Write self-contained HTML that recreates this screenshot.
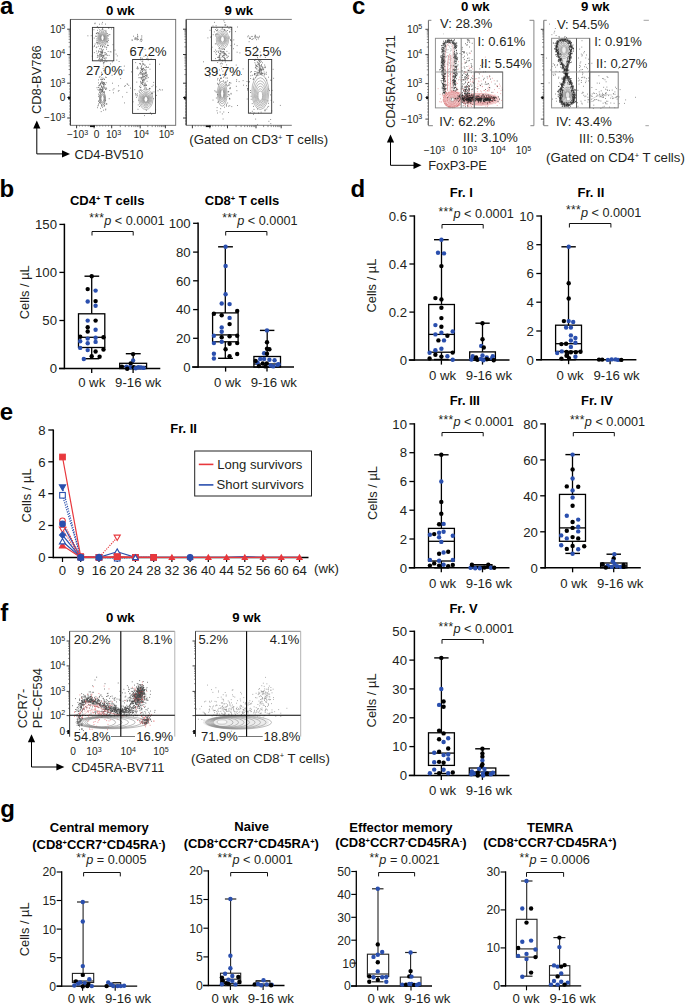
<!DOCTYPE html>
<html><head><meta charset="utf-8"><style>
html,body{margin:0;padding:0;background:#fff;overflow:hidden;width:685px;height:1004px;}
svg{display:block;font-family:"Liberation Sans", sans-serif;}
</style></head><body>
<svg width="685" height="1004" viewBox="0 0 685 1004" fill="#231f20">
<rect width="685" height="1004" fill="#fff"/>
<text x="0.0" y="13.6" font-size="24" font-weight="bold" fill="#000">a</text>
<text x="-0.5" y="197.4" font-size="24" font-weight="bold" fill="#000">b</text>
<text x="352.0" y="13.6" font-size="24" font-weight="bold" fill="#000">c</text>
<text x="350.5" y="197.4" font-size="24" font-weight="bold" fill="#000">d</text>
<text x="-0.3" y="419.7" font-size="24" font-weight="bold" fill="#000">e</text>
<text x="0.2" y="621.0" font-size="24" font-weight="bold" fill="#000">f</text>
<text x="0.2" y="816.6" font-size="24" font-weight="bold" fill="#000">g</text>
<rect x="70.4" y="19.4" width="105.3" height="105.9" fill="none" stroke="#666" stroke-width="0.9"/>
<line x1="70.4" y1="19.4" x2="70.4" y2="125.3" stroke="#333" stroke-width="1" />
<line x1="67.2" y1="29.2" x2="70.4" y2="29.2" stroke="#222" stroke-width="0.9" />
<line x1="67.2" y1="54.5" x2="70.4" y2="54.5" stroke="#222" stroke-width="0.9" />
<line x1="67.2" y1="83.2" x2="70.4" y2="83.2" stroke="#222" stroke-width="0.9" />
<line x1="67.2" y1="97.5" x2="70.4" y2="97.5" stroke="#222" stroke-width="0.9" />
<line x1="67.2" y1="118.0" x2="70.4" y2="118.0" stroke="#222" stroke-width="0.9" />
<line x1="68.6" y1="46.9" x2="70.4" y2="46.9" stroke="#444" stroke-width="0.6" />
<line x1="68.6" y1="42.4" x2="70.4" y2="42.4" stroke="#444" stroke-width="0.6" />
<line x1="68.6" y1="39.3" x2="70.4" y2="39.3" stroke="#444" stroke-width="0.6" />
<line x1="68.6" y1="36.8" x2="70.4" y2="36.8" stroke="#444" stroke-width="0.6" />
<line x1="68.6" y1="34.8" x2="70.4" y2="34.8" stroke="#444" stroke-width="0.6" />
<line x1="68.6" y1="33.1" x2="70.4" y2="33.1" stroke="#444" stroke-width="0.6" />
<line x1="68.6" y1="31.7" x2="70.4" y2="31.7" stroke="#444" stroke-width="0.6" />
<line x1="68.6" y1="30.4" x2="70.4" y2="30.4" stroke="#444" stroke-width="0.6" />
<line x1="68.6" y1="74.6" x2="70.4" y2="74.6" stroke="#444" stroke-width="0.6" />
<line x1="68.6" y1="69.5" x2="70.4" y2="69.5" stroke="#444" stroke-width="0.6" />
<line x1="68.6" y1="65.9" x2="70.4" y2="65.9" stroke="#444" stroke-width="0.6" />
<line x1="68.6" y1="63.1" x2="70.4" y2="63.1" stroke="#444" stroke-width="0.6" />
<line x1="68.6" y1="60.9" x2="70.4" y2="60.9" stroke="#444" stroke-width="0.6" />
<line x1="68.6" y1="58.9" x2="70.4" y2="58.9" stroke="#444" stroke-width="0.6" />
<line x1="68.6" y1="57.3" x2="70.4" y2="57.3" stroke="#444" stroke-width="0.6" />
<line x1="68.6" y1="55.8" x2="70.4" y2="55.8" stroke="#444" stroke-width="0.6" />
<line x1="69.2" y1="86.0" x2="70.4" y2="86.0" stroke="#444" stroke-width="0.6" />
<line x1="69.2" y1="89.0" x2="70.4" y2="89.0" stroke="#444" stroke-width="0.6" />
<line x1="69.2" y1="92.0" x2="70.4" y2="92.0" stroke="#444" stroke-width="0.6" />
<line x1="69.2" y1="95.0" x2="70.4" y2="95.0" stroke="#444" stroke-width="0.6" />
<line x1="69.2" y1="100.0" x2="70.4" y2="100.0" stroke="#444" stroke-width="0.6" />
<line x1="69.2" y1="103.0" x2="70.4" y2="103.0" stroke="#444" stroke-width="0.6" />
<line x1="69.2" y1="106.0" x2="70.4" y2="106.0" stroke="#444" stroke-width="0.6" />
<line x1="69.2" y1="109.0" x2="70.4" y2="109.0" stroke="#444" stroke-width="0.6" />
<line x1="69.2" y1="112.0" x2="70.4" y2="112.0" stroke="#444" stroke-width="0.6" />
<line x1="69.2" y1="115.0" x2="70.4" y2="115.0" stroke="#444" stroke-width="0.6" />
<line x1="69.2" y1="121.0" x2="70.4" y2="121.0" stroke="#444" stroke-width="0.6" />
<line x1="69.2" y1="124.0" x2="70.4" y2="124.0" stroke="#444" stroke-width="0.6" />
<line x1="76.6" y1="125.3" x2="76.6" y2="128.3" stroke="#222" stroke-width="0.9" />
<line x1="94.1" y1="125.3" x2="94.1" y2="128.3" stroke="#222" stroke-width="0.9" />
<line x1="111.7" y1="125.3" x2="111.7" y2="128.3" stroke="#222" stroke-width="0.9" />
<line x1="140.2" y1="125.3" x2="140.2" y2="128.3" stroke="#222" stroke-width="0.9" />
<line x1="165.4" y1="125.3" x2="165.4" y2="128.3" stroke="#222" stroke-width="0.9" />
<line x1="120.3" y1="125.3" x2="120.3" y2="127.1" stroke="#444" stroke-width="0.6" />
<line x1="125.3" y1="125.3" x2="125.3" y2="127.1" stroke="#444" stroke-width="0.6" />
<line x1="128.9" y1="125.3" x2="128.9" y2="127.1" stroke="#444" stroke-width="0.6" />
<line x1="131.6" y1="125.3" x2="131.6" y2="127.1" stroke="#444" stroke-width="0.6" />
<line x1="133.9" y1="125.3" x2="133.9" y2="127.1" stroke="#444" stroke-width="0.6" />
<line x1="135.8" y1="125.3" x2="135.8" y2="127.1" stroke="#444" stroke-width="0.6" />
<line x1="137.4" y1="125.3" x2="137.4" y2="127.1" stroke="#444" stroke-width="0.6" />
<line x1="138.9" y1="125.3" x2="138.9" y2="127.1" stroke="#444" stroke-width="0.6" />
<line x1="147.8" y1="125.3" x2="147.8" y2="127.1" stroke="#444" stroke-width="0.6" />
<line x1="152.2" y1="125.3" x2="152.2" y2="127.1" stroke="#444" stroke-width="0.6" />
<line x1="155.4" y1="125.3" x2="155.4" y2="127.1" stroke="#444" stroke-width="0.6" />
<line x1="157.8" y1="125.3" x2="157.8" y2="127.1" stroke="#444" stroke-width="0.6" />
<line x1="159.8" y1="125.3" x2="159.8" y2="127.1" stroke="#444" stroke-width="0.6" />
<line x1="161.5" y1="125.3" x2="161.5" y2="127.1" stroke="#444" stroke-width="0.6" />
<line x1="163.0" y1="125.3" x2="163.0" y2="127.1" stroke="#444" stroke-width="0.6" />
<line x1="164.2" y1="125.3" x2="164.2" y2="127.1" stroke="#444" stroke-width="0.6" />
<line x1="76.6" y1="125.3" x2="76.6" y2="126.6" stroke="#444" stroke-width="0.5" />
<line x1="79.5" y1="125.3" x2="79.5" y2="126.6" stroke="#444" stroke-width="0.5" />
<line x1="82.4" y1="125.3" x2="82.4" y2="126.6" stroke="#444" stroke-width="0.5" />
<line x1="85.3" y1="125.3" x2="85.3" y2="126.6" stroke="#444" stroke-width="0.5" />
<line x1="88.2" y1="125.3" x2="88.2" y2="126.6" stroke="#444" stroke-width="0.5" />
<line x1="91.1" y1="125.3" x2="91.1" y2="126.6" stroke="#444" stroke-width="0.5" />
<line x1="94.0" y1="125.3" x2="94.0" y2="126.6" stroke="#444" stroke-width="0.5" />
<line x1="96.9" y1="125.3" x2="96.9" y2="126.6" stroke="#444" stroke-width="0.5" />
<line x1="99.8" y1="125.3" x2="99.8" y2="126.6" stroke="#444" stroke-width="0.5" />
<line x1="102.7" y1="125.3" x2="102.7" y2="126.6" stroke="#444" stroke-width="0.5" />
<line x1="105.6" y1="125.3" x2="105.6" y2="126.6" stroke="#444" stroke-width="0.5" />
<line x1="108.5" y1="125.3" x2="108.5" y2="126.6" stroke="#444" stroke-width="0.5" />
<line x1="111.4" y1="125.3" x2="111.4" y2="126.6" stroke="#444" stroke-width="0.5" />
<rect x="89.9" y="125.5" width="5" height="1.6" fill="#111"/>
<rect x="68.10000000000001" y="96.5" width="2" height="3" fill="#111"/>
<text x="65.3" y="32.6" font-size="10.2" text-anchor="end">10<tspan font-size="7.1" dy="-3.7">5</tspan></text>
<text x="65.3" y="57.9" font-size="10.2" text-anchor="end">10<tspan font-size="7.1" dy="-3.7">4</tspan></text>
<text x="65.3" y="86.6" font-size="10.2" text-anchor="end">10<tspan font-size="7.1" dy="-3.7">3</tspan></text>
<text x="65.3" y="100.9" font-size="10.2" text-anchor="end">0</text>
<text x="65.3" y="121.4" font-size="10.2" text-anchor="end">−10<tspan font-size="7.1" dy="-3.7">3</tspan></text>
<text x="77.5" y="138.2" font-size="10.2" text-anchor="middle">−10<tspan font-size="7.1" dy="-3.7">3</tspan></text>
<text x="96.6" y="138.2" font-size="10.2" text-anchor="middle">0</text>
<text x="113.6" y="138.2" font-size="10.2" text-anchor="middle">10<tspan font-size="7.1" dy="-3.7">3</tspan></text>
<text x="141.2" y="138.2" font-size="10.2" text-anchor="middle">10<tspan font-size="7.1" dy="-3.7">4</tspan></text>
<text x="166.3" y="138.2" font-size="10.2" text-anchor="middle">10<tspan font-size="7.1" dy="-3.7">5</tspan></text>
<path d="M186.2 19.4H291.8M186.2 19.4V125.3H291.8" stroke="#666" stroke-width="0.9" fill="none" />
<line x1="186.2" y1="19.4" x2="186.2" y2="125.3" stroke="#333" stroke-width="1" />
<line x1="183.0" y1="29.2" x2="186.2" y2="29.2" stroke="#222" stroke-width="0.9" />
<line x1="183.0" y1="54.5" x2="186.2" y2="54.5" stroke="#222" stroke-width="0.9" />
<line x1="183.0" y1="83.2" x2="186.2" y2="83.2" stroke="#222" stroke-width="0.9" />
<line x1="183.0" y1="97.5" x2="186.2" y2="97.5" stroke="#222" stroke-width="0.9" />
<line x1="183.0" y1="118.0" x2="186.2" y2="118.0" stroke="#222" stroke-width="0.9" />
<line x1="184.4" y1="46.9" x2="186.2" y2="46.9" stroke="#444" stroke-width="0.6" />
<line x1="184.4" y1="42.4" x2="186.2" y2="42.4" stroke="#444" stroke-width="0.6" />
<line x1="184.4" y1="39.3" x2="186.2" y2="39.3" stroke="#444" stroke-width="0.6" />
<line x1="184.4" y1="36.8" x2="186.2" y2="36.8" stroke="#444" stroke-width="0.6" />
<line x1="184.4" y1="34.8" x2="186.2" y2="34.8" stroke="#444" stroke-width="0.6" />
<line x1="184.4" y1="33.1" x2="186.2" y2="33.1" stroke="#444" stroke-width="0.6" />
<line x1="184.4" y1="31.7" x2="186.2" y2="31.7" stroke="#444" stroke-width="0.6" />
<line x1="184.4" y1="30.4" x2="186.2" y2="30.4" stroke="#444" stroke-width="0.6" />
<line x1="184.4" y1="74.6" x2="186.2" y2="74.6" stroke="#444" stroke-width="0.6" />
<line x1="184.4" y1="69.5" x2="186.2" y2="69.5" stroke="#444" stroke-width="0.6" />
<line x1="184.4" y1="65.9" x2="186.2" y2="65.9" stroke="#444" stroke-width="0.6" />
<line x1="184.4" y1="63.1" x2="186.2" y2="63.1" stroke="#444" stroke-width="0.6" />
<line x1="184.4" y1="60.9" x2="186.2" y2="60.9" stroke="#444" stroke-width="0.6" />
<line x1="184.4" y1="58.9" x2="186.2" y2="58.9" stroke="#444" stroke-width="0.6" />
<line x1="184.4" y1="57.3" x2="186.2" y2="57.3" stroke="#444" stroke-width="0.6" />
<line x1="184.4" y1="55.8" x2="186.2" y2="55.8" stroke="#444" stroke-width="0.6" />
<line x1="185.0" y1="86.0" x2="186.2" y2="86.0" stroke="#444" stroke-width="0.6" />
<line x1="185.0" y1="89.0" x2="186.2" y2="89.0" stroke="#444" stroke-width="0.6" />
<line x1="185.0" y1="92.0" x2="186.2" y2="92.0" stroke="#444" stroke-width="0.6" />
<line x1="185.0" y1="95.0" x2="186.2" y2="95.0" stroke="#444" stroke-width="0.6" />
<line x1="185.0" y1="100.0" x2="186.2" y2="100.0" stroke="#444" stroke-width="0.6" />
<line x1="185.0" y1="103.0" x2="186.2" y2="103.0" stroke="#444" stroke-width="0.6" />
<line x1="185.0" y1="106.0" x2="186.2" y2="106.0" stroke="#444" stroke-width="0.6" />
<line x1="185.0" y1="109.0" x2="186.2" y2="109.0" stroke="#444" stroke-width="0.6" />
<line x1="185.0" y1="112.0" x2="186.2" y2="112.0" stroke="#444" stroke-width="0.6" />
<line x1="185.0" y1="115.0" x2="186.2" y2="115.0" stroke="#444" stroke-width="0.6" />
<line x1="185.0" y1="121.0" x2="186.2" y2="121.0" stroke="#444" stroke-width="0.6" />
<line x1="185.0" y1="124.0" x2="186.2" y2="124.0" stroke="#444" stroke-width="0.6" />
<line x1="192.4" y1="125.3" x2="192.4" y2="128.3" stroke="#222" stroke-width="0.9" />
<line x1="209.9" y1="125.3" x2="209.9" y2="128.3" stroke="#222" stroke-width="0.9" />
<line x1="227.5" y1="125.3" x2="227.5" y2="128.3" stroke="#222" stroke-width="0.9" />
<line x1="256.0" y1="125.3" x2="256.0" y2="128.3" stroke="#222" stroke-width="0.9" />
<line x1="281.2" y1="125.3" x2="281.2" y2="128.3" stroke="#222" stroke-width="0.9" />
<line x1="236.1" y1="125.3" x2="236.1" y2="127.1" stroke="#444" stroke-width="0.6" />
<line x1="241.1" y1="125.3" x2="241.1" y2="127.1" stroke="#444" stroke-width="0.6" />
<line x1="244.7" y1="125.3" x2="244.7" y2="127.1" stroke="#444" stroke-width="0.6" />
<line x1="247.4" y1="125.3" x2="247.4" y2="127.1" stroke="#444" stroke-width="0.6" />
<line x1="249.7" y1="125.3" x2="249.7" y2="127.1" stroke="#444" stroke-width="0.6" />
<line x1="251.6" y1="125.3" x2="251.6" y2="127.1" stroke="#444" stroke-width="0.6" />
<line x1="253.2" y1="125.3" x2="253.2" y2="127.1" stroke="#444" stroke-width="0.6" />
<line x1="254.7" y1="125.3" x2="254.7" y2="127.1" stroke="#444" stroke-width="0.6" />
<line x1="263.6" y1="125.3" x2="263.6" y2="127.1" stroke="#444" stroke-width="0.6" />
<line x1="268.0" y1="125.3" x2="268.0" y2="127.1" stroke="#444" stroke-width="0.6" />
<line x1="271.2" y1="125.3" x2="271.2" y2="127.1" stroke="#444" stroke-width="0.6" />
<line x1="273.6" y1="125.3" x2="273.6" y2="127.1" stroke="#444" stroke-width="0.6" />
<line x1="275.6" y1="125.3" x2="275.6" y2="127.1" stroke="#444" stroke-width="0.6" />
<line x1="277.3" y1="125.3" x2="277.3" y2="127.1" stroke="#444" stroke-width="0.6" />
<line x1="278.8" y1="125.3" x2="278.8" y2="127.1" stroke="#444" stroke-width="0.6" />
<line x1="280.0" y1="125.3" x2="280.0" y2="127.1" stroke="#444" stroke-width="0.6" />
<line x1="192.4" y1="125.3" x2="192.4" y2="126.6" stroke="#444" stroke-width="0.5" />
<line x1="195.3" y1="125.3" x2="195.3" y2="126.6" stroke="#444" stroke-width="0.5" />
<line x1="198.2" y1="125.3" x2="198.2" y2="126.6" stroke="#444" stroke-width="0.5" />
<line x1="201.1" y1="125.3" x2="201.1" y2="126.6" stroke="#444" stroke-width="0.5" />
<line x1="204.0" y1="125.3" x2="204.0" y2="126.6" stroke="#444" stroke-width="0.5" />
<line x1="206.9" y1="125.3" x2="206.9" y2="126.6" stroke="#444" stroke-width="0.5" />
<line x1="209.8" y1="125.3" x2="209.8" y2="126.6" stroke="#444" stroke-width="0.5" />
<line x1="212.7" y1="125.3" x2="212.7" y2="126.6" stroke="#444" stroke-width="0.5" />
<line x1="215.6" y1="125.3" x2="215.6" y2="126.6" stroke="#444" stroke-width="0.5" />
<line x1="218.5" y1="125.3" x2="218.5" y2="126.6" stroke="#444" stroke-width="0.5" />
<line x1="221.4" y1="125.3" x2="221.4" y2="126.6" stroke="#444" stroke-width="0.5" />
<line x1="224.3" y1="125.3" x2="224.3" y2="126.6" stroke="#444" stroke-width="0.5" />
<line x1="227.2" y1="125.3" x2="227.2" y2="126.6" stroke="#444" stroke-width="0.5" />
<rect x="205.7" y="125.5" width="5" height="1.6" fill="#111"/>
<rect x="183.89999999999998" y="96.5" width="2" height="3" fill="#111"/>
<path d="M102.8 50.7h0M96.5 36.3h0M93.9 29.7h0M94.2 38.1h0M96.8 42.2h0M91.2 35.7h0M95.6 36.2h0M98.1 33.5h0M107.3 33.5h0M102.4 47.1h0M97.0 40.6h0M108.6 27.6h0M99.6 56.0h0M105.9 30.4h0M109.0 34.6h0M106.5 49.2h0M96.5 33.6h0M105.4 24.1h0M108.2 45.5h0M101.4 52.2h0M107.7 45.2h0M101.0 48.4h0M96.7 42.8h0M94.9 23.7h0M103.2 58.0h0M105.7 44.2h0M106.9 41.5h0M102.0 24.0h0M97.4 42.9h0M92.9 46.8h0M94.6 46.1h0M98.7 46.2h0M103.1 27.7h0M108.1 51.5h0M107.4 35.7h0M99.7 29.8h0M108.2 38.8h0M96.3 33.5h0M109.9 34.6h0M97.8 42.7h0M108.8 28.4h0M94.6 45.9h0M99.1 43.6h0M97.5 30.3h0M108.5 35.9h0M107.8 45.4h0M96.3 47.6h0M104.9 46.3h0M106.2 47.4h0M100.4 52.1h0M96.9 46.9h0M104.7 47.0h0M111.0 51.9h0M97.3 26.5h0M106.2 31.9h0M102.4 46.7h0M95.1 23.1h0M98.6 27.9h0M95.1 44.0h0M98.0 32.9h0M111.6 28.9h0M102.4 28.4h0M100.4 45.9h0M101.2 49.2h0M102.4 22.4h0M99.4 24.2h0M87.9 35.8h0M108.5 40.4h0M97.2 32.5h0M107.6 41.3h0M102.7 46.4h0M97.8 44.1h0M99.4 48.8h0M96.8 38.9h0M102.5 29.4h0M110.2 51.7h0M100.4 46.2h0M107.8 42.7h0M102.5 52.2h0M94.3 52.6h0M106.8 47.3h0M106.2 57.9h0M101.8 54.0h0M100.2 61.6h0M103.4 56.2h0M101.0 52.1h0M101.8 59.1h0M100.9 55.2h0M101.4 56.4h0M97.5 55.2h0M99.6 59.1h0M99.8 58.0h0M106.3 54.9h0M100.3 56.7h0M102.0 52.5h0M103.3 63.1h0M101.3 55.3h0M99.1 57.1h0M98.5 52.1h0M105.6 52.8h0M105.0 61.3h0M102.7 57.9h0M107.5 55.3h0M100.3 51.3h0M102.1 61.2h0M104.7 52.7h0M99.6 54.2h0M102.8 55.3h0M102.6 57.0h0M101.2 55.9h0M102.6 55.7h0M103.4 62.5h0M103.7 56.2h0M97.3 57.4h0M96.5 51.1h0M104.4 58.5h0M101.6 50.0h0M101.0 53.6h0M103.8 63.9h0M102.6 53.3h0M98.7 55.8h0M101.5 52.0h0M102.3 52.0h0M105.1 59.7h0M105.0 54.3h0M103.4 55.5h0M100.9 54.8h0M98.4 50.9h0M104.2 55.3h0M102.6 59.5h0M97.1 53.3h0M102.5 57.4h0M100.9 59.6h0M102.6 51.8h0M99.4 58.8h0M103.3 49.4h0M105.8 58.1h0M105.8 54.7h0M101.2 52.1h0M109.1 55.4h0M106.4 53.7h0M102.5 50.2h0M100.9 59.4h0M98.5 59.8h0M102.9 52.3h0M100.6 54.4h0M101.9 54.1h0M99.7 54.9h0M99.1 51.5h0M101.9 59.1h0M97.7 56.0h0M100.6 83.2h0M103.9 86.4h0M105.3 84.5h0M102.9 88.4h0M101.9 82.4h0M101.8 90.4h0M104.1 83.7h0M101.9 77.9h0M103.4 82.4h0M98.0 89.6h0M104.4 79.3h0M99.6 84.8h0M99.5 92.7h0M100.2 84.9h0M103.3 84.7h0M103.0 83.2h0M99.3 77.2h0M106.1 87.8h0M102.5 89.8h0M102.4 90.3h0M106.2 82.7h0M98.6 82.9h0M99.1 95.2h0M103.8 83.3h0M98.9 87.5h0M105.1 70.3h0M103.2 82.5h0M104.3 82.5h0M101.4 79.5h0M103.8 87.2h0M100.1 76.7h0M101.1 89.8h0M101.8 89.3h0M99.5 89.5h0M106.1 89.0h0M100.3 89.5h0M100.7 84.8h0M101.9 82.7h0M103.3 89.3h0M102.6 88.7h0M100.4 83.4h0M101.5 86.2h0M102.5 90.0h0M99.0 90.5h0M99.0 85.7h0M101.4 75.5h0M102.2 91.1h0M101.7 87.0h0M101.2 83.2h0M101.4 86.1h0M102.2 81.6h0M102.5 91.0h0M101.7 86.9h0M103.2 78.3h0M103.0 91.7h0M100.6 88.2h0M102.5 79.4h0M104.2 91.6h0M98.6 96.6h0M101.7 72.3h0M102.8 79.6h0M99.1 85.6h0M104.8 87.4h0M105.5 89.3h0M101.5 81.2h0M100.5 93.0h0M102.9 90.8h0M104.2 84.6h0M102.9 87.8h0M102.8 83.0h0M98.4 94.1h0M98.3 87.4h0M100.7 84.0h0M97.0 87.7h0M104.0 92.7h0M100.7 89.9h0M103.7 70.7h0M104.5 92.2h0M100.8 89.7h0M101.6 89.7h0M99.9 88.7h0M104.3 79.4h0M100.0 92.4h0M100.6 79.3h0M103.1 86.7h0M104.3 88.3h0M104.4 83.6h0M100.1 91.4h0M102.6 83.5h0M102.2 87.5h0M104.0 85.6h0M106.9 104.0h0M102.1 91.5h0M105.4 89.1h0M99.9 90.8h0M103.0 84.2h0M98.4 79.9h0M103.5 84.7h0M101.7 91.5h0M104.3 103.9h0M101.6 106.1h0M98.8 100.9h0M101.2 111.6h0M103.4 110.2h0M104.4 105.5h0M105.8 109.1h0M103.1 106.1h0M97.9 105.9h0M101.6 105.3h0M98.6 105.1h0M97.4 107.7h0M102.5 107.3h0M106.0 104.1h0M98.4 101.3h0M99.6 102.5h0M98.6 103.9h0M105.7 109.9h0M104.6 106.1h0M100.6 108.3h0M99.8 102.9h0M106.6 103.8h0M149.4 88.6h0M154.0 91.9h0M153.7 82.4h0M153.2 85.2h0M140.4 81.4h0M143.5 85.8h0M144.4 85.5h0M141.3 90.1h0M138.8 100.3h0M142.0 82.2h0M137.5 95.8h0M138.0 109.3h0M146.1 87.9h0M136.1 94.9h0M159.6 89.4h0M149.8 88.4h0M140.1 89.8h0M142.9 81.2h0M137.5 93.9h0M135.7 93.5h0M139.1 91.0h0M153.5 98.7h0M151.9 93.4h0M144.6 115.6h0M152.2 93.3h0M135.9 94.9h0M150.0 88.7h0M150.3 112.7h0M146.3 110.4h0M144.8 88.4h0M149.2 89.0h0M146.5 89.0h0M151.7 114.3h0M156.6 95.4h0M138.2 104.9h0M142.6 81.0h0M152.0 86.6h0M152.1 92.2h0M139.4 106.5h0M145.0 87.2h0M152.1 93.8h0M158.0 90.8h0M155.7 109.8h0M134.8 89.7h0M133.1 101.8h0M140.3 63.5h0M142.9 80.0h0M146.1 74.9h0M146.1 76.1h0M142.7 80.6h0M146.2 73.3h0M142.3 74.7h0M143.2 68.8h0M146.1 72.8h0M144.4 69.4h0M144.1 79.1h0M145.9 70.7h0M141.9 79.5h0M143.2 76.4h0M142.1 61.5h0M142.3 58.3h0M144.1 70.2h0M140.9 74.2h0M143.8 64.5h0M137.8 67.5h0M136.9 68.3h0M147.8 67.5h0M145.0 65.0h0M143.9 73.4h0M142.8 80.6h0M148.3 77.6h0M143.4 68.2h0M144.8 74.0h0M145.5 75.7h0M148.2 60.1h0M142.1 83.1h0M141.9 69.7h0M142.2 65.0h0M146.4 67.1h0M140.4 72.8h0M146.0 69.4h0M140.9 83.1h0M145.6 73.0h0M139.6 63.6h0M140.9 58.2h0M145.2 71.0h0M146.5 66.8h0M145.6 85.3h0M140.8 68.4h0M142.7 63.2h0M147.4 56.8h0M139.7 73.8h0M142.3 77.3h0M143.8 74.3h0M146.4 58.9h0M143.0 70.3h0M143.4 77.8h0M140.3 70.9h0M145.4 78.8h0M149.9 64.3h0M145.4 77.8h0M142.4 71.7h0M142.4 71.6h0M145.2 72.8h0M141.7 66.4h0M142.9 68.8h0M142.5 84.3h0M144.1 80.0h0M144.1 76.5h0M142.6 73.5h0M145.3 67.3h0M147.0 76.3h0M140.8 72.1h0M141.0 77.3h0M140.8 85.1h0M140.7 57.8h0M140.8 59.9h0M142.9 84.5h0M144.9 65.3h0M140.7 90.2h0M144.0 76.0h0M146.9 77.1h0M144.1 80.9h0M141.2 67.5h0M143.2 68.4h0M142.8 76.8h0M150.0 69.2h0M142.6 74.7h0M144.3 84.4h0M141.5 69.4h0M138.1 68.6h0M144.6 76.4h0M140.0 73.0h0M143.1 80.0h0M141.2 74.0h0M137.5 66.8h0M147.9 58.5h0M142.0 77.8h0M141.9 69.5h0M142.8 76.0h0M142.8 61.0h0M142.6 69.2h0M141.4 77.8h0M144.9 83.2h0M141.5 83.4h0M146.5 85.1h0M147.2 74.8h0M142.5 82.6h0M138.9 77.7h0M141.4 73.0h0M137.8 68.9h0M142.9 83.1h0M146.0 75.4h0M142.4 69.4h0M144.2 74.0h0M142.9 64.0h0M140.4 64.3h0M139.4 86.4h0M143.7 63.8h0M145.0 86.1h0M141.9 70.6h0M142.0 78.3h0M144.9 85.5h0M146.6 85.5h0M147.1 81.3h0M138.4 75.0h0M143.9 72.9h0M145.7 73.1h0M140.2 87.6h0M145.0 77.8h0M145.8 84.5h0M144.0 56.3h0M141.0 72.3h0M140.0 77.6h0M146.6 72.1h0M139.6 92.2h0M141.6 66.1h0M143.7 79.4h0M140.9 82.3h0M141.5 68.6h0M143.5 82.2h0M141.1 78.6h0M140.9 87.1h0M142.8 75.0h0M145.2 83.2h0M146.8 78.6h0M135.2 37.6h0M138.5 39.4h0M141.2 39.2h0M140.2 40.9h0M137.5 36.1h0M133.5 36.2h0M141.8 37.1h0M140.7 39.4h0M142.1 40.1h0M136.7 38.2h0M137.3 38.8h0M135.4 38.4h0M141.8 35.8h0M137.8 37.0h0M137.6 39.8h0M136.8 39.7h0M132.2 40.3h0M135.2 39.5h0M137.5 34.4h0M134.7 38.9h0M141.7 39.0h0M137.8 36.2h0M141.3 41.4h0M137.1 38.1h0M132.1 39.9h0M160.8 90.0h0M140.7 87.6h0M109.2 98.7h0M105.7 77.1h0M126.9 92.4h0M128.8 85.4h0M112.3 61.9h0M123.9 70.1h0M104.7 62.3h0M116.1 54.1h0M104.1 57.1h0M125.6 85.7h0M151.1 59.0h0M113.5 92.8h0M120.0 75.4h0M146.9 75.3h0M106.8 61.6h0M127.7 84.3h0M103.8 66.2h0M130.5 88.1h0M114.0 88.7h0M131.0 55.0h0M118.6 85.8h0M115.0 50.1h0M119.0 90.5h0M145.1 49.3h0M159.6 64.2h0M136.4 97.3h0M136.8 82.1h0M106.7 88.8h0M113.0 44.7h0M162.6 89.9h0M148.5 67.2h0M144.8 79.7h0M106.2 77.5h0M92.2 56.2h0M124.3 66.1h0M120.7 78.5h0M122.4 96.9h0M112.1 75.3h0M135.7 62.6h0M119.1 61.5h0M124.6 102.9h0M112.5 83.2h0M110.4 63.9h0M105.7 100.4h0M156.1 86.8h0M113.0 89.9h0M118.3 91.2h0M127.1 83.9h0M131.5 71.9h0M117.3 55.9h0M116.8 60.1h0M121.0 66.6h0M124.4 86.3h0M103.1 68.6h0M109.8 90.5h0" stroke="#333" stroke-width="0.84" stroke-linecap="round" opacity="0.8"/>
<ellipse cx="102.5" cy="37.8" rx="4.8" ry="8.2" fill="none" stroke="#777" stroke-width="0.55" transform="rotate(0 102.5 37.8)"/>
<ellipse cx="102.5" cy="37.8" rx="4.0" ry="6.8" fill="none" stroke="#777" stroke-width="0.55" transform="rotate(0 102.5 37.8)"/>
<ellipse cx="102.5" cy="37.8" rx="3.3" ry="5.6" fill="none" stroke="#777" stroke-width="0.55" transform="rotate(0 102.5 37.8)"/>
<ellipse cx="102.5" cy="37.8" rx="2.7" ry="4.7" fill="none" stroke="#777" stroke-width="0.55" transform="rotate(0 102.5 37.8)"/>
<ellipse cx="102.5" cy="37.8" rx="2.3" ry="3.9" fill="none" stroke="#777" stroke-width="0.55" transform="rotate(0 102.5 37.8)"/>
<ellipse cx="102.5" cy="37.8" rx="1.9" ry="3.2" fill="none" stroke="#777" stroke-width="0.55" transform="rotate(0 102.5 37.8)"/>
<ellipse cx="102.5" cy="37.8" rx="1.6" ry="2.7" fill="none" stroke="#777" stroke-width="0.55" transform="rotate(0 102.5 37.8)"/>
<ellipse cx="102.5" cy="98.5" rx="3.0" ry="6.5" fill="none" stroke="#555" stroke-width="0.6" transform="rotate(0 102.5 98.5)"/>
<ellipse cx="102.5" cy="98.5" rx="2.2" ry="4.7" fill="none" stroke="#555" stroke-width="0.6" transform="rotate(0 102.5 98.5)"/>
<ellipse cx="102.5" cy="98.5" rx="1.6" ry="3.4" fill="none" stroke="#555" stroke-width="0.6" transform="rotate(0 102.5 98.5)"/>
<ellipse cx="145.9" cy="99.3" rx="7.0" ry="10.2" fill="none" stroke="#7a7a7a" stroke-width="0.55" transform="rotate(0 145.9 99.3)"/>
<ellipse cx="145.9" cy="99.3" rx="5.8" ry="8.5" fill="none" stroke="#7a7a7a" stroke-width="0.55" transform="rotate(0 145.9 99.3)"/>
<ellipse cx="145.9" cy="99.3" rx="4.8" ry="7.0" fill="none" stroke="#7a7a7a" stroke-width="0.55" transform="rotate(0 145.9 99.3)"/>
<ellipse cx="145.9" cy="99.3" rx="4.0" ry="5.8" fill="none" stroke="#7a7a7a" stroke-width="0.55" transform="rotate(0 145.9 99.3)"/>
<ellipse cx="145.9" cy="99.3" rx="3.3" ry="4.8" fill="none" stroke="#7a7a7a" stroke-width="0.55" transform="rotate(0 145.9 99.3)"/>
<ellipse cx="145.9" cy="99.3" rx="2.8" ry="4.0" fill="none" stroke="#7a7a7a" stroke-width="0.55" transform="rotate(0 145.9 99.3)"/>
<ellipse cx="145.9" cy="99.3" rx="2.3" ry="3.3" fill="none" stroke="#7a7a7a" stroke-width="0.55" transform="rotate(0 145.9 99.3)"/>
<ellipse cx="145.9" cy="99.3" rx="1.9" ry="2.8" fill="none" stroke="#7a7a7a" stroke-width="0.55" transform="rotate(0 145.9 99.3)"/>
<rect x="92.4" y="27.4" width="21.4" height="33.4" fill="none" stroke="#333" stroke-width="0.9"/>
<rect x="132.6" y="59.5" width="22.9" height="53.9" fill="none" stroke="#333" stroke-width="0.9"/>
<text x="129.6" y="55.5" font-size="13">67.2%</text>
<text x="85.9" y="75.3" font-size="13">27.0%</text>
<text x="120.4" y="14.5" font-size="13.2" text-anchor="middle" font-weight="bold" fill="#000">0 wk</text>
<path d="M220.6 51.2h0M214.2 51.5h0M237.1 52.2h0M214.3 31.9h0M229.1 38.7h0M235.4 31.6h0M223.9 20.8h0M215.6 50.0h0M222.2 28.6h0M237.1 45.6h0M217.8 29.8h0M217.0 34.4h0M215.8 52.8h0M225.3 54.1h0M226.9 51.4h0M237.4 27.0h0M229.0 53.3h0M229.5 32.0h0M224.8 30.0h0M225.0 24.9h0M233.6 48.7h0M224.8 22.5h0M226.7 64.9h0M212.1 47.2h0M230.2 27.1h0M223.4 51.5h0M231.2 29.6h0M227.4 26.4h0M207.9 37.9h0M216.5 33.9h0M231.2 27.7h0M216.5 51.3h0M223.2 52.3h0M224.3 29.8h0M222.1 49.4h0M219.2 55.9h0M222.5 27.5h0M213.0 26.0h0M224.6 49.3h0M234.5 44.2h0M224.8 30.1h0M211.4 36.4h0M213.2 34.7h0M216.1 43.9h0M215.6 35.9h0M229.9 31.6h0M219.6 47.9h0M210.0 30.3h0M216.8 28.0h0M217.7 30.2h0M224.2 29.8h0M231.7 41.0h0M227.4 30.5h0M216.7 30.5h0M219.6 57.6h0M233.8 39.9h0M230.5 40.5h0M225.8 25.0h0M215.5 29.6h0M229.0 28.5h0M230.9 45.6h0M214.4 22.4h0M215.4 34.3h0M225.2 25.2h0M216.1 25.7h0M217.0 30.9h0M211.3 49.1h0M223.2 49.1h0M229.3 37.1h0M230.4 39.5h0M215.3 43.8h0M210.4 37.1h0M226.1 31.1h0M223.9 53.7h0M224.4 49.6h0M223.9 55.2h0M224.3 52.8h0M220.3 63.8h0M219.7 53.5h0M221.2 52.4h0M225.3 62.0h0M220.0 50.0h0M225.3 59.9h0M224.3 60.0h0M219.6 55.4h0M218.1 51.0h0M224.7 53.6h0M228.4 56.3h0M220.2 58.8h0M227.0 57.7h0M218.6 57.3h0M225.9 54.3h0M219.8 59.6h0M222.4 52.1h0M220.9 53.4h0M222.8 56.4h0M225.2 58.5h0M217.6 57.4h0M224.5 57.6h0M224.9 54.1h0M219.3 59.3h0M219.0 48.4h0M224.9 53.5h0M221.1 51.1h0M218.3 52.0h0M221.0 57.3h0M215.6 58.6h0M218.7 52.3h0M223.9 55.7h0M217.7 62.5h0M219.6 56.9h0M222.6 60.9h0M220.7 59.5h0M219.9 59.9h0M219.9 54.7h0M227.3 57.1h0M222.3 63.8h0M223.0 53.1h0M224.1 51.9h0M225.2 60.2h0M220.4 53.8h0M222.5 56.0h0M219.3 58.0h0M216.3 54.5h0M220.9 55.0h0M222.9 51.7h0M223.6 55.4h0M220.2 51.2h0M218.7 57.3h0M219.3 56.2h0M225.0 59.6h0M226.4 55.0h0M219.0 59.6h0M222.9 59.9h0M222.0 60.2h0M224.4 58.5h0M223.4 57.4h0M222.7 56.8h0M224.8 54.2h0M226.9 55.6h0M224.8 55.7h0M221.3 63.1h0M221.1 51.5h0M231.1 94.1h0M226.2 82.0h0M229.7 85.0h0M221.4 68.7h0M220.7 78.6h0M228.4 94.7h0M226.6 106.1h0M220.1 112.0h0M227.8 96.5h0M222.3 113.9h0M228.1 91.8h0M230.9 83.2h0M225.3 82.0h0M229.8 88.7h0M227.5 80.9h0M221.1 78.1h0M224.6 107.2h0M214.8 90.8h0M216.3 98.0h0M226.4 104.2h0M218.1 84.2h0M228.7 106.2h0M219.5 80.2h0M216.2 92.3h0M217.4 79.9h0M226.2 85.2h0M229.5 98.5h0M229.8 105.7h0M217.4 94.5h0M223.1 119.0h0M222.9 71.1h0M217.5 83.3h0M220.5 78.2h0M216.0 91.3h0M223.5 80.8h0M227.7 103.0h0M223.4 74.4h0M218.3 101.8h0M229.4 95.0h0M227.5 85.9h0M224.2 76.7h0M226.3 105.2h0M217.9 78.4h0M213.0 100.1h0M231.0 93.4h0M218.3 84.4h0M220.7 108.7h0M228.3 91.8h0M229.9 82.5h0M221.5 78.2h0M228.3 85.4h0M219.5 80.1h0M222.7 74.7h0M219.9 81.9h0M217.0 110.7h0M217.1 107.6h0M217.9 102.4h0M229.4 82.7h0M223.8 112.0h0M217.5 113.0h0M219.6 69.9h0M230.2 88.6h0M228.8 91.4h0M227.4 78.1h0M268.7 106.4h0M262.1 73.6h0M257.6 109.1h0M265.3 57.4h0M265.0 110.7h0M253.6 114.4h0M268.6 103.3h0M268.5 77.2h0M271.1 100.3h0M273.1 69.3h0M269.5 90.6h0M247.4 89.0h0M250.2 112.6h0M250.6 90.5h0M273.6 102.1h0M258.3 72.9h0M250.6 72.1h0M261.1 112.2h0M253.3 79.3h0M250.8 75.7h0M253.5 106.4h0M255.7 119.1h0M247.2 99.0h0M265.4 67.6h0M270.8 123.6h0M267.4 107.2h0M250.6 92.5h0M259.6 69.2h0M273.7 78.3h0M268.9 121.3h0M254.1 112.9h0M270.4 94.9h0M271.4 80.3h0M268.8 89.1h0M249.3 81.8h0M270.7 119.5h0M265.1 109.4h0M265.0 110.7h0M248.6 88.9h0M252.3 111.3h0M256.6 46.4h0M261.1 69.3h0M254.0 109.4h0M272.1 90.4h0M258.5 113.0h0M268.1 100.9h0M257.7 124.6h0M251.2 99.3h0M252.3 75.3h0M266.8 109.0h0M280.3 105.4h0M236.3 86.3h0M270.6 80.2h0M271.8 110.9h0M265.8 78.4h0M257.8 74.7h0M266.8 80.2h0M248.9 81.7h0M252.2 103.6h0M257.7 62.4h0M259.5 72.4h0M258.3 64.6h0M258.2 72.4h0M260.1 52.0h0M259.3 65.1h0M262.9 68.2h0M256.8 68.5h0M259.5 66.1h0M258.9 60.5h0M264.5 74.9h0M262.0 69.2h0M259.7 71.3h0M259.8 71.4h0M256.8 55.3h0M257.1 55.8h0M259.2 70.0h0M254.3 74.8h0M261.4 70.7h0M255.6 77.3h0M260.2 72.9h0M261.6 65.0h0M257.3 64.2h0M256.9 69.3h0M254.9 62.7h0M260.6 69.5h0M260.1 56.8h0M256.8 66.1h0M259.1 65.9h0M261.6 69.6h0M259.0 70.1h0M261.0 66.7h0M262.1 73.2h0M259.4 70.3h0M261.6 72.6h0M261.5 70.8h0M262.5 69.8h0M253.2 79.4h0M259.3 61.8h0M258.4 63.8h0M264.9 73.5h0M254.6 73.8h0M256.1 54.3h0M259.2 67.6h0M257.8 55.0h0M253.7 78.2h0M260.2 68.7h0M262.1 73.7h0M257.3 75.0h0M257.6 57.5h0M264.7 67.6h0M257.3 72.4h0M254.6 60.5h0M257.6 66.4h0M257.7 73.4h0M260.7 62.4h0M259.6 63.4h0M262.0 73.2h0M259.0 60.6h0M259.3 64.6h0M261.0 69.2h0M261.0 65.8h0M262.3 67.9h0M258.1 70.9h0M256.9 66.9h0M263.2 68.2h0M263.5 69.7h0M259.7 61.6h0M262.7 67.1h0M258.1 49.1h0M263.7 69.7h0M261.6 64.8h0M260.1 60.7h0M260.0 68.7h0M256.7 73.0h0M257.9 59.0h0M254.8 71.6h0M260.7 74.5h0M255.6 67.7h0M257.2 61.9h0M260.0 65.7h0M260.1 70.8h0M261.3 61.3h0M259.3 68.9h0M255.9 71.5h0M259.1 67.1h0M260.1 60.1h0M258.8 73.0h0M255.6 59.4h0M259.7 73.2h0M264.9 74.3h0M256.6 75.6h0M256.6 59.6h0M266.3 72.3h0M261.0 73.9h0M264.1 72.0h0M262.4 62.8h0M263.1 73.6h0M259.6 71.2h0M260.8 73.5h0M255.7 73.6h0M265.1 66.4h0M261.7 74.4h0M254.5 73.5h0M255.7 64.2h0M260.5 67.9h0M256.5 65.5h0M256.0 66.3h0M255.9 65.4h0M258.4 63.0h0M255.0 60.5h0M260.3 70.4h0M256.5 39.7h0M252.4 39.1h0M249.1 41.7h0M257.0 37.7h0M249.9 38.6h0M247.8 36.8h0M255.6 38.1h0M251.9 39.5h0M250.3 38.5h0M251.9 36.6h0M254.8 36.4h0M259.1 37.1h0M259.4 36.2h0M255.2 36.1h0M249.4 38.3h0M255.4 36.0h0M257.0 36.7h0M253.8 38.6h0M255.2 35.1h0M258.3 38.9h0M252.1 36.4h0M248.3 35.8h0M255.0 37.5h0M250.0 37.2h0M258.1 37.5h0M231.8 106.6h0M246.5 85.7h0M231.5 60.2h0M223.6 77.3h0M236.9 90.7h0M247.7 88.6h0M243.1 68.9h0M209.8 76.7h0M226.6 74.6h0M236.2 65.1h0M241.6 74.5h0M247.0 81.5h0M266.4 74.2h0M261.0 71.8h0M236.4 81.3h0M248.4 85.8h0M237.5 105.5h0M229.9 68.3h0M251.1 96.3h0M255.3 67.8h0M264.7 65.0h0M243.1 80.6h0M217.7 73.6h0M229.9 98.9h0M228.9 84.1h0M254.4 74.5h0M229.5 98.3h0M261.9 66.6h0M203.6 61.8h0M225.8 82.8h0M248.6 82.7h0M230.2 87.5h0M226.5 84.2h0M251.4 71.6h0M226.0 78.0h0M217.0 73.3h0M229.7 99.1h0M234.0 72.4h0M221.2 66.2h0M239.1 81.6h0M255.9 74.9h0M239.9 52.9h0M250.7 78.5h0M234.8 74.4h0M236.7 79.7h0M247.8 90.2h0M228.4 112.5h0M243.6 85.2h0" stroke="#333" stroke-width="0.84" stroke-linecap="round" opacity="0.8"/>
<ellipse cx="222.5" cy="39.2" rx="6.2" ry="9.7" fill="none" stroke="#858585" stroke-width="0.55" transform="rotate(0 222.5 39.2)"/>
<ellipse cx="222.5" cy="39.2" rx="5.1" ry="8.0" fill="none" stroke="#858585" stroke-width="0.55" transform="rotate(0 222.5 39.2)"/>
<ellipse cx="222.5" cy="39.2" rx="4.2" ry="6.5" fill="none" stroke="#858585" stroke-width="0.55" transform="rotate(0 222.5 39.2)"/>
<ellipse cx="222.5" cy="39.2" rx="3.4" ry="5.3" fill="none" stroke="#858585" stroke-width="0.55" transform="rotate(0 222.5 39.2)"/>
<ellipse cx="222.5" cy="39.2" rx="2.8" ry="4.4" fill="none" stroke="#858585" stroke-width="0.55" transform="rotate(0 222.5 39.2)"/>
<ellipse cx="222.5" cy="39.2" rx="2.3" ry="3.6" fill="none" stroke="#858585" stroke-width="0.55" transform="rotate(0 222.5 39.2)"/>
<ellipse cx="222.5" cy="39.2" rx="1.9" ry="2.9" fill="none" stroke="#858585" stroke-width="0.55" transform="rotate(0 222.5 39.2)"/>
<ellipse cx="222.2" cy="93.7" rx="4.8" ry="12.5" fill="none" stroke="#777" stroke-width="0.55" transform="rotate(0 222.2 93.7)"/>
<ellipse cx="222.2" cy="93.7" rx="3.8" ry="10.0" fill="none" stroke="#777" stroke-width="0.55" transform="rotate(0 222.2 93.7)"/>
<ellipse cx="222.2" cy="93.7" rx="3.1" ry="8.0" fill="none" stroke="#777" stroke-width="0.55" transform="rotate(0 222.2 93.7)"/>
<ellipse cx="222.2" cy="93.7" rx="2.5" ry="6.4" fill="none" stroke="#777" stroke-width="0.55" transform="rotate(0 222.2 93.7)"/>
<ellipse cx="222.2" cy="93.7" rx="2.0" ry="5.1" fill="none" stroke="#777" stroke-width="0.55" transform="rotate(0 222.2 93.7)"/>
<ellipse cx="222.2" cy="93.7" rx="1.6" ry="4.1" fill="none" stroke="#777" stroke-width="0.55" transform="rotate(0 222.2 93.7)"/>
<ellipse cx="260.3" cy="92.0" rx="8.5" ry="17.5" fill="none" stroke="#808080" stroke-width="0.55"/>
<ellipse cx="260.3" cy="92.7" rx="7.3" ry="15.0" fill="none" stroke="#808080" stroke-width="0.55"/>
<ellipse cx="260.3" cy="93.4" rx="6.1" ry="12.6" fill="none" stroke="#808080" stroke-width="0.55"/>
<ellipse cx="260.3" cy="94.0" rx="5.1" ry="10.5" fill="none" stroke="#808080" stroke-width="0.55"/>
<ellipse cx="260.3" cy="94.6" rx="4.1" ry="8.4" fill="none" stroke="#808080" stroke-width="0.55"/>
<ellipse cx="260.3" cy="95.2" rx="3.1" ry="6.5" fill="none" stroke="#808080" stroke-width="0.55"/>
<ellipse cx="260.3" cy="95.7" rx="2.3" ry="4.7" fill="none" stroke="#808080" stroke-width="0.55"/>
<rect x="211.4" y="27.2" width="20.4" height="33.5" fill="none" stroke="#333" stroke-width="0.9"/>
<rect x="248.4" y="59.5" width="23.3" height="53.7" fill="none" stroke="#333" stroke-width="0.9"/>
<text x="244.5" y="55.6" font-size="13">52.5%</text>
<text x="203.9" y="76.4" font-size="13">39.7%</text>
<text x="238.9" y="14.5" font-size="13.2" text-anchor="middle" font-weight="bold" fill="#000">9 wk</text>
<text x="189.3" y="143.9" font-size="13.2">(Gated on CD3<tspan font-size="7.5" dy="-4.1">+</tspan><tspan dy="4.1" font-size="13.2"> T cells)</tspan></text>
<text x="41.1" y="114.0" font-size="12.9" transform="rotate(-90 41.1 114.0)">CD8-BV786</text>
<path d="M36.8 128V153.9H66" stroke="#000" stroke-width="1" fill="none" />
<path d="M36.8 120.5L33.2 128.5H40.4Z" fill="#000"/>
<path d="M70 153.9L62 150.3V157.5Z" fill="#000"/>
<text x="74.6" y="158.6" font-size="12.9">CD4-BV510</text>
<line x1="428.4" y1="20.3" x2="428.4" y2="125.7" stroke="#555" stroke-width="0.9" />
<line x1="428.4" y1="20.3" x2="431.4" y2="20.3" stroke="#777" stroke-width="0.9" />
<line x1="428.4" y1="125.7" x2="432.9" y2="125.7" stroke="#777" stroke-width="0.9" />
<line x1="425.4" y1="29.3" x2="428.4" y2="29.3" stroke="#333" stroke-width="0.9" />
<line x1="425.4" y1="54.6" x2="428.4" y2="54.6" stroke="#333" stroke-width="0.9" />
<line x1="425.4" y1="83.6" x2="428.4" y2="83.6" stroke="#333" stroke-width="0.9" />
<line x1="425.4" y1="97.5" x2="428.4" y2="97.5" stroke="#333" stroke-width="0.9" />
<line x1="425.4" y1="119.1" x2="428.4" y2="119.1" stroke="#333" stroke-width="0.9" />
<line x1="426.8" y1="47.0" x2="428.4" y2="47.0" stroke="#444" stroke-width="0.6" />
<line x1="426.8" y1="42.5" x2="428.4" y2="42.5" stroke="#444" stroke-width="0.6" />
<line x1="426.8" y1="39.4" x2="428.4" y2="39.4" stroke="#444" stroke-width="0.6" />
<line x1="426.8" y1="36.9" x2="428.4" y2="36.9" stroke="#444" stroke-width="0.6" />
<line x1="426.8" y1="34.9" x2="428.4" y2="34.9" stroke="#444" stroke-width="0.6" />
<line x1="426.8" y1="33.2" x2="428.4" y2="33.2" stroke="#444" stroke-width="0.6" />
<line x1="426.8" y1="31.8" x2="428.4" y2="31.8" stroke="#444" stroke-width="0.6" />
<line x1="426.8" y1="30.5" x2="428.4" y2="30.5" stroke="#444" stroke-width="0.6" />
<line x1="426.8" y1="74.9" x2="428.4" y2="74.9" stroke="#444" stroke-width="0.6" />
<line x1="426.8" y1="69.8" x2="428.4" y2="69.8" stroke="#444" stroke-width="0.6" />
<line x1="426.8" y1="66.1" x2="428.4" y2="66.1" stroke="#444" stroke-width="0.6" />
<line x1="426.8" y1="63.3" x2="428.4" y2="63.3" stroke="#444" stroke-width="0.6" />
<line x1="426.8" y1="61.0" x2="428.4" y2="61.0" stroke="#444" stroke-width="0.6" />
<line x1="426.8" y1="59.1" x2="428.4" y2="59.1" stroke="#444" stroke-width="0.6" />
<line x1="426.8" y1="57.4" x2="428.4" y2="57.4" stroke="#444" stroke-width="0.6" />
<line x1="426.8" y1="55.9" x2="428.4" y2="55.9" stroke="#444" stroke-width="0.6" />
<line x1="427.2" y1="86.5" x2="428.4" y2="86.5" stroke="#444" stroke-width="0.6" />
<line x1="427.2" y1="89.5" x2="428.4" y2="89.5" stroke="#444" stroke-width="0.6" />
<line x1="427.2" y1="92.5" x2="428.4" y2="92.5" stroke="#444" stroke-width="0.6" />
<line x1="427.2" y1="95.0" x2="428.4" y2="95.0" stroke="#444" stroke-width="0.6" />
<line x1="427.2" y1="100.0" x2="428.4" y2="100.0" stroke="#444" stroke-width="0.6" />
<line x1="427.2" y1="103.0" x2="428.4" y2="103.0" stroke="#444" stroke-width="0.6" />
<line x1="427.2" y1="106.0" x2="428.4" y2="106.0" stroke="#444" stroke-width="0.6" />
<line x1="427.2" y1="109.0" x2="428.4" y2="109.0" stroke="#444" stroke-width="0.6" />
<line x1="427.2" y1="112.0" x2="428.4" y2="112.0" stroke="#444" stroke-width="0.6" />
<line x1="427.2" y1="115.0" x2="428.4" y2="115.0" stroke="#444" stroke-width="0.6" />
<line x1="427.2" y1="122.0" x2="428.4" y2="122.0" stroke="#444" stroke-width="0.6" />
<line x1="427.2" y1="124.0" x2="428.4" y2="124.0" stroke="#444" stroke-width="0.6" />
<rect x="426.09999999999997" y="96.3" width="2" height="2.8" fill="#111"/>
<text x="422.3" y="32.7" font-size="10.2" text-anchor="end">10<tspan font-size="7.1" dy="-3.7">5</tspan></text>
<text x="422.3" y="58.0" font-size="10.2" text-anchor="end">10<tspan font-size="7.1" dy="-3.7">4</tspan></text>
<text x="422.3" y="87.0" font-size="10.2" text-anchor="end">10<tspan font-size="7.1" dy="-3.7">3</tspan></text>
<text x="422.3" y="100.9" font-size="10.2" text-anchor="end">0</text>
<text x="422.3" y="122.5" font-size="10.2" text-anchor="end">−10<tspan font-size="7.1" dy="-3.7">3</tspan></text>
<text x="434.4" y="154.3" font-size="10.2" text-anchor="middle">−10<tspan font-size="7.1" dy="-3.7">3</tspan></text>
<text x="455.5" y="154.3" font-size="10.2" text-anchor="middle">0</text>
<text x="469.5" y="154.3" font-size="10.2" text-anchor="middle">10<tspan font-size="7.1" dy="-3.7">3</tspan></text>
<text x="498.0" y="154.3" font-size="10.2" text-anchor="middle">10<tspan font-size="7.1" dy="-3.7">4</tspan></text>
<text x="523.5" y="154.3" font-size="10.2" text-anchor="middle">10<tspan font-size="7.1" dy="-3.7">5</tspan></text>
<line x1="543.8" y1="20.3" x2="543.8" y2="125.7" stroke="#555" stroke-width="0.9" />
<line x1="543.8" y1="20.3" x2="546.8" y2="20.3" stroke="#777" stroke-width="0.9" />
<line x1="543.8" y1="125.7" x2="548.3" y2="125.7" stroke="#777" stroke-width="0.9" />
<line x1="540.8" y1="29.3" x2="543.8" y2="29.3" stroke="#333" stroke-width="0.9" />
<line x1="540.8" y1="54.6" x2="543.8" y2="54.6" stroke="#333" stroke-width="0.9" />
<line x1="540.8" y1="83.6" x2="543.8" y2="83.6" stroke="#333" stroke-width="0.9" />
<line x1="540.8" y1="97.5" x2="543.8" y2="97.5" stroke="#333" stroke-width="0.9" />
<line x1="540.8" y1="119.1" x2="543.8" y2="119.1" stroke="#333" stroke-width="0.9" />
<line x1="542.2" y1="47.0" x2="543.8" y2="47.0" stroke="#444" stroke-width="0.6" />
<line x1="542.2" y1="42.5" x2="543.8" y2="42.5" stroke="#444" stroke-width="0.6" />
<line x1="542.2" y1="39.4" x2="543.8" y2="39.4" stroke="#444" stroke-width="0.6" />
<line x1="542.2" y1="36.9" x2="543.8" y2="36.9" stroke="#444" stroke-width="0.6" />
<line x1="542.2" y1="34.9" x2="543.8" y2="34.9" stroke="#444" stroke-width="0.6" />
<line x1="542.2" y1="33.2" x2="543.8" y2="33.2" stroke="#444" stroke-width="0.6" />
<line x1="542.2" y1="31.8" x2="543.8" y2="31.8" stroke="#444" stroke-width="0.6" />
<line x1="542.2" y1="30.5" x2="543.8" y2="30.5" stroke="#444" stroke-width="0.6" />
<line x1="542.2" y1="74.9" x2="543.8" y2="74.9" stroke="#444" stroke-width="0.6" />
<line x1="542.2" y1="69.8" x2="543.8" y2="69.8" stroke="#444" stroke-width="0.6" />
<line x1="542.2" y1="66.1" x2="543.8" y2="66.1" stroke="#444" stroke-width="0.6" />
<line x1="542.2" y1="63.3" x2="543.8" y2="63.3" stroke="#444" stroke-width="0.6" />
<line x1="542.2" y1="61.0" x2="543.8" y2="61.0" stroke="#444" stroke-width="0.6" />
<line x1="542.2" y1="59.1" x2="543.8" y2="59.1" stroke="#444" stroke-width="0.6" />
<line x1="542.2" y1="57.4" x2="543.8" y2="57.4" stroke="#444" stroke-width="0.6" />
<line x1="542.2" y1="55.9" x2="543.8" y2="55.9" stroke="#444" stroke-width="0.6" />
<line x1="542.6" y1="86.5" x2="543.8" y2="86.5" stroke="#444" stroke-width="0.6" />
<line x1="542.6" y1="89.5" x2="543.8" y2="89.5" stroke="#444" stroke-width="0.6" />
<line x1="542.6" y1="92.5" x2="543.8" y2="92.5" stroke="#444" stroke-width="0.6" />
<line x1="542.6" y1="95.0" x2="543.8" y2="95.0" stroke="#444" stroke-width="0.6" />
<line x1="542.6" y1="100.0" x2="543.8" y2="100.0" stroke="#444" stroke-width="0.6" />
<line x1="542.6" y1="103.0" x2="543.8" y2="103.0" stroke="#444" stroke-width="0.6" />
<line x1="542.6" y1="106.0" x2="543.8" y2="106.0" stroke="#444" stroke-width="0.6" />
<line x1="542.6" y1="109.0" x2="543.8" y2="109.0" stroke="#444" stroke-width="0.6" />
<line x1="542.6" y1="112.0" x2="543.8" y2="112.0" stroke="#444" stroke-width="0.6" />
<line x1="542.6" y1="115.0" x2="543.8" y2="115.0" stroke="#444" stroke-width="0.6" />
<line x1="542.6" y1="122.0" x2="543.8" y2="122.0" stroke="#444" stroke-width="0.6" />
<line x1="542.6" y1="124.0" x2="543.8" y2="124.0" stroke="#444" stroke-width="0.6" />
<rect x="541.5" y="96.3" width="2" height="2.8" fill="#111"/>
<path d="M529.5 20.3H533.9V125.7H530.4" stroke="#777" stroke-width="0.9" fill="none" />
<line x1="643.6" y1="20.3" x2="648.9" y2="20.3" stroke="#999" stroke-width="0.9" />
<line x1="645.4" y1="125.7" x2="648.9" y2="125.7" stroke="#999" stroke-width="0.9" />
<path d="M453.4 80.3h0M448.7 73.5h0M445.8 57.0h0M442.2 83.1h0M443.3 75.5h0M446.5 52.3h0M448.4 69.7h0M450.8 90.8h0M450.1 78.3h0M447.2 76.0h0M449.5 59.5h0M448.7 65.1h0M449.6 71.6h0M447.5 55.6h0M451.2 42.2h0M447.1 87.7h0M440.9 56.3h0M451.1 42.9h0M456.8 29.8h0M453.3 87.8h0M451.7 62.9h0M450.1 53.4h0M451.4 50.3h0M448.2 79.9h0M445.7 60.9h0M449.5 47.2h0M452.5 70.8h0M444.5 65.3h0M446.7 56.8h0M449.2 56.1h0M451.9 56.1h0M451.9 65.4h0M451.6 58.4h0M447.5 49.9h0M450.7 79.1h0M455.4 84.1h0M449.7 63.0h0M450.2 65.6h0M453.4 79.2h0M446.5 56.4h0M453.1 70.3h0M448.3 82.6h0M447.8 62.1h0M447.6 38.5h0M451.6 49.1h0M447.3 55.6h0M451.2 65.0h0M449.0 42.5h0M448.7 45.3h0M449.9 71.1h0M448.9 94.6h0M450.6 74.3h0M449.4 63.3h0M451.9 81.4h0M445.1 80.8h0M450.5 79.4h0M450.4 48.6h0M445.5 91.5h0M449.8 46.2h0M450.0 60.9h0M443.5 33.9h0M444.2 69.8h0M448.9 62.5h0M449.9 74.4h0M442.7 61.8h0M446.5 48.7h0M447.4 64.3h0M448.2 45.6h0M447.6 94.2h0M445.8 42.4h0M449.8 74.4h0M450.4 50.3h0M452.0 55.0h0M445.6 57.5h0M448.7 76.0h0M450.9 65.7h0M451.8 67.1h0M451.7 46.3h0M444.3 76.9h0M444.8 61.8h0M448.7 59.2h0M447.6 85.5h0M441.4 78.4h0M455.9 66.3h0M448.9 76.2h0M454.5 49.4h0M449.3 63.4h0M450.7 68.2h0M451.0 60.1h0M449.1 56.6h0M447.0 64.0h0M448.6 49.6h0M453.7 64.1h0M444.8 81.4h0M446.8 73.1h0M448.9 69.5h0M449.5 57.9h0M449.1 94.5h0M442.3 66.9h0M450.3 51.3h0M444.9 96.2h0M447.9 95.1h0M450.6 67.1h0M450.4 74.9h0M452.5 72.1h0M449.4 68.5h0M453.1 77.4h0M446.0 57.1h0M450.0 57.3h0M447.9 52.6h0M448.2 71.9h0M452.0 66.1h0M455.2 64.9h0M458.6 80.0h0M450.5 59.0h0M440.5 63.8h0M449.5 92.9h0M444.9 92.7h0M448.2 76.1h0M441.4 67.9h0" stroke="#888" stroke-width="0.80" stroke-linecap="round" opacity="0.6"/>
<path d="M464.6 91.6h0M468.9 66.0h0M477.5 91.7h0M474.0 96.1h0M479.0 81.7h0M454.4 62.6h0M481.5 91.9h0M469.0 75.9h0M468.3 82.3h0M464.6 72.2h0M489.6 85.2h0M461.9 63.8h0M460.7 92.1h0M475.6 78.9h0M468.5 77.7h0M456.9 100.2h0M460.4 80.1h0M476.8 78.6h0M454.1 68.7h0M469.0 86.8h0M467.1 96.0h0M477.9 86.5h0M468.3 78.5h0M473.5 94.9h0M468.6 88.3h0M464.8 62.2h0M458.0 92.7h0M472.5 104.3h0M468.6 94.1h0M481.2 95.9h0M461.9 79.4h0M469.3 68.2h0M472.7 96.3h0M465.1 79.2h0M465.6 72.1h0M472.2 82.3h0M484.6 90.5h0M473.4 78.9h0M453.9 80.7h0M459.5 95.3h0M467.7 105.3h0M475.4 93.7h0M470.3 84.9h0M474.5 94.9h0M460.9 88.9h0M494.2 80.7h0M465.4 72.3h0M453.5 98.6h0M468.6 86.2h0M459.1 96.8h0M474.2 87.6h0M472.8 81.7h0M483.9 90.6h0M471.5 99.5h0M477.0 88.5h0M471.3 106.6h0M473.1 80.8h0M459.5 77.2h0M457.5 83.5h0M470.6 53.3h0M468.2 91.1h0M469.7 68.7h0M480.7 72.3h0M455.7 66.9h0M467.9 95.8h0M479.7 85.0h0M456.1 72.8h0M459.0 79.5h0M450.3 83.6h0M474.5 79.9h0M472.6 68.9h0M453.5 73.1h0M479.6 96.4h0M463.4 98.9h0M464.8 103.2h0M472.8 75.7h0M476.0 71.2h0M458.6 61.7h0M470.6 81.3h0M467.2 76.3h0M482.4 76.1h0M460.8 99.4h0M482.2 86.7h0M450.6 73.6h0M474.1 82.2h0M483.5 62.9h0M474.8 73.2h0M481.2 80.9h0M478.3 72.9h0M453.9 66.5h0M461.9 67.7h0M480.0 100.7h0M470.7 67.5h0M466.8 72.4h0M482.5 86.4h0M472.9 76.4h0M447.9 71.2h0M456.8 87.2h0M469.0 70.8h0M464.1 103.9h0M458.4 69.1h0M465.7 72.2h0M463.7 89.4h0M485.3 57.1h0M467.8 82.6h0M467.2 79.4h0M464.6 96.1h0M463.5 99.2h0M470.0 100.6h0M467.6 106.0h0M469.9 101.0h0M469.3 94.0h0M458.4 93.7h0M472.7 95.7h0M455.1 101.4h0M477.4 89.4h0M493.7 100.2h0M468.5 106.4h0M471.0 96.4h0M500.7 93.6h0M468.6 105.1h0M455.0 99.4h0M457.5 99.7h0M479.2 100.5h0M453.2 102.4h0M471.5 102.7h0M485.8 106.1h0M475.7 101.9h0M454.6 99.2h0M473.1 97.6h0M471.4 95.0h0M464.5 102.4h0M476.1 100.5h0M466.9 100.8h0M456.0 104.1h0M460.0 103.2h0M471.8 106.6h0M469.8 106.1h0M457.1 103.7h0M466.9 101.2h0M471.0 105.6h0M441.7 101.9h0M449.1 107.2h0M442.4 94.0h0M452.0 100.7h0M462.5 89.2h0M465.3 104.0h0M467.4 105.6h0M464.9 100.0h0M464.6 102.1h0M496.6 102.2h0M472.7 96.3h0M454.4 94.5h0M468.6 97.4h0M497.4 85.8h0M475.1 104.3h0M454.3 96.1h0M457.1 90.5h0M465.3 86.7h0M490.3 98.8h0M485.7 99.7h0M464.7 97.3h0M440.1 94.4h0M494.9 97.8h0M451.0 100.0h0M468.5 99.4h0M463.3 98.1h0M463.6 102.0h0M458.6 98.3h0M475.2 99.3h0M477.5 102.4h0M485.2 103.0h0M469.4 97.5h0M482.4 103.1h0M468.7 91.1h0M444.3 102.1h0M480.8 104.8h0M452.0 106.2h0M462.5 102.3h0M475.8 95.2h0M461.7 87.6h0M457.2 89.2h0M476.1 100.4h0M482.8 102.1h0M461.1 102.1h0M464.5 103.7h0M474.4 94.1h0M470.0 100.3h0M465.7 105.4h0M494.0 97.8h0M465.1 86.5h0M468.2 97.4h0M439.7 101.7h0M478.3 95.6h0M464.8 94.2h0M480.7 90.9h0M470.7 102.8h0M467.9 93.0h0M469.5 102.4h0M455.7 102.0h0M487.4 106.4h0M447.8 94.1h0M447.4 106.4h0M478.5 104.2h0M457.7 93.0h0M471.1 100.6h0M458.0 100.9h0M479.0 101.4h0M455.4 87.3h0M466.4 101.0h0M466.4 97.4h0M460.3 104.3h0M469.3 100.7h0M456.4 96.3h0M472.3 94.0h0M452.4 98.0h0M486.8 101.1h0M490.4 99.2h0M465.7 91.6h0M474.6 104.4h0M479.9 99.9h0M467.1 100.7h0M479.4 102.7h0M476.9 100.9h0M459.2 98.4h0M456.8 106.0h0M440.6 98.7h0M454.1 99.9h0M488.1 99.0h0M478.6 100.6h0M471.0 96.8h0M463.1 102.3h0M475.7 104.6h0M472.0 91.4h0M477.4 98.1h0M466.0 91.1h0M462.0 95.6h0M469.5 91.3h0M470.7 100.7h0M454.3 96.3h0M458.0 105.4h0M446.8 97.4h0M481.9 96.2h0M471.9 94.9h0M497.2 105.5h0M485.8 92.0h0M454.6 106.5h0M467.3 98.5h0M474.7 92.5h0M480.8 100.1h0M476.7 96.0h0M477.2 95.8h0M458.7 105.8h0M458.4 102.1h0M456.4 82.8h0M457.8 97.4h0M452.7 97.3h0M442.3 95.8h0M447.6 93.6h0M462.2 93.7h0M466.5 99.3h0M445.8 104.9h0M463.9 90.4h0M462.9 97.3h0M462.4 96.7h0M441.0 102.0h0M464.1 103.2h0M450.3 95.9h0M449.9 94.0h0M450.1 83.7h0M453.3 98.8h0M470.0 103.6h0M448.6 102.4h0M443.4 95.4h0M456.2 91.9h0M451.6 104.7h0M455.5 101.3h0M446.0 95.2h0M452.7 104.5h0M446.2 92.3h0M460.0 93.4h0M459.5 100.5h0M456.8 103.7h0M445.6 94.8h0M454.2 100.2h0M459.0 99.1h0M451.6 92.7h0M458.9 92.6h0M455.6 90.5h0M459.7 92.8h0M457.9 89.5h0M448.9 106.1h0M446.4 99.4h0M448.7 85.1h0M454.2 101.6h0M444.2 102.4h0M446.4 93.0h0M452.0 94.9h0M468.0 89.7h0M457.2 104.9h0M438.1 88.6h0M455.9 96.1h0M454.7 105.8h0M449.4 92.6h0M445.5 100.9h0M453.6 90.7h0M464.1 105.5h0M457.9 91.9h0M449.1 95.7h0M449.1 92.3h0M455.0 100.4h0M454.6 96.0h0M461.0 100.1h0M451.6 104.8h0M489.6 90.0h0M486.7 97.3h0M488.4 87.2h0M486.1 96.5h0M487.7 78.6h0M497.0 86.4h0M494.9 95.0h0M501.6 100.4h0M487.4 90.7h0M481.7 105.4h0M495.5 103.2h0M489.4 75.6h0M493.1 92.4h0M497.2 96.3h0M479.3 100.7h0M487.8 88.3h0M489.3 77.1h0M493.3 96.3h0M491.4 82.0h0M485.7 82.0h0M493.7 98.6h0M500.2 86.1h0M493.9 96.4h0M487.9 90.8h0M499.1 88.5h0M492.3 78.3h0M491.8 101.5h0M497.5 92.4h0M487.2 90.7h0M496.9 85.7h0M499.5 84.1h0M477.8 83.9h0M478.7 81.0h0M501.1 90.4h0M493.7 101.3h0M502.1 88.0h0M502.6 95.1h0M492.0 95.5h0M480.6 85.7h0M491.1 96.9h0M489.0 91.0h0M499.8 103.3h0M498.1 102.1h0M488.8 89.5h0M494.5 89.6h0M487.9 105.2h0" stroke="#e0676b" stroke-width="0.80" stroke-linecap="round" opacity="0.75"/>
<path d="M445.5 92C444.5 70 444.5 50 447 45C449 42 452 43 453 47C453.5 60 452.5 75 452 90" stroke="#d98f92" stroke-width="0.6" fill="none" />
<path d="M444.2 93C443.3 72 443.6 52 445.8 44C448 41 452 41.5 454.3 45C455 58 454.3 76 453.6 90" stroke="#9a9a9a" stroke-width="0.55" fill="none" />
<path d="M447.6 91C447.3 76 447.5 62 448.6 56C449.4 53.5 450.6 54.5 450.8 57C451 68 450.6 80 450.2 91" stroke="#d0676b" stroke-width="0.55" fill="none" />
<path d="M457.2 53.5h0M443.3 72.1h0M443.6 60.6h0M443.5 80.4h0M454.8 79.8h0M456.6 71.4h0M442.9 83.3h0M451.0 41.3h0M443.5 69.5h0M453.4 65.7h0M455.9 45.0h0M455.7 84.7h0M456.2 61.0h0M443.8 82.2h0M443.4 50.8h0M455.7 43.7h0M453.1 82.9h0M442.6 49.9h0M442.2 72.1h0M444.2 62.5h0M443.6 63.4h0M443.1 76.3h0M443.0 55.1h0M442.5 67.1h0M451.6 40.6h0M453.7 82.5h0M454.1 88.3h0M445.2 74.2h0M455.4 43.9h0M456.2 56.1h0M445.3 76.6h0M452.3 42.5h0M442.7 70.3h0M445.0 51.5h0M442.1 56.9h0M454.0 69.3h0M444.0 66.1h0M452.5 41.3h0M454.5 44.8h0M442.8 58.7h0M455.3 85.0h0M441.0 55.9h0M441.3 57.4h0M455.5 57.9h0M447.5 40.3h0M454.1 62.1h0M441.8 74.7h0M443.0 75.7h0M455.9 63.8h0M443.0 49.9h0M454.9 77.1h0M440.9 67.3h0M441.8 64.9h0M454.9 76.5h0M443.3 53.8h0M441.1 80.7h0M445.0 69.3h0M456.9 66.6h0M441.2 62.2h0M454.9 44.1h0M454.2 73.4h0M455.9 46.9h0M455.1 66.3h0M457.6 89.3h0M444.5 59.1h0M453.9 76.0h0M454.9 42.3h0M445.5 70.9h0M443.6 76.4h0M444.2 56.1h0M443.2 75.3h0M456.4 67.7h0M453.6 43.3h0M444.5 89.0h0M454.9 80.4h0M455.3 46.5h0M443.6 41.2h0M442.5 78.3h0M446.0 40.8h0M454.9 80.8h0M455.3 46.4h0M445.5 41.4h0M456.5 50.4h0M453.4 43.4h0M454.0 48.1h0M443.7 70.9h0M443.5 75.8h0M444.0 92.4h0M456.8 73.2h0M442.7 93.9h0M443.4 65.2h0M455.8 48.4h0M449.0 41.0h0M452.7 80.5h0M442.2 69.2h0M443.8 79.5h0M445.0 74.0h0M448.2 40.8h0M441.3 61.1h0M445.3 42.3h0M457.7 57.4h0M442.9 56.2h0M453.9 54.2h0M443.9 90.3h0M454.3 39.7h0M453.4 79.9h0M455.9 84.2h0M454.7 43.4h0M456.4 89.7h0M443.1 64.6h0M443.8 60.2h0M444.9 44.7h0M449.7 40.5h0M455.9 72.5h0M444.0 43.5h0M443.5 88.4h0M456.7 58.7h0M444.9 66.6h0M454.5 80.8h0M442.5 67.7h0M444.0 60.6h0M442.1 78.5h0M441.5 57.9h0M455.4 47.2h0M441.5 62.8h0M443.0 87.6h0M455.5 46.8h0M455.1 61.2h0M442.1 80.6h0M444.9 46.7h0M443.2 86.4h0M443.1 92.1h0M442.3 52.1h0M443.3 60.8h0M455.1 77.1h0M444.3 92.6h0M460.0 53.5h0M455.7 61.4h0M444.0 44.8h0M448.1 40.8h0M441.5 67.1h0M443.9 64.3h0M443.4 85.7h0M453.2 82.1h0M444.9 90.1h0M443.6 77.1h0M456.1 59.9h0M444.8 44.0h0M451.6 40.3h0M442.2 61.6h0M445.1 73.5h0M454.8 70.0h0M444.7 78.3h0M443.2 59.7h0M458.0 64.9h0M442.4 59.4h0M455.7 87.4h0M442.0 73.7h0M450.5 40.4h0M451.6 40.1h0M448.2 39.4h0M455.9 67.8h0M443.8 86.6h0M454.4 40.1h0M453.2 69.5h0M444.7 88.3h0M453.3 40.9h0M443.5 44.7h0M441.9 47.2h0M451.5 40.3h0M456.5 50.8h0M454.5 58.0h0M454.1 81.4h0M454.4 53.7h0M453.7 90.5h0M456.1 55.8h0M441.5 62.2h0M444.1 76.2h0M443.3 85.6h0M442.9 64.3h0M444.3 79.1h0M455.6 56.8h0M454.3 56.5h0M456.6 47.2h0M443.8 50.6h0M445.0 42.5h0M443.2 65.4h0M454.2 82.8h0M444.1 93.2h0M443.6 56.3h0M455.0 43.9h0M443.2 73.1h0M457.3 74.0h0M448.0 41.7h0M441.9 51.5h0M443.4 86.0h0M443.7 60.1h0M457.0 46.0h0M444.2 62.1h0M445.4 88.5h0M456.7 45.4h0M441.7 59.8h0M455.7 77.2h0M453.6 57.6h0M456.8 59.8h0M454.5 82.1h0M456.7 70.1h0M444.1 57.6h0M455.9 44.7h0M443.0 63.2h0M442.5 71.3h0M443.2 72.0h0M443.2 78.1h0M442.5 66.7h0M443.3 68.0h0M454.8 57.3h0M442.1 65.7h0M443.8 86.5h0M444.6 43.5h0M442.2 71.1h0M455.4 58.3h0M442.8 67.8h0M456.5 43.0h0M443.0 72.3h0M446.3 41.9h0M455.5 77.4h0M441.9 59.9h0M450.1 40.8h0M443.7 43.5h0M444.0 84.5h0M443.5 92.6h0M455.8 75.9h0M442.7 56.1h0M456.6 58.5h0M445.3 46.8h0M455.3 74.1h0M439.4 69.8h0M447.3 41.8h0M453.1 43.7h0M456.7 68.7h0M445.7 91.6h0M443.2 51.6h0M447.9 41.3h0M455.2 46.5h0M442.8 78.4h0M454.2 43.3h0M456.4 57.2h0M455.5 63.4h0M442.5 71.1h0M443.8 43.6h0M443.8 60.6h0M442.7 49.6h0M443.2 53.5h0M455.3 85.7h0M444.8 92.4h0M455.4 83.1h0M443.3 88.5h0M443.6 84.5h0M444.0 70.7h0M442.5 61.1h0M456.8 75.7h0M455.3 76.1h0M454.9 82.7h0M443.2 49.2h0M444.2 92.3h0M456.2 50.2h0M455.7 81.4h0M443.7 81.4h0M455.4 72.6h0M444.0 92.8h0M454.7 61.0h0M449.6 40.5h0M454.7 81.8h0M454.9 78.3h0M444.2 87.0h0M449.7 39.9h0M444.0 64.0h0M442.9 45.4h0M443.8 84.9h0M443.1 51.8h0M442.9 45.2h0M444.0 91.9h0M446.9 42.4h0M453.9 82.1h0M443.4 84.1h0M452.0 87.6h0M447.7 40.3h0M442.2 68.4h0M456.6 88.6h0M448.1 41.3h0M441.4 45.5h0M442.4 50.8h0M456.5 78.7h0M444.7 78.5h0M442.2 70.1h0M442.0 62.8h0M445.0 86.1h0M455.7 75.4h0M447.5 41.9h0M455.4 48.4h0M453.8 79.5h0M448.8 39.9h0M442.3 61.7h0M453.1 40.6h0M449.4 42.1h0M443.0 58.1h0M443.1 68.3h0M442.4 54.3h0M456.3 63.1h0M443.0 74.1h0M455.6 91.7h0M443.5 67.3h0M442.4 62.7h0M443.9 77.6h0M442.0 48.5h0M442.5 51.3h0M455.5 55.8h0M455.5 80.9h0M441.1 65.4h0M454.0 72.8h0M442.2 58.3h0M442.9 47.5h0M443.4 80.4h0M455.0 81.1h0M443.9 50.4h0M457.6 59.6h0M445.3 89.2h0M456.7 58.9h0M442.4 70.2h0M445.1 42.9h0M456.0 56.8h0M444.4 74.6h0M453.2 42.8h0M453.8 73.4h0M442.3 74.9h0M447.1 42.5h0M442.1 72.2h0M444.5 76.5h0M447.8 41.2h0M442.9 43.4h0M456.1 53.1h0M453.9 75.6h0M455.2 59.8h0M442.8 55.7h0M449.4 42.5h0M455.0 55.2h0M456.9 73.9h0M457.2 58.5h0M448.7 40.3h0M443.5 77.3h0M453.9 77.1h0M443.6 61.2h0M442.6 47.4h0M453.4 80.9h0M440.6 69.3h0M455.3 81.1h0M443.6 68.8h0M442.9 83.5h0M449.3 41.4h0M455.4 69.6h0M444.2 48.7h0M456.5 75.3h0M441.5 49.2h0M455.7 70.1h0M445.0 80.6h0M443.1 60.5h0M443.6 79.7h0M455.3 63.3h0M443.6 43.2h0M454.6 51.5h0M441.9 65.6h0M456.3 61.7h0M456.1 90.2h0M446.2 84.8h0M444.7 56.5h0M455.6 76.6h0M455.6 76.4h0M453.2 76.7h0M441.7 66.2h0M454.0 42.8h0M442.3 83.5h0M444.2 43.8h0M455.0 45.0h0M442.6 63.5h0M444.1 47.0h0M443.4 52.0h0M445.9 85.4h0M443.5 85.3h0M456.6 67.0h0M444.9 92.7h0M454.9 90.3h0M453.1 80.2h0M453.6 93.0h0M456.9 69.6h0M444.8 93.8h0M444.9 81.2h0M443.6 56.6h0M443.6 72.3h0M442.8 85.1h0M455.1 84.0h0M453.2 84.0h0M457.0 65.8h0M442.3 64.8h0M456.0 75.3h0M454.0 72.4h0M440.5 57.1h0M444.7 79.1h0M444.2 78.4h0M443.6 47.6h0M454.2 73.2h0M443.8 85.8h0M445.3 45.7h0M441.9 52.8h0M454.6 81.6h0M443.7 75.9h0M454.9 54.7h0M442.9 57.0h0M455.8 54.6h0M455.0 74.2h0M456.4 72.7h0M455.9 74.8h0M441.7 60.2h0M441.8 62.8h0M443.5 80.0h0M443.7 61.3h0M443.8 77.8h0M455.5 67.2h0M444.2 89.2h0M441.3 71.9h0M455.2 66.8h0M456.1 66.4h0M454.7 88.4h0M446.1 49.9h0M442.2 87.0h0M454.8 70.4h0M442.6 60.0h0M456.0 66.4h0M442.9 90.0h0M443.8 90.0h0M456.1 47.1h0M455.8 57.2h0M456.8 43.1h0M452.9 42.1h0M454.6 47.5h0M443.6 77.9h0M444.6 87.0h0M443.9 53.9h0M453.9 44.9h0M441.7 65.5h0M444.1 73.2h0M445.0 43.8h0M443.6 48.7h0M442.5 63.3h0M454.5 83.6h0M454.5 84.6h0M444.9 89.6h0M448.7 42.6h0M441.9 68.1h0M441.9 55.5h0M446.2 88.7h0M444.7 84.4h0M444.1 88.4h0M443.9 78.5h0M456.8 54.4h0M442.4 83.8h0M454.5 78.2h0M454.1 70.3h0M442.5 61.3h0M455.2 58.4h0M453.4 85.8h0M445.2 81.5h0M452.8 42.1h0M445.8 40.6h0M442.4 58.0h0M443.2 58.3h0M441.4 82.1h0M456.8 52.7h0M441.3 71.5h0M444.0 45.8h0M454.2 84.6h0M444.0 54.4h0M443.2 57.8h0M454.2 83.7h0M455.9 45.5h0M454.9 45.4h0M443.5 69.2h0M454.0 52.8h0M442.1 49.9h0M452.5 43.3h0M443.6 48.0h0M442.6 84.0h0M454.4 80.3h0M454.2 55.9h0M454.6 87.5h0M442.8 59.7h0M444.9 61.3h0M442.8 76.1h0M442.9 59.9h0M442.4 58.1h0M443.2 74.1h0M443.1 62.4h0M441.9 58.7h0M453.1 76.6h0M445.2 45.7h0M455.1 71.9h0M442.9 88.5h0M443.6 71.4h0M455.4 87.5h0M442.1 88.2h0M444.0 84.9h0M450.5 42.8h0M444.2 62.7h0M441.9 70.7h0M456.6 47.3h0M454.9 46.7h0M445.1 73.2h0M453.6 41.9h0M444.2 42.3h0M455.6 74.3h0M445.2 84.9h0" stroke="#1d1d1d" stroke-width="0.90" stroke-linecap="round" opacity="0.85"/>
<ellipse cx="452.3" cy="99.4" rx="8.8" ry="8" fill="#fbeaea" opacity="0.8"/>
<ellipse cx="452.3" cy="99.4" rx="8.6" ry="7.8" fill="none" stroke="#dd8a8d" stroke-width="0.65"/>
<ellipse cx="452.3" cy="99.4" rx="7.4" ry="6.7" fill="none" stroke="#d25a5f" stroke-width="0.65"/>
<ellipse cx="452.3" cy="99.4" rx="6.2" ry="5.6" fill="none" stroke="#e08a8d" stroke-width="0.65"/>
<ellipse cx="452.3" cy="99.4" rx="5" ry="4.6" fill="none" stroke="#cf5a5f" stroke-width="0.65"/>
<ellipse cx="452.3" cy="99.4" rx="3.8" ry="3.5" fill="none" stroke="#d88a8d" stroke-width="0.65"/>
<ellipse cx="452.3" cy="99.4" rx="2.6" ry="2.4" fill="none" stroke="#b66" stroke-width="0.65"/>
<circle cx="452.3" cy="99.5" r="1.5" fill="#fff" stroke="#999" stroke-width="0.5"/>
<path d="M456.9 106.5h0M458.7 104.8h0M450.6 107.2h0M456.8 106.2h0M457.7 105.5h0M451.3 91.3h0M448.9 106.7h0M443.9 96.1h0M448.8 106.6h0M461.1 98.6h0M444.9 95.0h0M458.2 105.8h0M453.8 91.4h0M450.0 107.4h0M443.9 101.6h0M450.1 107.9h0M442.9 100.0h0M449.3 106.7h0M448.4 106.8h0M457.2 106.2h0M461.4 97.3h0M454.7 107.2h0M450.5 107.1h0M444.8 103.7h0M458.7 104.7h0M453.4 107.3h0M444.9 103.8h0M444.7 95.4h0M443.5 97.5h0M446.4 105.2h0M448.3 92.1h0M452.0 90.8h0M451.4 107.5h0M452.9 107.9h0M445.6 93.3h0M444.9 103.6h0M456.5 92.5h0M461.5 99.9h0M443.8 97.3h0M447.1 106.0h0M454.5 107.7h0M458.3 93.5h0M454.1 107.3h0M454.4 91.6h0M457.9 92.8h0M461.0 97.8h0M459.3 105.1h0M457.5 106.5h0M459.8 103.4h0M448.4 106.9h0M460.0 94.7h0M446.6 92.9h0M457.3 106.1h0M460.0 104.8h0M452.3 91.1h0M446.0 93.8h0M461.5 99.5h0M444.0 94.8h0M455.7 107.1h0M450.0 106.9h0M459.2 104.0h0M461.4 99.0h0M443.8 101.5h0M445.5 93.8h0M454.9 107.3h0M446.1 105.1h0M446.7 92.7h0M452.1 90.9h0M460.0 94.8h0M452.4 107.6h0M452.9 107.3h0M445.2 103.9h0M449.1 107.0h0M456.1 92.0h0M446.3 105.1h0M446.1 105.1h0M443.7 99.3h0M444.0 96.2h0M446.9 105.9h0M461.2 99.8h0M451.4 90.7h0M459.6 105.2h0M457.8 92.9h0M452.5 107.3h0M452.0 107.4h0M443.6 97.6h0M459.9 94.9h0M445.9 104.8h0M443.7 100.4h0M444.6 103.5h0" stroke="#c55" stroke-width="0.84" stroke-linecap="round" opacity="0.6"/>
<ellipse cx="481" cy="99.5" rx="19" ry="6.5" fill="#f4c9ca" opacity="0.7"/>
<path d="M469.3 88.5h0M467.1 74.4h0M466.2 91.9h0M462.1 77.4h0M468.6 85.7h0M469.0 89.2h0M469.5 90.0h0M465.7 98.9h0M465.2 89.5h0M470.4 103.5h0M470.0 102.3h0M468.8 99.9h0M470.5 96.6h0M467.3 94.3h0M466.1 89.7h0M466.9 95.2h0M462.5 75.2h0M468.2 78.5h0M468.0 94.3h0M468.5 88.0h0M462.3 85.9h0M467.2 74.4h0M467.3 92.9h0M469.6 90.0h0M467.4 86.4h0M465.1 77.0h0M467.5 106.9h0M467.7 96.3h0M463.1 105.9h0M463.9 100.2h0M467.4 84.4h0M471.1 93.1h0M467.7 97.1h0M466.9 89.6h0M468.9 89.4h0M467.3 87.0h0M465.0 93.1h0M471.7 77.8h0M467.5 73.1h0M462.8 88.4h0M467.6 93.7h0M466.5 85.8h0M469.5 89.7h0M471.8 94.4h0M469.6 95.1h0M462.9 101.7h0M467.6 83.9h0M463.9 101.6h0M465.5 93.4h0M469.6 94.2h0M470.8 100.8h0M473.5 96.3h0M473.9 100.0h0M463.5 103.2h0M468.3 96.7h0M467.6 105.2h0M469.2 86.7h0M468.9 99.6h0M464.1 89.1h0M465.5 87.5h0M468.4 102.2h0M471.1 103.3h0M472.3 89.6h0M469.8 95.9h0M466.5 88.9h0M465.0 90.6h0M462.1 97.7h0M466.9 94.0h0M468.4 99.5h0M464.6 92.0h0M472.9 88.9h0M469.5 86.4h0M469.1 89.0h0M461.8 81.5h0M466.9 87.1h0M467.6 90.9h0M465.4 82.2h0M469.0 92.3h0M461.8 93.2h0M473.6 96.1h0M471.6 89.7h0M461.6 88.9h0M465.5 104.0h0M465.7 91.9h0M465.7 82.0h0M467.5 96.5h0M468.6 82.4h0M466.6 77.6h0M470.8 84.1h0M466.0 89.2h0M464.8 83.7h0M468.1 95.7h0M469.3 93.5h0M471.9 97.8h0M468.4 91.0h0M468.2 103.8h0M465.5 90.6h0M463.7 91.2h0M465.1 78.3h0M465.3 76.7h0M463.4 90.5h0M467.1 93.8h0M468.9 82.3h0M464.7 87.4h0M466.4 87.9h0M467.3 90.3h0M466.1 91.3h0M472.7 97.6h0M471.6 65.2h0M468.4 102.8h0M464.7 77.2h0M464.7 102.8h0M471.9 99.8h0M462.5 92.6h0M468.9 101.3h0M467.5 92.7h0M467.9 76.4h0M471.1 101.6h0M465.6 93.2h0M468.9 93.8h0M465.1 79.8h0M464.8 94.0h0M466.2 94.1h0M470.2 97.3h0M468.3 99.3h0" stroke="#222" stroke-width="0.84" stroke-linecap="round" opacity="0.85"/>
<path d="M479.1 99.0h0M481.6 96.3h0M488.7 97.0h0M485.0 99.1h0M487.4 99.1h0M468.9 100.8h0M479.1 99.3h0M478.2 100.7h0M484.8 99.4h0M463.5 98.4h0M478.4 102.0h0M480.9 98.9h0M488.2 98.9h0M477.2 99.3h0M464.0 100.6h0M481.3 98.6h0M467.2 99.4h0M490.1 98.1h0M467.9 99.8h0M463.1 95.5h0M473.5 98.0h0M475.0 98.2h0M480.5 98.7h0M472.1 98.4h0M483.2 100.6h0M485.7 100.2h0M447.8 97.5h0M474.7 99.4h0M463.0 101.4h0M480.3 98.1h0M479.0 98.5h0M470.7 99.9h0M473.5 96.8h0M471.8 98.9h0M467.8 101.1h0M467.7 101.9h0M485.6 97.6h0M478.7 101.0h0M475.8 97.2h0M478.6 102.3h0M464.2 100.0h0M477.7 98.9h0M474.1 98.6h0M486.9 100.1h0M468.6 101.6h0M465.9 100.2h0M479.3 101.0h0M480.8 100.8h0M477.4 100.7h0M480.7 102.6h0M471.4 101.0h0M481.8 99.4h0M472.5 99.8h0M464.4 96.9h0M484.1 96.6h0M490.6 98.7h0M479.9 99.2h0M481.5 98.7h0M474.4 98.9h0M487.1 100.9h0M489.1 99.7h0M475.9 96.4h0M483.5 100.5h0M474.1 100.4h0M489.3 99.3h0M487.2 99.6h0M462.1 98.4h0M474.0 100.0h0M469.9 98.4h0M469.0 99.1h0M478.3 100.7h0M484.9 99.4h0M479.9 99.3h0M478.7 101.6h0M455.3 98.8h0M480.5 100.9h0M467.8 99.7h0M485.5 98.4h0M460.5 98.5h0M466.9 100.2h0M470.0 102.0h0M479.0 97.8h0M473.2 97.4h0M481.2 101.5h0M475.8 100.6h0M469.2 99.6h0M498.4 96.9h0M488.8 101.0h0M460.8 96.8h0M468.9 100.7h0M473.8 98.9h0M484.1 99.3h0M479.7 98.6h0M487.8 97.9h0M492.8 98.6h0M470.5 100.2h0M481.7 96.0h0M479.7 97.0h0M470.2 100.4h0M469.9 99.7h0M474.2 102.2h0M476.8 97.2h0M467.7 97.7h0M478.8 99.1h0M486.4 99.4h0M478.8 99.6h0M476.4 99.6h0M484.7 100.4h0M472.7 96.3h0M470.3 99.6h0M455.2 98.3h0M481.6 98.2h0M467.5 101.9h0M490.0 98.7h0M489.5 101.2h0M467.4 103.4h0M469.1 98.7h0M467.7 99.2h0M465.7 99.1h0M487.3 99.4h0M475.1 101.6h0M469.4 100.6h0M474.8 99.4h0M477.8 99.3h0M477.0 97.8h0M472.3 99.8h0M476.5 97.2h0M471.1 98.0h0M476.9 99.4h0M478.2 98.0h0M477.6 96.9h0M451.4 99.0h0M462.5 97.5h0M466.5 100.1h0M466.4 99.5h0M472.9 97.1h0M463.1 99.8h0M480.7 100.3h0M493.7 99.5h0M479.8 98.8h0M478.2 98.5h0M469.1 102.2h0M460.4 99.4h0M481.1 99.3h0M468.5 98.7h0M473.0 97.3h0M476.7 98.4h0M472.1 100.1h0M467.5 99.7h0M471.5 99.7h0M477.6 99.4h0M468.2 97.8h0M469.3 99.3h0M483.7 100.7h0M472.5 99.1h0M462.4 95.4h0M469.2 97.9h0M463.0 96.1h0M481.7 97.7h0M461.8 102.7h0M478.4 98.5h0M483.0 97.8h0M491.1 96.5h0M465.1 98.7h0M470.0 101.2h0M462.4 97.8h0M478.9 99.9h0M485.8 99.5h0M496.5 98.2h0M478.3 100.3h0M473.9 98.5h0M472.5 97.9h0M466.6 98.1h0M462.8 99.5h0M462.4 102.2h0M491.9 100.7h0M474.7 98.0h0M487.6 99.2h0M481.6 97.8h0M486.2 97.7h0M477.6 96.2h0M470.7 99.7h0M472.5 98.2h0M483.6 98.8h0M487.7 95.1h0M481.6 99.7h0M462.7 96.9h0M484.4 97.2h0M470.8 99.9h0M473.6 99.7h0M468.8 99.4h0M486.2 99.4h0M456.9 100.0h0M477.0 97.5h0M489.0 96.1h0M493.3 97.9h0M490.6 98.8h0M464.6 99.1h0M479.5 99.8h0M486.0 97.5h0M480.9 100.1h0M474.1 97.4h0M467.9 100.1h0M483.7 97.6h0M464.5 100.9h0M462.6 99.2h0M469.3 96.1h0M477.6 98.6h0M489.4 102.5h0M474.8 100.5h0M485.9 98.1h0M468.7 101.5h0M473.2 98.9h0M473.9 98.7h0M471.1 100.1h0M487.7 98.3h0M464.1 99.0h0M463.2 97.9h0M487.5 102.6h0M479.9 97.2h0M483.5 95.3h0M470.3 101.3h0M483.2 96.7h0M461.6 100.3h0M476.1 98.0h0M480.2 98.0h0M459.3 100.2h0M470.7 97.3h0M464.6 99.3h0M469.3 99.9h0M474.1 100.6h0M473.0 97.9h0M458.9 97.2h0M482.9 103.8h0M465.3 97.3h0M479.5 99.7h0M470.4 99.0h0M462.1 98.4h0M484.6 101.5h0M475.0 98.5h0M480.6 100.7h0M480.9 97.7h0M479.7 100.5h0M470.1 96.8h0M481.1 99.5h0M485.2 99.1h0M470.7 98.2h0M467.3 97.4h0M471.5 98.1h0M486.5 97.0h0M476.1 98.0h0M489.9 99.3h0M473.2 100.2h0M477.1 98.2h0M490.3 100.1h0M492.0 100.8h0M483.5 99.1h0M466.9 100.1h0M477.2 100.0h0M476.5 97.8h0M467.6 100.0h0M488.2 98.5h0M480.7 101.1h0M469.1 98.4h0M466.6 100.8h0M479.0 98.2h0M461.8 98.6h0M485.5 98.5h0M472.8 100.0h0M465.6 99.0h0M482.0 97.7h0M469.2 99.3h0M475.8 98.6h0M478.5 99.3h0M468.4 97.9h0M480.7 100.7h0M488.8 97.6h0M486.4 100.1h0M476.4 99.7h0M484.1 101.8h0M467.3 99.9h0M475.4 98.6h0M486.9 100.2h0M467.6 98.5h0M478.7 96.7h0M484.4 98.8h0M478.2 99.5h0M492.8 99.0h0M473.5 101.7h0M472.2 98.1h0M464.4 100.7h0M479.1 99.7h0M478.2 98.7h0M469.7 97.7h0M480.6 99.1h0M491.3 97.7h0M472.4 97.3h0M489.0 97.0h0M483.6 101.2h0M475.5 100.1h0M457.8 98.3h0M462.0 99.2h0M476.8 97.7h0M485.2 99.5h0M472.1 98.1h0M463.7 98.7h0M495.6 97.8h0M480.5 98.1h0M483.9 99.7h0M474.7 96.1h0M472.2 100.9h0M474.6 100.0h0M472.5 96.0h0M480.6 99.5h0M471.6 98.4h0M479.4 98.0h0M479.9 98.6h0M455.8 98.7h0M471.5 97.6h0M480.4 98.2h0M481.6 100.7h0M478.1 96.5h0M470.3 100.4h0M474.5 97.7h0M476.0 99.8h0M479.1 100.0h0M469.5 98.5h0M474.6 98.9h0M458.2 98.6h0M464.9 101.2h0M470.6 102.1h0M468.3 97.4h0M468.8 98.0h0M467.8 96.5h0M464.2 99.5h0M471.2 98.4h0M472.6 104.5h0M462.1 98.4h0M463.1 98.2h0M464.4 98.3h0M468.8 100.5h0M466.7 98.5h0M466.3 98.7h0M467.7 98.5h0M467.4 95.6h0M468.3 102.3h0M466.5 95.4h0M470.0 97.8h0M457.1 98.0h0M467.8 99.3h0M469.6 99.8h0M466.3 94.2h0M462.7 98.9h0M468.0 96.2h0M464.1 99.5h0M460.3 94.2h0M465.3 99.0h0M464.5 93.5h0M466.0 95.6h0M467.9 98.3h0M466.7 99.9h0M464.4 100.3h0M469.7 99.3h0M469.9 97.1h0M468.7 99.1h0M463.0 98.3h0M464.4 97.3h0M466.2 100.8h0M465.0 98.7h0M461.6 98.7h0M469.4 100.2h0M467.4 97.3h0M463.1 98.3h0M462.0 95.8h0M468.8 96.5h0M471.3 95.4h0M467.2 95.9h0M466.5 96.2h0M466.1 98.1h0M464.6 99.6h0M470.4 97.2h0M468.6 98.7h0M465.9 103.3h0M459.5 97.0h0M460.6 97.8h0M465.3 106.8h0M467.0 102.4h0M469.8 97.5h0M467.4 102.1h0M466.5 98.9h0M467.5 95.2h0M463.6 99.2h0M467.6 96.5h0M465.0 98.2h0M465.5 100.0h0M466.3 98.8h0M461.8 96.2h0M466.9 95.0h0M466.8 97.0h0M463.5 99.9h0M463.9 96.6h0M463.9 98.6h0M474.1 93.8h0M465.9 97.9h0M468.8 97.7h0M458.6 101.4h0M462.7 98.3h0M461.9 96.1h0M464.5 100.3h0M468.4 97.1h0M467.4 97.6h0M466.3 98.8h0M467.8 97.1h0M465.5 98.9h0M466.2 96.7h0M471.1 97.4h0M468.2 98.9h0M469.6 93.7h0M472.0 98.0h0M462.2 98.7h0M472.6 99.5h0M462.2 97.4h0M469.9 95.4h0M465.4 97.8h0M472.4 97.8h0M469.8 97.0h0M463.5 100.6h0M467.8 94.7h0M467.8 99.8h0M464.1 98.9h0M466.7 97.4h0M464.2 97.0h0M465.1 95.5h0M465.8 95.2h0M466.1 98.2h0M462.8 100.3h0M471.7 101.3h0M461.8 101.2h0M466.6 98.3h0M464.1 98.4h0M494.4 100.4h0M487.2 98.2h0M487.2 100.5h0M496.3 97.5h0M488.9 98.8h0M485.9 100.1h0M491.1 96.9h0M484.8 101.6h0M490.1 100.4h0M486.9 98.8h0M490.7 98.6h0M484.5 99.4h0M492.5 97.6h0M493.1 100.7h0M485.4 99.5h0M488.7 100.6h0M491.5 97.1h0M483.5 101.3h0M489.3 100.2h0M490.2 102.2h0M484.1 101.4h0M485.6 100.7h0M494.2 97.0h0M490.5 98.9h0M487.7 99.5h0M484.7 97.7h0M491.5 100.9h0M486.6 96.8h0M498.0 101.4h0M490.3 97.6h0M486.6 99.9h0M485.1 102.3h0M489.4 100.1h0M484.8 97.8h0M485.7 99.9h0M487.8 98.9h0M490.1 99.8h0M494.7 99.1h0M484.9 99.4h0M494.6 98.5h0M489.1 98.8h0M490.5 99.9h0M485.7 99.0h0M492.6 101.4h0M492.5 101.0h0M487.6 98.8h0M492.5 97.4h0M488.6 96.2h0M487.4 98.2h0M484.1 100.5h0M486.0 98.8h0M487.9 98.1h0M494.5 98.6h0M489.6 97.1h0M487.0 98.9h0M487.7 98.4h0M489.4 102.2h0M488.3 99.2h0M487.3 103.9h0M495.2 100.4h0M491.6 98.2h0M488.3 99.8h0M489.3 97.9h0M485.8 100.4h0M490.1 95.7h0M489.2 101.7h0M486.3 99.9h0M483.2 100.9h0M484.5 97.2h0M487.6 103.6h0M486.5 97.2h0M490.7 99.8h0M495.4 97.2h0M482.6 98.9h0M490.4 100.1h0M493.1 96.8h0M485.6 99.2h0M492.2 100.3h0M487.2 97.6h0M492.3 101.1h0M499.5 99.1h0M495.2 97.3h0M486.7 98.3h0M487.1 97.9h0M486.8 99.4h0M487.1 100.6h0M488.6 99.4h0M494.7 100.0h0M489.5 99.4h0M489.1 100.5h0M479.1 94.8h0M493.4 98.3h0M494.1 97.1h0M484.6 96.6h0M468.9 95.2h0M476.4 96.0h0M488.3 97.3h0M490.1 97.3h0M492.7 98.4h0M473.0 94.7h0M471.6 94.6h0M471.4 95.7h0M486.4 95.5h0M493.2 97.6h0M478.4 96.2h0M473.4 95.6h0M482.8 94.4h0M473.9 94.6h0M477.2 95.3h0M464.8 96.4h0M461.3 97.0h0M474.2 96.4h0M469.0 95.8h0M463.2 96.3h0M494.5 97.9h0M483.7 94.7h0M472.9 95.8h0M493.6 98.0h0M462.5 95.7h0M471.6 96.1h0M489.6 96.9h0M494.2 98.5h0M488.5 94.9h0M464.8 96.3h0M480.0 97.1h0M459.9 95.6h0M459.5 96.5h0M488.9 97.9h0M458.8 96.4h0M459.9 95.3h0M462.5 94.7h0M484.3 95.9h0M482.1 96.1h0M466.2 95.3h0M473.2 95.5h0M493.8 97.5h0M466.6 94.3h0M461.4 95.7h0M482.9 95.9h0M462.7 97.0h0M478.2 95.8h0M467.3 95.7h0M457.9 95.8h0M482.3 95.3h0M485.8 94.9h0M470.8 95.8h0M465.3 95.0h0M493.2 98.0h0M465.8 95.8h0M466.6 95.3h0" stroke="#151515" stroke-width="0.90" stroke-linecap="round" opacity="0.9"/>
<ellipse cx="479" cy="99.2" rx="18.5" ry="5.6" fill="none" stroke="#e3989b" stroke-width="0.55"/>
<ellipse cx="479.5" cy="99.5" rx="15" ry="4" fill="none" stroke="#d98286" stroke-width="0.55"/>
<ellipse cx="483" cy="99.8" rx="11" ry="2.6" fill="none" stroke="#d27276" stroke-width="0.5"/>
<path d="M467.9 70.2h0M461.8 86.8h0M461.6 70.9h0M461.9 54.6h0M472.1 59.5h0M464.3 59.4h0M465.6 95.0h0M462.2 47.4h0M469.1 41.0h0M465.4 89.4h0M466.9 60.8h0M464.0 53.0h0M464.5 71.7h0M471.8 86.4h0M464.6 56.2h0M465.1 63.4h0M462.4 51.5h0M468.2 39.7h0M463.2 57.6h0M467.1 44.7h0M471.1 63.6h0M465.8 62.6h0M464.1 51.5h0M471.3 72.6h0M466.3 86.6h0M463.9 80.1h0M466.8 53.1h0M469.7 42.3h0M469.3 53.1h0M468.3 93.3h0M469.0 58.1h0M466.6 62.2h0M462.1 49.1h0M466.9 78.2h0M468.7 70.5h0M462.7 86.9h0M461.9 80.0h0M467.7 74.0h0M467.6 54.9h0M465.4 43.7h0M467.2 77.9h0M464.0 52.0h0M464.8 68.2h0M466.9 66.5h0M466.9 45.2h0M472.2 43.3h0M464.0 73.6h0M470.4 79.7h0M471.6 67.3h0M468.2 75.5h0M464.9 89.5h0M469.1 85.5h0M465.1 86.4h0M462.5 75.2h0M469.5 60.3h0M467.3 39.6h0M472.7 78.7h0M466.5 75.5h0M467.9 93.2h0M467.4 42.3h0M465.6 90.8h0M468.8 60.8h0M469.0 70.3h0M469.0 40.3h0M463.1 79.9h0M465.7 74.4h0M467.5 58.4h0M464.2 66.9h0M471.9 66.4h0M471.0 70.4h0M467.2 80.0h0M469.4 47.0h0M471.3 51.1h0M466.9 97.5h0M465.2 79.0h0M466.8 75.6h0M463.3 52.1h0M467.9 40.7h0M463.3 79.5h0M464.2 52.6h0M462.3 70.8h0M480.5 85.4h0M482.2 98.7h0M479.8 68.9h0M485.2 84.2h0M485.5 71.7h0M495.1 84.0h0M483.6 71.9h0M488.6 83.7h0M497.2 81.0h0M472.0 85.2h0M475.1 87.5h0M473.5 83.2h0M481.8 84.0h0M479.0 77.9h0M483.4 79.7h0M485.5 82.1h0M462.2 83.7h0M497.5 86.6h0M489.8 87.8h0M479.5 73.9h0M491.9 92.4h0M489.5 87.5h0M487.8 84.0h0M486.7 84.3h0M487.2 76.9h0M477.9 88.6h0M480.7 65.5h0M485.2 66.6h0M502.5 89.8h0M490.5 79.1h0M473.2 82.6h0M484.2 78.3h0M485.6 89.5h0M489.8 76.3h0M463.2 84.3h0" stroke="#222" stroke-width="0.84" stroke-linecap="round" opacity="0.85"/>
<rect x="435.4" y="38.3" width="38.9" height="69.6" fill="none" stroke="#8c8c8c" stroke-width="0.95"/>
<line x1="461.2" y1="38.3" x2="461.2" y2="107.9" stroke="#777" stroke-width="0.95" />
<line x1="435.4" y1="72.0" x2="502.7" y2="72.0" stroke="#999" stroke-width="0.95" />
<rect x="474.3" y="72.0" width="28.4" height="35.9" fill="none" stroke="#666" stroke-width="0.95"/>
<path d="M566 74L563 66L558.5 56L556 48L557.5 42L562 39.6L567 40L570.5 43L571.5 49L570 57L567.5 66L566 74Z" fill="#ededed" stroke="#555" stroke-width="0.7"/>
<path d="M566 74L569.5 80L572.5 88L574.3 96L573.5 102L569 105L563.5 104.5L560.5 100L560.5 92L562.5 84L566 74Z" fill="#e6e6e6" stroke="#555" stroke-width="0.7"/>
<ellipse cx="564.0" cy="50.0" rx="5.5" ry="8.5" fill="none" stroke="#8e8e8e" stroke-width="0.55" transform="rotate(0 564.0 50.0)"/>
<ellipse cx="564.0" cy="50.0" rx="4.4" ry="6.8" fill="none" stroke="#8e8e8e" stroke-width="0.55" transform="rotate(0 564.0 50.0)"/>
<ellipse cx="564.0" cy="50.0" rx="3.5" ry="5.4" fill="none" stroke="#8e8e8e" stroke-width="0.55" transform="rotate(0 564.0 50.0)"/>
<ellipse cx="564.0" cy="50.0" rx="2.8" ry="4.4" fill="none" stroke="#8e8e8e" stroke-width="0.55" transform="rotate(0 564.0 50.0)"/>
<ellipse cx="564.0" cy="50.0" rx="2.3" ry="3.5" fill="none" stroke="#8e8e8e" stroke-width="0.55" transform="rotate(0 564.0 50.0)"/>
<ellipse cx="567.6" cy="95.0" rx="5.3" ry="7.8" fill="none" stroke="#7e7e7e" stroke-width="0.55" transform="rotate(0 567.6 95.0)"/>
<ellipse cx="567.6" cy="95.0" rx="4.2" ry="6.2" fill="none" stroke="#7e7e7e" stroke-width="0.55" transform="rotate(0 567.6 95.0)"/>
<ellipse cx="567.6" cy="95.0" rx="3.4" ry="5.0" fill="none" stroke="#7e7e7e" stroke-width="0.55" transform="rotate(0 567.6 95.0)"/>
<ellipse cx="567.6" cy="95.0" rx="2.7" ry="4.0" fill="none" stroke="#7e7e7e" stroke-width="0.55" transform="rotate(0 567.6 95.0)"/>
<ellipse cx="567.6" cy="95.0" rx="2.2" ry="3.2" fill="none" stroke="#7e7e7e" stroke-width="0.55" transform="rotate(0 567.6 95.0)"/>
<circle cx="568.3" cy="98.8" r="1.5" fill="#fff"/>
<path d="M572.8 47.4h0M566.8 41.2h0M560.2 53.8h0M561.7 64.7h0M556.5 45.4h0M567.0 42.0h0M562.0 38.3h0M564.4 72.2h0M561.7 64.0h0M571.3 49.9h0M565.0 36.6h0M570.2 54.3h0M556.9 41.6h0M558.6 57.0h0M569.6 57.4h0M558.4 59.9h0M564.2 70.1h0M557.8 47.5h0M558.5 42.0h0M560.5 59.0h0M567.8 69.9h0M558.8 56.2h0M563.3 64.1h0M571.7 46.2h0M561.6 62.9h0M557.5 53.3h0M557.1 42.5h0M555.5 54.8h0M570.4 46.5h0M561.0 64.6h0M570.0 46.6h0M564.0 67.1h0M570.2 42.3h0M565.0 73.7h0M571.2 58.2h0M567.7 69.8h0M566.2 41.2h0M562.7 61.0h0M557.5 46.4h0M571.1 56.8h0M563.4 65.2h0M572.3 46.1h0M557.5 49.9h0M566.0 68.3h0M554.6 48.7h0M558.4 49.3h0M558.8 54.2h0M567.0 38.5h0M567.4 70.4h0M567.1 40.0h0M571.8 54.0h0M565.5 41.3h0M563.9 68.9h0M569.6 42.6h0M569.2 43.3h0M571.3 42.4h0M558.0 52.2h0M556.7 54.5h0M557.9 48.8h0M563.2 71.9h0M560.5 64.1h0M557.4 52.6h0M563.4 40.1h0M566.7 66.1h0M571.2 49.7h0M565.8 38.6h0M570.9 51.1h0M557.5 43.0h0M562.4 72.0h0M569.9 49.5h0M573.6 48.6h0M569.7 48.4h0M568.7 61.8h0M570.0 55.9h0M569.2 62.2h0M564.3 70.7h0M567.3 76.2h0M568.8 42.4h0M569.1 41.6h0M570.2 42.9h0M556.0 51.8h0M556.3 51.5h0M569.3 63.8h0M570.0 43.4h0M567.4 70.8h0M559.6 60.6h0M568.9 41.4h0M568.4 43.2h0M564.7 73.3h0M570.4 45.5h0M557.8 46.9h0M556.6 43.5h0M560.4 60.1h0M569.5 42.0h0M571.1 45.9h0M568.2 65.6h0M567.7 61.5h0M568.8 72.9h0M566.0 74.0h0M570.4 50.4h0M557.0 52.8h0M567.1 40.6h0M562.9 67.6h0M568.2 40.5h0M557.0 50.4h0M565.2 40.0h0M569.4 54.9h0M564.1 68.5h0M567.4 63.8h0M564.8 71.3h0M562.1 38.7h0M560.9 58.8h0M565.0 72.1h0M561.9 39.6h0M558.2 57.4h0M564.8 69.1h0M568.7 60.9h0M560.9 56.2h0M568.1 70.5h0M571.3 44.9h0M556.4 47.9h0M563.7 72.3h0M568.8 62.8h0M564.4 65.3h0M570.1 55.7h0M565.4 39.5h0M560.4 40.7h0M563.1 67.6h0M557.3 41.7h0M566.6 73.5h0M570.5 54.2h0M571.7 49.7h0M562.2 63.9h0M563.2 38.9h0M559.9 62.9h0M570.8 51.2h0M561.3 60.4h0M562.0 59.8h0M556.4 56.3h0M566.4 71.5h0M569.4 60.8h0M555.9 43.9h0M569.7 58.6h0M556.5 46.3h0M559.4 57.5h0M568.6 64.3h0M564.6 73.0h0M569.4 58.5h0M566.4 71.6h0M563.7 67.1h0M569.8 62.7h0M568.7 56.5h0M565.4 69.7h0M559.8 42.0h0M560.3 54.0h0M557.5 43.3h0M556.3 45.4h0M557.4 44.2h0M565.7 72.6h0M557.4 54.1h0M558.0 53.0h0M572.2 47.7h0M569.4 49.6h0M570.3 53.8h0M572.0 46.3h0M567.5 65.8h0M568.8 40.0h0M556.5 51.5h0M565.4 72.5h0M571.2 53.4h0M567.3 39.7h0M561.1 59.0h0M564.5 40.8h0M566.9 69.4h0M571.6 42.9h0M558.0 53.2h0M570.3 59.9h0M557.5 44.5h0M565.9 73.0h0M564.9 66.3h0M566.3 71.7h0M562.5 66.9h0M569.3 57.5h0M566.1 73.2h0M558.1 41.3h0M557.8 53.6h0M557.6 46.0h0M563.9 65.3h0M557.9 44.2h0M570.9 56.1h0M565.5 39.2h0M562.5 65.4h0M569.4 58.8h0M566.8 65.1h0M559.3 40.0h0M555.8 46.1h0M565.3 74.0h0M564.9 70.2h0M558.2 44.8h0M563.3 67.1h0M568.9 70.1h0M569.5 46.5h0M556.5 49.6h0M569.6 41.1h0M558.6 61.4h0M567.4 68.2h0M564.1 39.9h0M571.0 49.7h0M558.8 60.0h0M562.2 40.8h0M573.2 51.4h0M555.0 45.7h0M565.3 67.9h0M559.1 40.4h0M569.9 59.0h0M559.9 39.7h0M565.1 71.0h0M567.8 40.2h0M567.2 62.0h0M566.9 70.6h0M570.7 43.8h0M564.3 38.2h0M556.3 46.9h0M568.4 65.1h0M562.7 66.8h0M564.2 38.1h0M557.3 50.4h0M566.9 71.5h0M570.2 57.2h0M560.2 58.5h0M562.1 62.7h0M565.0 71.4h0M560.3 61.4h0M567.5 68.9h0M569.2 61.5h0M570.1 58.3h0M557.0 42.4h0M562.2 41.0h0M569.7 41.3h0M570.1 60.1h0M567.8 75.0h0M560.7 60.6h0M569.2 41.9h0M561.3 64.2h0M566.2 68.3h0M565.1 70.0h0M566.1 69.7h0M560.3 58.0h0M560.0 60.1h0M557.8 41.2h0M573.0 45.0h0M567.3 74.3h0M560.6 40.1h0M566.7 67.0h0M567.3 64.2h0M567.6 73.7h0M555.3 48.2h0M561.3 42.9h0M567.2 71.8h0M556.4 44.2h0M556.3 47.5h0M563.2 64.8h0M567.4 60.0h0M559.1 54.4h0M562.0 64.1h0M562.5 65.3h0M563.5 73.1h0M569.7 55.0h0M563.0 40.1h0M566.4 37.5h0M558.9 43.2h0M565.8 69.5h0M557.8 45.8h0M561.8 39.8h0M570.5 50.6h0M566.0 69.3h0M566.6 61.9h0M566.3 66.0h0M558.6 59.1h0M567.5 69.9h0M571.4 62.1h0M557.0 50.0h0M567.6 57.8h0M566.4 70.1h0M569.1 52.9h0M569.8 54.6h0M569.2 61.0h0M567.6 64.7h0M569.3 56.6h0M562.0 68.8h0M560.6 58.9h0M563.0 65.3h0M562.7 40.6h0M562.8 67.9h0M567.9 41.2h0M567.9 68.9h0M566.5 71.0h0M564.2 69.3h0M571.1 47.6h0M561.9 63.1h0M566.2 63.9h0M565.9 70.2h0M563.2 67.0h0M556.2 50.7h0M566.0 74.7h0M571.4 47.3h0M560.2 59.5h0M571.2 51.5h0M565.9 69.6h0M560.2 40.4h0M561.0 40.1h0M566.0 73.9h0M558.4 51.8h0M567.2 65.4h0M570.7 51.4h0M565.5 72.6h0M555.7 49.1h0M571.1 53.3h0M563.7 71.1h0M568.0 63.1h0M566.4 66.8h0M570.2 52.6h0M569.6 59.0h0M567.3 43.2h0M569.4 59.2h0M561.0 39.9h0M556.0 42.7h0M570.7 53.0h0M562.4 39.9h0M556.4 51.1h0M558.5 53.5h0M557.4 43.5h0M557.8 43.5h0M568.5 53.8h0M570.2 57.6h0M569.3 56.4h0M568.9 62.4h0M556.3 46.2h0M557.0 46.1h0M567.6 61.4h0M559.1 61.6h0M571.7 49.5h0M565.3 41.1h0M569.0 47.6h0M573.0 48.5h0M571.1 46.4h0M558.6 53.9h0M563.6 71.6h0M566.8 70.6h0M568.0 67.1h0M564.2 40.5h0M570.1 47.2h0M566.8 69.5h0M560.9 41.4h0M570.4 41.6h0M573.3 50.0h0M559.1 60.0h0M561.1 67.4h0M564.7 70.2h0M568.5 61.7h0M560.8 59.8h0M569.0 58.8h0M568.9 57.8h0M561.2 59.0h0M570.2 58.2h0M556.3 46.5h0M556.4 46.9h0M561.7 58.8h0M569.9 41.8h0M569.0 43.6h0M563.6 41.9h0M562.7 68.6h0M571.2 57.3h0M555.8 51.7h0M557.8 54.4h0M570.7 44.4h0M560.0 59.1h0M565.6 66.6h0M573.0 48.1h0M569.8 57.6h0M556.7 49.9h0M558.2 41.3h0M557.8 56.5h0M561.1 54.6h0M555.1 43.5h0M569.8 57.4h0M564.6 39.7h0M567.4 58.7h0M562.7 64.3h0M557.7 51.0h0M564.5 69.6h0M566.9 66.6h0M564.8 70.7h0M566.2 39.0h0M573.5 48.7h0M560.4 59.4h0M567.9 73.5h0M567.0 73.3h0M557.7 55.6h0M561.7 63.6h0M571.1 46.8h0M564.2 39.3h0M568.6 43.8h0M571.3 42.9h0M567.2 70.9h0M570.3 53.8h0M555.5 49.9h0M572.3 53.2h0M558.9 39.8h0M565.8 72.4h0M559.0 36.8h0M566.4 73.2h0M566.5 68.5h0M558.7 51.0h0M569.0 61.2h0M569.8 43.1h0M571.6 53.6h0M569.3 52.7h0M565.9 67.1h0M567.0 62.0h0M569.2 46.1h0M554.8 49.1h0M563.7 40.9h0M559.0 53.1h0M556.3 49.0h0M560.8 40.1h0M558.7 42.3h0M558.6 52.9h0M557.7 50.4h0M556.4 49.2h0M559.8 59.5h0M570.0 40.4h0M566.9 66.9h0M559.7 56.7h0M558.1 60.9h0M572.7 48.3h0M558.4 52.1h0M562.6 66.7h0M567.1 60.2h0M557.8 40.6h0M570.3 62.5h0M557.0 50.6h0M555.9 47.2h0M567.9 42.2h0M564.2 69.7h0M566.1 74.9h0M560.3 64.6h0M567.9 67.4h0M569.9 45.9h0M570.0 55.6h0M558.2 57.2h0M568.2 66.6h0M565.3 39.1h0M556.5 45.5h0M560.6 59.5h0M561.9 63.7h0M569.5 61.6h0M566.3 71.1h0M557.0 41.0h0M570.4 51.1h0" stroke="#1a1a1a" stroke-width="0.90" stroke-linecap="round" opacity="0.85"/>
<path d="M562.6 95.7h0M558.9 92.3h0M560.7 89.1h0M562.3 91.8h0M561.2 83.3h0M561.4 95.4h0M568.3 104.4h0M572.8 100.4h0M568.8 77.4h0M565.9 76.6h0M563.1 84.7h0M571.5 84.1h0M563.8 82.1h0M573.2 102.3h0M567.5 77.3h0M563.4 87.5h0M559.9 93.1h0M566.6 74.5h0M564.0 105.3h0M565.0 78.9h0M570.4 106.3h0M574.2 92.6h0M576.8 102.7h0M559.8 98.3h0M563.5 81.0h0M562.1 87.0h0M564.3 78.3h0M565.9 103.0h0M571.2 104.2h0M566.2 102.2h0M566.2 76.8h0M573.0 99.7h0M567.6 77.4h0M571.3 100.4h0M560.8 99.5h0M561.9 85.8h0M565.1 77.2h0M559.7 98.1h0M560.9 88.3h0M561.9 88.6h0M561.0 87.9h0M562.2 101.8h0M565.1 77.0h0M563.3 81.1h0M567.2 74.4h0M568.7 81.4h0M565.8 73.6h0M562.0 98.0h0M571.6 82.3h0M563.5 81.3h0M567.8 80.1h0M565.1 104.1h0M573.8 99.4h0M574.0 92.1h0M571.6 91.5h0M568.5 77.2h0M574.9 99.0h0M565.9 80.3h0M561.9 100.9h0M576.2 95.7h0M561.6 89.2h0M564.7 80.0h0M563.9 82.0h0M558.4 91.8h0M559.8 90.1h0M568.6 80.2h0M564.3 78.0h0M561.5 103.6h0M567.5 104.9h0M559.6 97.6h0M573.0 87.3h0M567.7 104.8h0M567.9 83.9h0M564.2 79.1h0M568.5 105.5h0M569.2 84.4h0M565.1 74.2h0M564.1 104.8h0M562.2 91.7h0M560.7 88.7h0M562.6 96.3h0M573.1 102.7h0M574.8 93.9h0M566.3 75.5h0M560.1 100.6h0M570.4 80.8h0M573.9 99.1h0M563.5 82.3h0M564.3 80.6h0M562.3 85.9h0M572.9 86.2h0M566.4 78.1h0M571.0 82.3h0M563.7 79.9h0M560.7 90.9h0M564.1 76.1h0M565.8 75.7h0M567.3 104.4h0M572.0 95.0h0M562.1 78.3h0M575.3 95.9h0M573.6 95.9h0M563.0 102.0h0M571.3 82.9h0M572.6 102.9h0M571.7 82.2h0M571.9 102.8h0M564.6 80.0h0M563.2 79.4h0M565.6 77.4h0M562.3 94.2h0M557.8 91.3h0M570.2 102.4h0M564.2 79.9h0M569.3 82.9h0M571.1 86.7h0M570.5 82.2h0M575.4 101.5h0M568.3 76.7h0M560.8 96.0h0M573.3 86.0h0M559.8 95.0h0M561.8 104.3h0M562.1 93.1h0M558.2 96.5h0M559.6 89.3h0M567.9 105.8h0M563.9 104.0h0M574.1 90.8h0M568.3 106.9h0M570.6 79.0h0M564.1 76.9h0M564.1 79.0h0M568.1 79.4h0M566.5 75.2h0M573.7 101.8h0M564.5 106.5h0M569.6 105.5h0M574.9 98.2h0M561.8 100.9h0M573.4 99.7h0M573.8 101.6h0M566.9 78.8h0M560.1 102.5h0M570.5 80.4h0M564.0 82.4h0M568.3 105.6h0M573.8 100.1h0M560.8 98.2h0M563.8 81.7h0M571.6 84.4h0M573.6 101.1h0M565.7 74.3h0M561.2 84.0h0M574.0 99.8h0M573.8 97.6h0M564.2 85.1h0M571.1 78.5h0M570.7 81.4h0M562.6 104.8h0M564.1 103.6h0M562.1 106.2h0M562.6 90.6h0M562.9 82.6h0M573.8 102.8h0M573.3 96.2h0M561.6 85.9h0M575.1 90.3h0M563.7 84.2h0M560.3 93.6h0M563.6 85.2h0M560.4 101.3h0M570.1 78.9h0M561.0 94.0h0M570.1 105.0h0M571.6 86.6h0M570.0 79.0h0M573.5 91.3h0M571.9 84.8h0M569.4 81.8h0M561.5 84.2h0M564.2 77.6h0M567.2 73.0h0M561.8 102.5h0M564.5 105.6h0M566.6 76.1h0M570.3 82.9h0M562.2 90.3h0M563.8 104.2h0M562.6 106.2h0M560.8 90.1h0M561.4 85.3h0M560.6 95.6h0M565.1 76.0h0M566.9 105.1h0M561.0 84.5h0M561.6 85.2h0M563.5 77.3h0M566.2 105.5h0M564.9 106.9h0M568.2 76.6h0M566.2 106.8h0M563.0 106.2h0M565.3 78.8h0M562.8 84.1h0M569.5 77.9h0M571.0 83.5h0M573.0 100.0h0M560.6 88.9h0M571.9 83.9h0M562.0 89.9h0M563.0 103.5h0M564.5 83.2h0M575.0 97.2h0M574.3 100.7h0M568.0 78.7h0M566.4 105.4h0M560.0 91.3h0M566.2 105.3h0M566.2 105.9h0M563.6 78.8h0M559.0 90.0h0M572.9 95.9h0M566.4 75.5h0M559.2 93.7h0M575.4 94.7h0M572.9 88.6h0M561.2 98.7h0M568.0 103.6h0M561.4 102.3h0M569.6 82.1h0M560.5 89.6h0M563.5 83.2h0M571.7 101.8h0M574.1 97.0h0M565.8 77.5h0M566.0 73.5h0M570.8 81.2h0M563.4 103.5h0M573.8 101.5h0M573.0 94.2h0M567.2 103.0h0M560.5 96.9h0M573.8 100.0h0M573.5 94.5h0M564.4 81.5h0M560.2 98.7h0M572.7 94.0h0M569.7 84.4h0M573.1 101.3h0M565.8 78.3h0M561.8 86.1h0M572.6 86.6h0M562.8 101.9h0M567.2 72.9h0M564.8 82.8h0M565.4 76.5h0M572.7 88.3h0M574.5 97.1h0M574.6 93.9h0M572.2 85.5h0M560.7 97.4h0M573.4 100.6h0M565.3 74.0h0M572.4 90.0h0M559.7 99.3h0M559.0 94.8h0M567.7 75.9h0M563.0 103.3h0M561.6 98.2h0M561.2 99.2h0M560.6 101.2h0M563.0 90.3h0M572.8 97.2h0M562.6 84.2h0M573.0 101.5h0M568.7 78.0h0M559.8 100.6h0M572.8 97.4h0M560.7 97.4h0M572.3 98.5h0M568.8 106.0h0M564.4 104.9h0M558.1 94.8h0M573.4 95.4h0M562.1 99.8h0M573.7 90.5h0M560.3 88.7h0M571.5 90.4h0M567.4 78.4h0M566.6 76.0h0M562.4 101.5h0M574.6 94.8h0M564.5 102.8h0M575.3 97.5h0M568.9 102.3h0M562.7 84.3h0M563.7 79.8h0M566.9 77.4h0M563.5 78.6h0M564.1 102.8h0M562.6 92.4h0M563.4 81.4h0M573.1 87.7h0M573.4 100.9h0M563.9 80.0h0M567.0 104.6h0M565.0 82.6h0M561.6 84.6h0M566.3 74.9h0M560.1 97.8h0M569.2 78.8h0M565.0 81.0h0M570.9 84.2h0M572.1 83.9h0M573.6 98.9h0M570.7 87.3h0M567.8 82.6h0M559.6 101.7h0M564.4 80.0h0M573.6 92.5h0M573.0 99.4h0M560.2 102.2h0M574.1 92.1h0M569.2 107.9h0M562.9 84.0h0M570.1 82.7h0M564.6 104.4h0M571.2 86.9h0M558.7 91.1h0M571.2 88.2h0M562.2 86.4h0M573.7 101.6h0M563.8 78.9h0M574.1 97.7h0M566.8 104.0h0M570.0 82.4h0M575.3 93.0h0M574.2 102.5h0M564.7 81.6h0M562.9 102.5h0M561.8 89.4h0M561.2 84.2h0M568.7 80.8h0M576.3 95.0h0M559.0 86.4h0M561.5 89.2h0M563.0 104.1h0M571.0 102.5h0M568.3 105.2h0M565.4 74.2h0M569.7 82.9h0M572.9 100.0h0M571.1 80.6h0M574.8 89.5h0M561.1 87.6h0M558.9 90.4h0M557.8 91.7h0M564.8 105.5h0M563.8 78.3h0M573.9 89.2h0M561.3 101.5h0M571.5 103.5h0M562.2 79.7h0M572.4 96.7h0M572.2 90.7h0M561.9 90.6h0M562.4 87.7h0M560.5 91.5h0M558.6 86.5h0M572.0 86.4h0M561.5 101.9h0M564.8 103.5h0M562.1 78.1h0M575.0 102.3h0M571.5 90.1h0M574.6 96.6h0M566.2 105.0h0M567.0 73.2h0M559.7 95.2h0M559.7 96.0h0M571.0 104.6h0M572.5 102.2h0M565.1 78.2h0M570.4 102.1h0M570.2 83.1h0M562.4 90.0h0M573.2 86.6h0M573.2 102.1h0M561.9 100.3h0M562.7 86.6h0M567.1 74.6h0M559.9 99.0h0M572.5 83.0h0M559.8 100.5h0M560.2 101.9h0M566.2 105.9h0M572.5 104.0h0M567.4 104.4h0M564.0 77.5h0M574.0 98.2h0M569.0 105.2h0M570.9 81.1h0M573.4 101.0h0M569.3 76.6h0M562.9 81.6h0M573.4 97.6h0M565.1 79.2h0M570.6 81.5h0M561.7 97.4h0M561.1 104.1h0M561.5 96.7h0M560.9 88.0h0M567.9 76.5h0M561.4 93.1h0M567.3 75.2h0M574.2 95.1h0M561.2 84.2h0M562.4 104.6h0M564.7 77.3h0M562.0 85.5h0M571.5 102.8h0M572.9 94.4h0M572.2 86.9h0M566.2 76.4h0M561.5 94.6h0M560.1 89.2h0M567.5 75.8h0M568.5 104.2h0M561.4 85.0h0M560.4 98.9h0M571.0 103.0h0M564.2 78.9h0M573.2 103.3h0M574.3 96.6h0M567.5 103.8h0M574.5 94.5h0M573.2 101.1h0M567.5 106.3h0M569.7 79.0h0M561.2 103.0h0M561.7 102.5h0M561.4 94.9h0M575.3 89.9h0M565.4 77.3h0M561.9 94.3h0M575.7 101.2h0M561.1 101.5h0M572.0 92.8h0M574.9 98.4h0M571.9 90.7h0M566.6 103.1h0M559.0 97.1h0M572.7 90.1h0M574.9 95.4h0M569.4 104.2h0M561.2 95.0h0M573.9 98.9h0M567.7 78.0h0M565.1 106.0h0" stroke="#1a1a1a" stroke-width="0.90" stroke-linecap="round" opacity="0.85"/>
<path d="M586.5 55.0h0M579.7 49.1h0M581.7 77.6h0M588.4 59.2h0M583.4 86.3h0M584.8 77.8h0M581.0 69.8h0M582.8 92.2h0M577.9 90.3h0M588.5 80.9h0M586.5 67.3h0M581.5 80.6h0M588.5 63.6h0M582.4 74.7h0M587.5 68.7h0M584.1 77.1h0M580.8 61.9h0M584.9 96.7h0M581.8 103.1h0M579.0 84.1h0M580.4 66.1h0M582.6 55.0h0M582.6 77.3h0M580.1 63.1h0M578.5 78.2h0M579.7 80.1h0M581.3 82.5h0M582.0 93.4h0M585.4 82.6h0M588.7 71.3h0M581.0 101.2h0M579.5 70.9h0M584.6 51.6h0M582.0 40.7h0M582.9 73.2h0M585.7 64.5h0M577.3 102.7h0M578.4 58.0h0M581.8 47.1h0M579.7 67.5h0M579.5 65.4h0M588.4 78.0h0M585.8 58.0h0M582.4 69.5h0M584.7 66.7h0M581.3 54.1h0M583.8 52.9h0M619.0 96.9h0M600.9 101.0h0M602.2 97.5h0M602.5 93.3h0M594.5 93.4h0M613.4 93.8h0M599.3 94.7h0M609.4 107.1h0M594.5 99.8h0M604.1 95.4h0M607.7 90.5h0M610.7 98.1h0M593.8 105.2h0M610.8 103.0h0M589.6 95.6h0M598.2 100.2h0M615.5 87.2h0M603.2 96.4h0M612.2 96.8h0M591.3 96.0h0M593.5 93.0h0M603.4 94.5h0M605.6 89.2h0M624.4 103.4h0M609.6 90.4h0M583.1 92.6h0M600.9 108.4h0M615.0 94.3h0M614.1 103.3h0M603.1 103.2h0M606.0 93.7h0M592.2 96.4h0M612.2 90.1h0M588.2 99.8h0M578.0 106.3h0M599.0 100.7h0M620.1 89.6h0M593.3 108.5h0M600.4 96.3h0M605.1 102.4h0M615.2 97.6h0M599.9 96.8h0M605.8 103.7h0M604.2 106.3h0M595.1 99.7h0M619.2 103.6h0M606.1 92.5h0M596.4 96.2h0M605.9 95.7h0M589.6 93.2h0M607.8 101.3h0M590.1 95.1h0M587.6 94.1h0M635.6 97.3h0M599.8 94.0h0M591.9 87.5h0M602.6 95.6h0M616.6 88.6h0M607.0 103.9h0M585.0 100.4h0M588.2 99.7h0M616.6 97.0h0M605.6 93.5h0M605.7 102.8h0M601.3 96.3h0M606.6 101.2h0M587.9 97.3h0M596.7 99.5h0M612.5 98.6h0M614.9 91.9h0M599.2 91.9h0M603.5 97.5h0M601.2 90.8h0M602.3 94.8h0M608.6 95.6h0M613.7 98.2h0M585.9 96.1h0M589.8 102.0h0M616.2 96.9h0M607.1 89.6h0M567.4 77.1h0M591.9 63.3h0M596.1 89.5h0M602.9 107.2h0M605.0 79.8h0M596.3 93.6h0M582.2 104.0h0M606.1 81.8h0M605.4 98.5h0M617.1 99.1h0M597.6 95.1h0M583.8 95.3h0M576.1 91.1h0M601.9 62.7h0M618.6 68.6h0M607.9 77.5h0M598.9 75.7h0M625.7 99.9h0M617.4 96.4h0M603.7 87.3h0M592.2 93.9h0M597.2 83.1h0M578.3 80.9h0M602.7 78.5h0M599.5 83.2h0M582.6 72.3h0M586.1 81.1h0M592.0 101.4h0M581.9 56.0h0M603.7 78.8h0M593.8 121.9h0M613.3 93.8h0M606.9 87.1h0M607.1 76.6h0M586.6 78.7h0M614.8 107.7h0M587.9 102.1h0M593.4 100.8h0M591.4 99.2h0M554.7 64.7h0M555.0 73.9h0M553.3 42.6h0M560.3 62.6h0M549.5 24.1h0M546.5 58.1h0M559.3 37.2h0M554.1 33.0h0M558.5 78.2h0M556.1 98.5h0M560.2 91.9h0M553.3 43.5h0M551.9 34.7h0M560.7 66.9h0M555.5 74.8h0M561.3 59.2h0M558.8 77.1h0M554.7 31.3h0M558.0 55.5h0M553.7 75.5h0M555.4 94.0h0M553.1 74.2h0M556.0 71.4h0M557.2 65.6h0M558.8 56.2h0M550.7 70.0h0M558.8 60.2h0M553.2 63.7h0M555.6 67.2h0M556.1 35.5h0M559.8 82.8h0M552.5 99.1h0M556.5 101.2h0M551.5 105.0h0M555.3 28.5h0M557.5 64.6h0M552.0 66.4h0M549.1 82.9h0M554.5 65.3h0M559.5 71.6h0" stroke="#333" stroke-width="0.84" stroke-linecap="round" opacity="0.75"/>
<path d="M592 99Q600 93 612 95" fill="none" stroke="#aaa" stroke-width="0.5"/>
<rect x="551.6" y="38.3" width="38.1" height="69.6" fill="none" stroke="#8c8c8c" stroke-width="0.95"/>
<line x1="576.5" y1="38.3" x2="576.5" y2="107.9" stroke="#555" stroke-width="0.95" />
<line x1="551.6" y1="72.0" x2="618.2" y2="72.0" stroke="#999" stroke-width="0.95" />
<rect x="589.7" y="72.0" width="28.5" height="35.9" fill="none" stroke="#777" stroke-width="0.95"/>
<line x1="589.7" y1="38.3" x2="589.7" y2="107.9" stroke="#555" stroke-width="0.95" />
<text x="440.1" y="28.2" font-size="13">V: 28.3%</text>
<text x="477.5" y="45.8" font-size="13">I: 0.61%</text>
<text x="480.4" y="67.7" font-size="13">II: 5.54%</text>
<text x="439.3" y="125.5" font-size="13">IV: 62.2%</text>
<text x="463.0" y="142.2" font-size="13">III: 3.10%</text>
<text x="556.9" y="28.7" font-size="13">V: 54.5%</text>
<text x="594.2" y="45.8" font-size="13">I: 0.91%</text>
<text x="596.0" y="67.7" font-size="13">II: 0.27%</text>
<text x="556.0" y="125.5" font-size="13">IV: 43.4%</text>
<text x="579.0" y="142.7" font-size="13">III: 0.53%</text>
<text x="475.2" y="10.6" font-size="13.2" text-anchor="middle" font-weight="bold" fill="#000">0 wk</text>
<text x="595.2" y="10.6" font-size="13.2" text-anchor="middle" font-weight="bold" fill="#000">9 wk</text>
<text x="546.0" y="162.3" font-size="13.2">(Gated on CD4<tspan font-size="7.5" dy="-4.1">+</tspan><tspan dy="4.1" font-size="13.2"> T cells)</tspan></text>
<text x="394.6" y="128.0" font-size="12.9" transform="rotate(-90 394.6 128.0)">CD45RA-BV711</text>
<path d="M390.5 142V165.3H416" stroke="#000" stroke-width="1" fill="none" />
<path d="M390.5 134.5L386.9 142.5H394.1Z" fill="#000"/>
<path d="M421.5 165.3L413.5 161.7V168.9Z" fill="#000"/>
<text x="428.2" y="170.0" font-size="12.9">FoxP3-PE</text>
<line x1="64.4" y1="223.7" x2="64.4" y2="369.2" stroke="#000" stroke-width="1.5" />
<line x1="59.0" y1="368.5" x2="160.3" y2="368.5" stroke="#000" stroke-width="1.5" />
<line x1="59.4" y1="368.5" x2="64.4" y2="368.5" stroke="#000" stroke-width="1.305" />
<text x="57.0" y="373.3" font-size="13.2" text-anchor="end">0</text>
<line x1="59.4" y1="320.5" x2="64.4" y2="320.5" stroke="#000" stroke-width="1.305" />
<text x="57.0" y="325.2" font-size="13.2" text-anchor="end">50</text>
<line x1="59.4" y1="272.4" x2="64.4" y2="272.4" stroke="#000" stroke-width="1.305" />
<text x="57.0" y="277.2" font-size="13.2" text-anchor="end">100</text>
<line x1="59.4" y1="224.4" x2="64.4" y2="224.4" stroke="#000" stroke-width="1.305" />
<text x="57.0" y="229.2" font-size="13.2" text-anchor="end">150</text>
<line x1="91.7" y1="368.5" x2="91.7" y2="373.0" stroke="#000" stroke-width="1.305" />
<line x1="133.1" y1="368.5" x2="133.1" y2="373.0" stroke="#000" stroke-width="1.305" />
<text x="91.7" y="387.4" font-size="13.2" text-anchor="middle">0 wk</text>
<text x="138.2" y="387.4" font-size="13.2" text-anchor="middle">9-16 wk</text>
<rect x="78.5" y="313.8" width="26.3" height="33.7" fill="none" stroke="#000" stroke-width="1.3"/>
<line x1="78.5" y1="337.3" x2="104.8" y2="337.3" stroke="#000" stroke-width="1.3" />
<line x1="91.7" y1="276.2" x2="91.7" y2="313.8" stroke="#000" stroke-width="1.3" />
<line x1="91.7" y1="347.5" x2="91.7" y2="358.7" stroke="#000" stroke-width="1.3" />
<line x1="84.5" y1="276.2" x2="99.2" y2="276.2" stroke="#000" stroke-width="1.4040000000000001" />
<line x1="84.5" y1="358.7" x2="99.2" y2="358.7" stroke="#000" stroke-width="1.4040000000000001" />
<rect x="119.7" y="363.3" width="26.9" height="5.2" fill="none" stroke="#000" stroke-width="1.3"/>
<line x1="119.7" y1="366.5" x2="146.6" y2="366.5" stroke="#000" stroke-width="1.3" />
<line x1="133.2" y1="353.7" x2="133.2" y2="363.3" stroke="#000" stroke-width="1.3" />
<line x1="133.2" y1="368.5" x2="133.2" y2="368.5" stroke="#000" stroke-width="1.3" />
<line x1="125.8" y1="353.7" x2="140.7" y2="353.7" stroke="#000" stroke-width="1.4040000000000001" />
<line x1="125.8" y1="368.5" x2="140.7" y2="368.5" stroke="#000" stroke-width="1.4040000000000001" />
<circle cx="91.7" cy="276.2" r="2.2" fill="#000"/>
<circle cx="87.7" cy="289.1" r="2.2" fill="#000"/>
<circle cx="95.6" cy="290.6" r="2.2" fill="#2a4fae"/>
<circle cx="87.7" cy="301.5" r="2.2" fill="#2a4fae"/>
<circle cx="95.6" cy="301.1" r="2.2" fill="#000"/>
<circle cx="95.6" cy="305.7" r="2.2" fill="#2a4fae"/>
<circle cx="87.7" cy="320.6" r="2.2" fill="#2a4fae"/>
<circle cx="95.6" cy="320.6" r="2.2" fill="#000"/>
<circle cx="87.7" cy="327.2" r="2.2" fill="#000"/>
<circle cx="95.6" cy="329.8" r="2.2" fill="#2a4fae"/>
<circle cx="87.7" cy="331.5" r="2.2" fill="#000"/>
<circle cx="80.2" cy="336.7" r="2.2" fill="#000"/>
<circle cx="87.7" cy="338.6" r="2.2" fill="#2a4fae"/>
<circle cx="95.6" cy="337.7" r="2.2" fill="#2a4fae"/>
<circle cx="103.5" cy="337.3" r="2.2" fill="#000"/>
<circle cx="80.2" cy="341.2" r="2.2" fill="#2a4fae"/>
<circle cx="87.7" cy="343.2" r="2.2" fill="#2a4fae"/>
<circle cx="95.6" cy="341.9" r="2.2" fill="#2a4fae"/>
<circle cx="80.2" cy="347.9" r="2.2" fill="#2a4fae"/>
<circle cx="87.7" cy="350.1" r="2.2" fill="#2a4fae"/>
<circle cx="95.6" cy="351.5" r="2.2" fill="#000"/>
<circle cx="103.5" cy="349.5" r="2.2" fill="#000"/>
<circle cx="91.7" cy="356.3" r="2.2" fill="#000"/>
<circle cx="99.6" cy="356.7" r="2.2" fill="#000"/>
<circle cx="83.8" cy="359.0" r="2.2" fill="#2a4fae"/>
<circle cx="133.1" cy="354.1" r="2.2" fill="#000"/>
<circle cx="133.1" cy="360.4" r="2.2" fill="#2a4fae"/>
<circle cx="130.7" cy="363.5" r="2.2" fill="#000"/>
<circle cx="126.5" cy="366.6" r="2.2" fill="#2a4fae"/>
<circle cx="130.4" cy="367.2" r="2.2" fill="#2a4fae"/>
<circle cx="133.7" cy="367.2" r="2.2" fill="#000"/>
<circle cx="138.3" cy="367.2" r="2.2" fill="#2a4fae"/>
<circle cx="143.6" cy="367.9" r="2.2" fill="#2a4fae"/>
<circle cx="127.2" cy="368.8" r="2.2" fill="#000"/>
<circle cx="135.7" cy="368.3" r="2.2" fill="#2a4fae"/>
<circle cx="140.9" cy="367.5" r="2.2" fill="#2a4fae"/>
<circle cx="121.9" cy="366.6" r="2.2" fill="#000"/>
<text x="107.2" y="204.9" font-size="13" text-anchor="middle" font-weight="bold" fill="#000">CD4<tspan font-size="7.5" dy="-3.9">+</tspan><tspan dy="3.9"> T cells</tspan></text>
<text x="89.3" y="224.6" font-size="12.7"><tspan font-size="12" dy="-2.4" letter-spacing="0.3">***</tspan><tspan font-style="italic" dy="2.4">p</tspan> &lt; 0.0001</text>
<path d="M92.0 235.5V231.5H133.2V235.5" stroke="#111" stroke-width="1.0" fill="none" />
<text x="29.5" y="292.2" font-size="12.9" text-anchor="middle" transform="rotate(-90 29.5 292.2)">Cells / µL</text>
<line x1="198.1" y1="222.6" x2="198.1" y2="367.8" stroke="#000" stroke-width="1.5" />
<line x1="192.0" y1="367.1" x2="294.0" y2="367.1" stroke="#000" stroke-width="1.5" />
<line x1="193.1" y1="367.1" x2="198.1" y2="367.1" stroke="#000" stroke-width="1.305" />
<text x="190.7" y="371.9" font-size="13.2" text-anchor="end">0</text>
<line x1="193.1" y1="338.3" x2="198.1" y2="338.3" stroke="#000" stroke-width="1.305" />
<text x="190.7" y="343.1" font-size="13.2" text-anchor="end">20</text>
<line x1="193.1" y1="309.6" x2="198.1" y2="309.6" stroke="#000" stroke-width="1.305" />
<text x="190.7" y="314.3" font-size="13.2" text-anchor="end">40</text>
<line x1="193.1" y1="280.8" x2="198.1" y2="280.8" stroke="#000" stroke-width="1.305" />
<text x="190.7" y="285.6" font-size="13.2" text-anchor="end">60</text>
<line x1="193.1" y1="252.1" x2="198.1" y2="252.1" stroke="#000" stroke-width="1.305" />
<text x="190.7" y="256.8" font-size="13.2" text-anchor="end">80</text>
<line x1="193.1" y1="223.3" x2="198.1" y2="223.3" stroke="#000" stroke-width="1.305" />
<text x="190.7" y="228.1" font-size="13.2" text-anchor="end">100</text>
<line x1="225.6" y1="367.1" x2="225.6" y2="371.6" stroke="#000" stroke-width="1.305" />
<line x1="267.0" y1="367.1" x2="267.0" y2="371.6" stroke="#000" stroke-width="1.305" />
<text x="227.5" y="387.4" font-size="13.2" text-anchor="middle">0 wk</text>
<text x="273.8" y="387.4" font-size="13.2" text-anchor="middle">9-16 wk</text>
<rect x="212.6" y="312.9" width="25.5" height="28.9" fill="none" stroke="#000" stroke-width="1.3"/>
<line x1="212.6" y1="334.9" x2="238.1" y2="334.9" stroke="#000" stroke-width="1.3" />
<line x1="225.3" y1="246.8" x2="225.3" y2="312.9" stroke="#000" stroke-width="1.3" />
<line x1="225.3" y1="341.8" x2="225.3" y2="358.3" stroke="#000" stroke-width="1.3" />
<line x1="218.1" y1="246.8" x2="232.9" y2="246.8" stroke="#000" stroke-width="1.4040000000000001" />
<line x1="218.1" y1="358.3" x2="232.9" y2="358.3" stroke="#000" stroke-width="1.4040000000000001" />
<rect x="253.9" y="356.5" width="26.6" height="10.6" fill="none" stroke="#000" stroke-width="1.3"/>
<line x1="253.9" y1="364.0" x2="280.5" y2="364.0" stroke="#000" stroke-width="1.3" />
<line x1="267.2" y1="330.4" x2="267.2" y2="356.5" stroke="#000" stroke-width="1.3" />
<line x1="267.2" y1="367.1" x2="267.2" y2="367.1" stroke="#000" stroke-width="1.3" />
<line x1="259.9" y1="330.4" x2="274.4" y2="330.4" stroke="#000" stroke-width="1.4040000000000001" />
<line x1="259.9" y1="367.1" x2="274.4" y2="367.1" stroke="#000" stroke-width="1.4040000000000001" />
<circle cx="225.6" cy="246.8" r="2.2" fill="#2a4fae"/>
<circle cx="225.6" cy="266.0" r="2.2" fill="#2a4fae"/>
<circle cx="225.6" cy="294.3" r="2.2" fill="#2a4fae"/>
<circle cx="221.7" cy="303.5" r="2.2" fill="#2a4fae"/>
<circle cx="229.6" cy="304.1" r="2.2" fill="#2a4fae"/>
<circle cx="213.9" cy="313.8" r="2.2" fill="#000"/>
<circle cx="221.7" cy="315.2" r="2.2" fill="#000"/>
<circle cx="237.2" cy="310.9" r="2.2" fill="#000"/>
<circle cx="229.6" cy="317.9" r="2.2" fill="#2a4fae"/>
<circle cx="229.6" cy="324.1" r="2.2" fill="#000"/>
<circle cx="221.7" cy="327.4" r="2.2" fill="#2a4fae"/>
<circle cx="221.7" cy="331.7" r="2.2" fill="#2a4fae"/>
<circle cx="213.9" cy="335.7" r="2.2" fill="#2a4fae"/>
<circle cx="221.7" cy="337.2" r="2.2" fill="#000"/>
<circle cx="229.6" cy="336.2" r="2.2" fill="#000"/>
<circle cx="237.2" cy="335.7" r="2.2" fill="#000"/>
<circle cx="213.9" cy="343.1" r="2.2" fill="#2a4fae"/>
<circle cx="221.7" cy="341.8" r="2.2" fill="#2a4fae"/>
<circle cx="229.6" cy="343.8" r="2.2" fill="#000"/>
<circle cx="237.2" cy="343.1" r="2.2" fill="#000"/>
<circle cx="225.6" cy="349.3" r="2.2" fill="#000"/>
<circle cx="213.9" cy="353.7" r="2.2" fill="#2a4fae"/>
<circle cx="213.9" cy="358.5" r="2.2" fill="#2a4fae"/>
<circle cx="229.6" cy="356.3" r="2.2" fill="#000"/>
<circle cx="237.2" cy="354.0" r="2.2" fill="#000"/>
<circle cx="267.0" cy="330.4" r="2.2" fill="#2a4fae"/>
<circle cx="267.0" cy="342.2" r="2.2" fill="#000"/>
<circle cx="267.0" cy="348.8" r="2.2" fill="#000"/>
<circle cx="269.4" cy="349.3" r="2.2" fill="#000"/>
<circle cx="264.1" cy="353.3" r="2.2" fill="#2a4fae"/>
<circle cx="267.0" cy="353.8" r="2.2" fill="#000"/>
<circle cx="260.2" cy="358.9" r="2.2" fill="#2a4fae"/>
<circle cx="264.1" cy="358.9" r="2.2" fill="#2a4fae"/>
<circle cx="269.4" cy="359.8" r="2.2" fill="#2a4fae"/>
<circle cx="274.6" cy="360.2" r="2.2" fill="#2a4fae"/>
<circle cx="257.6" cy="362.8" r="2.2" fill="#2a4fae"/>
<circle cx="262.8" cy="363.5" r="2.2" fill="#000"/>
<circle cx="266.8" cy="363.5" r="2.2" fill="#000"/>
<circle cx="270.7" cy="365.5" r="2.2" fill="#2a4fae"/>
<circle cx="277.3" cy="364.8" r="2.2" fill="#2a4fae"/>
<circle cx="258.9" cy="366.1" r="2.2" fill="#000"/>
<circle cx="265.4" cy="366.4" r="2.2" fill="#000"/>
<circle cx="273.3" cy="366.4" r="2.2" fill="#2a4fae"/>
<circle cx="278.6" cy="364.2" r="2.2" fill="#2a4fae"/>
<circle cx="255.6" cy="360.9" r="2.2" fill="#000"/>
<text x="242.0" y="204.9" font-size="13" text-anchor="middle" font-weight="bold" fill="#000">CD8<tspan font-size="7.5" dy="-3.9">+</tspan><tspan dy="3.9"> T cells</tspan></text>
<text x="222.3" y="224.6" font-size="12.7"><tspan font-size="12" dy="-2.4" letter-spacing="0.3">***</tspan><tspan font-style="italic" dy="2.4">p</tspan> &lt; 0.0001</text>
<path d="M225.7 235.5V231.5H266.9V235.5" stroke="#111" stroke-width="1.0" fill="none" />
<line x1="414.4" y1="215.3" x2="414.4" y2="360.8" stroke="#000" stroke-width="1.5" />
<line x1="408.8" y1="360.1" x2="509.5" y2="360.1" stroke="#000" stroke-width="1.5" />
<line x1="409.4" y1="360.1" x2="414.4" y2="360.1" stroke="#000" stroke-width="1.305" />
<text x="407.0" y="364.9" font-size="13.2" text-anchor="end">0</text>
<line x1="409.4" y1="312.1" x2="414.4" y2="312.1" stroke="#000" stroke-width="1.305" />
<text x="407.0" y="316.8" font-size="13.2" text-anchor="end">0.2</text>
<line x1="409.4" y1="264.0" x2="414.4" y2="264.0" stroke="#000" stroke-width="1.305" />
<text x="407.0" y="268.8" font-size="13.2" text-anchor="end">0.4</text>
<line x1="409.4" y1="216.0" x2="414.4" y2="216.0" stroke="#000" stroke-width="1.305" />
<text x="407.0" y="220.8" font-size="13.2" text-anchor="end">0.6</text>
<line x1="441.4" y1="360.1" x2="441.4" y2="364.6" stroke="#000" stroke-width="1.305" />
<line x1="482.5" y1="360.1" x2="482.5" y2="364.6" stroke="#000" stroke-width="1.305" />
<text x="442.5" y="380.2" font-size="13.2" text-anchor="middle">0 wk</text>
<text x="488.9" y="380.2" font-size="13.2" text-anchor="middle">9-16 wk</text>
<rect x="428.7" y="304.5" width="25.7" height="47.7" fill="none" stroke="#000" stroke-width="1.3"/>
<line x1="428.7" y1="334.4" x2="454.4" y2="334.4" stroke="#000" stroke-width="1.3" />
<line x1="441.5" y1="239.7" x2="441.5" y2="304.5" stroke="#000" stroke-width="1.3" />
<line x1="441.5" y1="352.2" x2="441.5" y2="359.5" stroke="#000" stroke-width="1.3" />
<line x1="434.0" y1="239.7" x2="448.7" y2="239.7" stroke="#000" stroke-width="1.4040000000000001" />
<line x1="434.0" y1="359.5" x2="448.7" y2="359.5" stroke="#000" stroke-width="1.4040000000000001" />
<rect x="469.7" y="351.9" width="25.7" height="8.2" fill="none" stroke="#000" stroke-width="1.3"/>
<line x1="469.7" y1="358.5" x2="495.4" y2="358.5" stroke="#000" stroke-width="1.3" />
<line x1="482.5" y1="323.2" x2="482.5" y2="351.9" stroke="#000" stroke-width="1.3" />
<line x1="482.5" y1="360.1" x2="482.5" y2="360.1" stroke="#000" stroke-width="1.3" />
<line x1="475.4" y1="323.2" x2="489.7" y2="323.2" stroke="#000" stroke-width="1.4040000000000001" />
<line x1="475.4" y1="360.1" x2="489.7" y2="360.1" stroke="#000" stroke-width="1.4040000000000001" />
<circle cx="441.4" cy="239.7" r="2.2" fill="#2a4fae"/>
<circle cx="438.0" cy="252.7" r="2.2" fill="#2a4fae"/>
<circle cx="444.0" cy="253.4" r="2.2" fill="#2a4fae"/>
<circle cx="441.4" cy="266.1" r="2.2" fill="#000"/>
<circle cx="435.4" cy="298.1" r="2.2" fill="#000"/>
<circle cx="441.4" cy="299.4" r="2.2" fill="#000"/>
<circle cx="441.4" cy="307.7" r="2.2" fill="#000"/>
<circle cx="441.4" cy="318.1" r="2.2" fill="#000"/>
<circle cx="435.4" cy="325.1" r="2.2" fill="#2a4fae"/>
<circle cx="441.4" cy="326.8" r="2.2" fill="#000"/>
<circle cx="452.7" cy="331.5" r="2.2" fill="#2a4fae"/>
<circle cx="435.4" cy="334.4" r="2.2" fill="#2a4fae"/>
<circle cx="441.4" cy="332.8" r="2.2" fill="#2a4fae"/>
<circle cx="447.4" cy="335.8" r="2.2" fill="#000"/>
<circle cx="438.4" cy="340.4" r="2.2" fill="#000"/>
<circle cx="444.0" cy="340.4" r="2.2" fill="#2a4fae"/>
<circle cx="435.4" cy="350.2" r="2.2" fill="#2a4fae"/>
<circle cx="441.4" cy="348.8" r="2.2" fill="#2a4fae"/>
<circle cx="429.6" cy="352.8" r="2.2" fill="#2a4fae"/>
<circle cx="452.7" cy="352.6" r="2.2" fill="#000"/>
<circle cx="435.4" cy="354.8" r="2.2" fill="#000"/>
<circle cx="441.4" cy="356.6" r="2.2" fill="#000"/>
<circle cx="447.4" cy="356.2" r="2.2" fill="#2a4fae"/>
<circle cx="429.6" cy="358.5" r="2.2" fill="#000"/>
<circle cx="452.7" cy="359.8" r="2.2" fill="#2a4fae"/>
<circle cx="482.5" cy="323.2" r="2.2" fill="#000"/>
<circle cx="482.5" cy="339.2" r="2.2" fill="#000"/>
<circle cx="481.2" cy="345.9" r="2.2" fill="#2a4fae"/>
<circle cx="483.8" cy="347.5" r="2.2" fill="#000"/>
<circle cx="472.7" cy="356.2" r="2.2" fill="#2a4fae"/>
<circle cx="476.1" cy="357.5" r="2.2" fill="#000"/>
<circle cx="482.5" cy="355.5" r="2.2" fill="#2a4fae"/>
<circle cx="486.8" cy="357.5" r="2.2" fill="#2a4fae"/>
<circle cx="492.8" cy="356.2" r="2.2" fill="#2a4fae"/>
<circle cx="477.4" cy="359.8" r="2.2" fill="#000"/>
<circle cx="480.8" cy="358.9" r="2.2" fill="#2a4fae"/>
<circle cx="486.8" cy="359.3" r="2.2" fill="#000"/>
<circle cx="492.1" cy="358.2" r="2.2" fill="#2a4fae"/>
<circle cx="493.7" cy="360.2" r="2.2" fill="#000"/>
<circle cx="471.4" cy="359.5" r="2.2" fill="#2a4fae"/>
<circle cx="483.4" cy="360.2" r="2.2" fill="#2a4fae"/>
<text x="461.4" y="197.0" font-size="13" text-anchor="middle" font-weight="bold" fill="#000">Fr. I</text>
<text x="438.5" y="218.1" font-size="12.7"><tspan font-size="12" dy="-2.4" letter-spacing="0.3">***</tspan><tspan font-style="italic" dy="2.4">p</tspan> &lt; 0.0001</text>
<path d="M442.0 228.5V224.5H483.2V228.5" stroke="#111" stroke-width="1.0" fill="none" />
<text x="376.5" y="285.6" font-size="12.9" text-anchor="middle" transform="rotate(-90 376.5 285.6)">Cells / µL</text>
<line x1="541.3" y1="215.3" x2="541.3" y2="360.4" stroke="#000" stroke-width="1.5" />
<line x1="536.0" y1="359.7" x2="636.4" y2="359.7" stroke="#000" stroke-width="1.5" />
<line x1="536.3" y1="359.7" x2="541.3" y2="359.7" stroke="#000" stroke-width="1.305" />
<text x="533.9" y="364.5" font-size="13.2" text-anchor="end">0</text>
<line x1="536.3" y1="331.0" x2="541.3" y2="331.0" stroke="#000" stroke-width="1.305" />
<text x="533.9" y="335.7" font-size="13.2" text-anchor="end">2</text>
<line x1="536.3" y1="302.2" x2="541.3" y2="302.2" stroke="#000" stroke-width="1.305" />
<text x="533.9" y="307.0" font-size="13.2" text-anchor="end">4</text>
<line x1="536.3" y1="273.5" x2="541.3" y2="273.5" stroke="#000" stroke-width="1.305" />
<text x="533.9" y="278.2" font-size="13.2" text-anchor="end">6</text>
<line x1="536.3" y1="244.7" x2="541.3" y2="244.7" stroke="#000" stroke-width="1.305" />
<text x="533.9" y="249.5" font-size="13.2" text-anchor="end">8</text>
<line x1="536.3" y1="216.0" x2="541.3" y2="216.0" stroke="#000" stroke-width="1.305" />
<text x="533.9" y="220.8" font-size="13.2" text-anchor="end">10</text>
<line x1="568.6" y1="359.7" x2="568.6" y2="364.2" stroke="#000" stroke-width="1.305" />
<line x1="610.1" y1="359.7" x2="610.1" y2="364.2" stroke="#000" stroke-width="1.305" />
<text x="570.0" y="380.2" font-size="13.2" text-anchor="middle">0 wk</text>
<text x="616.6" y="380.2" font-size="13.2" text-anchor="middle">9-16 wk</text>
<rect x="555.6" y="325.2" width="25.9" height="26.2" fill="none" stroke="#000" stroke-width="1.3"/>
<line x1="555.6" y1="343.7" x2="581.5" y2="343.7" stroke="#000" stroke-width="1.3" />
<line x1="568.5" y1="246.8" x2="568.5" y2="325.2" stroke="#000" stroke-width="1.3" />
<line x1="568.5" y1="351.4" x2="568.5" y2="359.7" stroke="#000" stroke-width="1.3" />
<line x1="561.4" y1="246.8" x2="575.8" y2="246.8" stroke="#000" stroke-width="1.4040000000000001" />
<line x1="561.4" y1="359.7" x2="575.8" y2="359.7" stroke="#000" stroke-width="1.4040000000000001" />
<circle cx="568.7" cy="246.8" r="2.2" fill="#2a4fae"/>
<circle cx="568.7" cy="283.2" r="2.2" fill="#000"/>
<circle cx="568.7" cy="298.5" r="2.2" fill="#000"/>
<circle cx="563.9" cy="321.1" r="2.2" fill="#000"/>
<circle cx="568.7" cy="321.1" r="2.2" fill="#2a4fae"/>
<circle cx="573.2" cy="322.0" r="2.2" fill="#2a4fae"/>
<circle cx="566.1" cy="327.5" r="2.2" fill="#2a4fae"/>
<circle cx="570.9" cy="327.5" r="2.2" fill="#2a4fae"/>
<circle cx="570.9" cy="335.4" r="2.2" fill="#2a4fae"/>
<circle cx="575.4" cy="338.0" r="2.2" fill="#2a4fae"/>
<circle cx="570.9" cy="340.5" r="2.2" fill="#2a4fae"/>
<circle cx="575.4" cy="342.8" r="2.2" fill="#2a4fae"/>
<circle cx="561.4" cy="344.1" r="2.2" fill="#000"/>
<circle cx="566.1" cy="343.7" r="2.2" fill="#000"/>
<circle cx="570.9" cy="346.9" r="2.2" fill="#2a4fae"/>
<circle cx="557.2" cy="353.0" r="2.2" fill="#2a4fae"/>
<circle cx="561.8" cy="351.4" r="2.2" fill="#2a4fae"/>
<circle cx="566.5" cy="352.0" r="2.2" fill="#000"/>
<circle cx="570.9" cy="352.3" r="2.2" fill="#000"/>
<circle cx="575.8" cy="352.3" r="2.2" fill="#000"/>
<circle cx="580.5" cy="351.7" r="2.2" fill="#000"/>
<circle cx="566.5" cy="355.8" r="2.2" fill="#000"/>
<circle cx="575.4" cy="356.8" r="2.2" fill="#2a4fae"/>
<circle cx="561.4" cy="358.6" r="2.2" fill="#000"/>
<circle cx="569.0" cy="358.1" r="2.2" fill="#000"/>
<circle cx="599.0" cy="359.6" r="2.2" fill="#000"/>
<circle cx="602.2" cy="359.6" r="2.2" fill="#000"/>
<circle cx="607.9" cy="359.9" r="2.2" fill="#2a4fae"/>
<circle cx="611.7" cy="359.4" r="2.2" fill="#2a4fae"/>
<circle cx="615.6" cy="359.4" r="2.2" fill="#2a4fae"/>
<circle cx="618.1" cy="359.9" r="2.2" fill="#2a4fae"/>
<circle cx="621.3" cy="359.9" r="2.2" fill="#000"/>
<text x="590.9" y="197.0" font-size="13" text-anchor="middle" font-weight="bold" fill="#000">Fr. II</text>
<text x="566.0" y="216.7" font-size="12.7"><tspan font-size="12" dy="-2.4" letter-spacing="0.3">***</tspan><tspan font-style="italic" dy="2.4">p</tspan> &lt; 0.0001</text>
<path d="M569.4 227.5V223.5H610.9V227.5" stroke="#111" stroke-width="1.0" fill="none" />
<line x1="414.4" y1="423.2" x2="414.4" y2="568.5" stroke="#000" stroke-width="1.5" />
<line x1="408.8" y1="567.8" x2="509.5" y2="567.8" stroke="#000" stroke-width="1.5" />
<line x1="409.4" y1="567.8" x2="414.4" y2="567.8" stroke="#000" stroke-width="1.305" />
<text x="407.0" y="572.6" font-size="13.2" text-anchor="end">0</text>
<line x1="409.4" y1="539.0" x2="414.4" y2="539.0" stroke="#000" stroke-width="1.305" />
<text x="407.0" y="543.8" font-size="13.2" text-anchor="end">2</text>
<line x1="409.4" y1="510.2" x2="414.4" y2="510.2" stroke="#000" stroke-width="1.305" />
<text x="407.0" y="515.0" font-size="13.2" text-anchor="end">4</text>
<line x1="409.4" y1="481.5" x2="414.4" y2="481.5" stroke="#000" stroke-width="1.305" />
<text x="407.0" y="486.2" font-size="13.2" text-anchor="end">6</text>
<line x1="409.4" y1="452.7" x2="414.4" y2="452.7" stroke="#000" stroke-width="1.305" />
<text x="407.0" y="457.4" font-size="13.2" text-anchor="end">8</text>
<line x1="409.4" y1="423.9" x2="414.4" y2="423.9" stroke="#000" stroke-width="1.305" />
<text x="407.0" y="428.7" font-size="13.2" text-anchor="end">10</text>
<line x1="441.3" y1="567.8" x2="441.3" y2="572.3" stroke="#000" stroke-width="1.305" />
<line x1="482.5" y1="567.8" x2="482.5" y2="572.3" stroke="#000" stroke-width="1.305" />
<text x="442.5" y="588.0" font-size="13.2" text-anchor="middle">0 wk</text>
<text x="488.9" y="588.0" font-size="13.2" text-anchor="middle">9-16 wk</text>
<rect x="428.5" y="528.4" width="25.9" height="32.6" fill="none" stroke="#000" stroke-width="1.3"/>
<line x1="428.5" y1="541.3" x2="454.4" y2="541.3" stroke="#000" stroke-width="1.3" />
<line x1="441.4" y1="454.8" x2="441.4" y2="528.4" stroke="#000" stroke-width="1.3" />
<line x1="441.4" y1="561.0" x2="441.4" y2="567.8" stroke="#000" stroke-width="1.3" />
<line x1="434.2" y1="454.8" x2="448.6" y2="454.8" stroke="#000" stroke-width="1.4040000000000001" />
<line x1="434.2" y1="567.8" x2="448.6" y2="567.8" stroke="#000" stroke-width="1.4040000000000001" />
<rect x="472.0" y="564.7" width="20.0" height="3.1" fill="none" stroke="#000" stroke-width="1.3"/>
<line x1="472.0" y1="566.5" x2="492.0" y2="566.5" stroke="#000" stroke-width="1.3" />
<line x1="482.0" y1="564.7" x2="482.0" y2="564.7" stroke="#000" stroke-width="1.3" />
<line x1="482.0" y1="567.8" x2="482.0" y2="567.8" stroke="#000" stroke-width="1.3" />
<line x1="472.0" y1="564.7" x2="492.0" y2="564.7" stroke="#000" stroke-width="1.4040000000000001" />
<line x1="472.0" y1="567.8" x2="492.0" y2="567.8" stroke="#000" stroke-width="1.4040000000000001" />
<circle cx="441.3" cy="454.8" r="2.2" fill="#000"/>
<circle cx="441.3" cy="481.5" r="2.2" fill="#2a4fae"/>
<circle cx="441.3" cy="501.9" r="2.2" fill="#000"/>
<circle cx="441.3" cy="513.7" r="2.2" fill="#000"/>
<circle cx="439.1" cy="524.2" r="2.2" fill="#000"/>
<circle cx="443.6" cy="523.9" r="2.2" fill="#2a4fae"/>
<circle cx="429.9" cy="534.7" r="2.2" fill="#2a4fae"/>
<circle cx="434.2" cy="534.1" r="2.2" fill="#000"/>
<circle cx="439.1" cy="532.7" r="2.2" fill="#2a4fae"/>
<circle cx="443.6" cy="531.8" r="2.2" fill="#2a4fae"/>
<circle cx="439.1" cy="537.3" r="2.2" fill="#2a4fae"/>
<circle cx="452.8" cy="535.8" r="2.2" fill="#2a4fae"/>
<circle cx="441.3" cy="541.9" r="2.2" fill="#2a4fae"/>
<circle cx="439.1" cy="553.8" r="2.2" fill="#000"/>
<circle cx="443.6" cy="552.5" r="2.2" fill="#2a4fae"/>
<circle cx="448.2" cy="551.8" r="2.2" fill="#000"/>
<circle cx="429.9" cy="559.9" r="2.2" fill="#2a4fae"/>
<circle cx="439.1" cy="560.7" r="2.2" fill="#2a4fae"/>
<circle cx="452.8" cy="559.9" r="2.2" fill="#2a4fae"/>
<circle cx="429.9" cy="565.6" r="2.2" fill="#000"/>
<circle cx="434.2" cy="563.4" r="2.2" fill="#000"/>
<circle cx="439.1" cy="565.6" r="2.2" fill="#000"/>
<circle cx="443.6" cy="564.7" r="2.2" fill="#2a4fae"/>
<circle cx="448.2" cy="566.2" r="2.2" fill="#000"/>
<circle cx="452.8" cy="564.9" r="2.2" fill="#000"/>
<circle cx="470.6" cy="567.8" r="2.2" fill="#2a4fae"/>
<circle cx="475.2" cy="568.2" r="2.2" fill="#2a4fae"/>
<circle cx="479.8" cy="568.2" r="2.2" fill="#2a4fae"/>
<circle cx="471.9" cy="564.7" r="2.2" fill="#000"/>
<circle cx="488.3" cy="564.7" r="2.2" fill="#000"/>
<circle cx="484.4" cy="567.6" r="2.2" fill="#000"/>
<circle cx="490.9" cy="567.8" r="2.2" fill="#2a4fae"/>
<circle cx="494.2" cy="567.8" r="2.2" fill="#000"/>
<text x="464.8" y="405.2" font-size="13" text-anchor="middle" font-weight="bold" fill="#000">Fr. III</text>
<text x="438.5" y="426.0" font-size="12.7"><tspan font-size="12" dy="-2.4" letter-spacing="0.3">***</tspan><tspan font-style="italic" dy="2.4">p</tspan> &lt; 0.0001</text>
<path d="M442.0 436.3V432.5H483.2V436.3" stroke="#111" stroke-width="1.0" fill="none" />
<text x="376.5" y="493.0" font-size="12.9" text-anchor="middle" transform="rotate(-90 376.5 493.0)">Cells / µL</text>
<line x1="545.2" y1="423.2" x2="545.2" y2="568.5" stroke="#000" stroke-width="1.5" />
<line x1="540.5" y1="567.8" x2="640.8" y2="567.8" stroke="#000" stroke-width="1.5" />
<line x1="540.2" y1="567.8" x2="545.2" y2="567.8" stroke="#000" stroke-width="1.305" />
<text x="537.8" y="572.6" font-size="13.2" text-anchor="end">0</text>
<line x1="540.2" y1="531.8" x2="545.2" y2="531.8" stroke="#000" stroke-width="1.305" />
<text x="537.8" y="536.6" font-size="13.2" text-anchor="end">20</text>
<line x1="540.2" y1="495.8" x2="545.2" y2="495.8" stroke="#000" stroke-width="1.305" />
<text x="537.8" y="500.6" font-size="13.2" text-anchor="end">40</text>
<line x1="540.2" y1="459.9" x2="545.2" y2="459.9" stroke="#000" stroke-width="1.305" />
<text x="537.8" y="464.6" font-size="13.2" text-anchor="end">60</text>
<line x1="540.2" y1="423.9" x2="545.2" y2="423.9" stroke="#000" stroke-width="1.305" />
<text x="537.8" y="428.7" font-size="13.2" text-anchor="end">80</text>
<line x1="572.6" y1="567.8" x2="572.6" y2="572.3" stroke="#000" stroke-width="1.305" />
<line x1="613.7" y1="567.8" x2="613.7" y2="572.3" stroke="#000" stroke-width="1.305" />
<text x="573.9" y="588.0" font-size="13.2" text-anchor="middle">0 wk</text>
<text x="620.2" y="588.0" font-size="13.2" text-anchor="middle">9-16 wk</text>
<rect x="559.5" y="494.4" width="26.0" height="46.9" fill="none" stroke="#000" stroke-width="1.3"/>
<line x1="559.5" y1="527.9" x2="585.5" y2="527.9" stroke="#000" stroke-width="1.3" />
<line x1="572.5" y1="454.6" x2="572.5" y2="494.4" stroke="#000" stroke-width="1.3" />
<line x1="572.5" y1="541.3" x2="572.5" y2="553.4" stroke="#000" stroke-width="1.3" />
<line x1="565.4" y1="454.6" x2="580.0" y2="454.6" stroke="#000" stroke-width="1.4040000000000001" />
<line x1="565.4" y1="553.4" x2="580.0" y2="553.4" stroke="#000" stroke-width="1.4040000000000001" />
<rect x="600.6" y="563.0" width="26.3" height="4.8" fill="none" stroke="#000" stroke-width="1.3"/>
<line x1="600.6" y1="566.0" x2="626.9" y2="566.0" stroke="#000" stroke-width="1.3" />
<line x1="613.8" y1="554.2" x2="613.8" y2="563.0" stroke="#000" stroke-width="1.3" />
<line x1="613.8" y1="567.8" x2="613.8" y2="567.8" stroke="#000" stroke-width="1.3" />
<line x1="606.5" y1="554.2" x2="621.0" y2="554.2" stroke="#000" stroke-width="1.4040000000000001" />
<line x1="606.5" y1="567.8" x2="621.0" y2="567.8" stroke="#000" stroke-width="1.4040000000000001" />
<circle cx="572.6" cy="454.6" r="2.2" fill="#2a4fae"/>
<circle cx="572.6" cy="469.4" r="2.2" fill="#000"/>
<circle cx="572.6" cy="478.5" r="2.2" fill="#2a4fae"/>
<circle cx="566.8" cy="486.4" r="2.2" fill="#000"/>
<circle cx="578.2" cy="486.8" r="2.2" fill="#000"/>
<circle cx="572.6" cy="490.4" r="2.2" fill="#2a4fae"/>
<circle cx="572.6" cy="497.5" r="2.2" fill="#2a4fae"/>
<circle cx="572.6" cy="505.8" r="2.2" fill="#000"/>
<circle cx="566.8" cy="515.7" r="2.2" fill="#2a4fae"/>
<circle cx="572.6" cy="522.0" r="2.2" fill="#000"/>
<circle cx="578.2" cy="519.6" r="2.2" fill="#2a4fae"/>
<circle cx="572.6" cy="527.9" r="2.2" fill="#000"/>
<circle cx="578.2" cy="526.8" r="2.2" fill="#2a4fae"/>
<circle cx="566.8" cy="530.8" r="2.2" fill="#000"/>
<circle cx="578.2" cy="531.4" r="2.2" fill="#2a4fae"/>
<circle cx="561.2" cy="535.4" r="2.2" fill="#2a4fae"/>
<circle cx="566.8" cy="538.4" r="2.2" fill="#2a4fae"/>
<circle cx="572.6" cy="537.1" r="2.2" fill="#000"/>
<circle cx="578.2" cy="538.4" r="2.2" fill="#000"/>
<circle cx="561.2" cy="545.2" r="2.2" fill="#2a4fae"/>
<circle cx="572.6" cy="545.9" r="2.2" fill="#000"/>
<circle cx="584.2" cy="546.3" r="2.2" fill="#000"/>
<circle cx="566.8" cy="548.9" r="2.2" fill="#000"/>
<circle cx="578.2" cy="549.2" r="2.2" fill="#2a4fae"/>
<circle cx="572.6" cy="553.8" r="2.2" fill="#2a4fae"/>
<circle cx="614.4" cy="554.2" r="2.2" fill="#2a4fae"/>
<circle cx="613.7" cy="558.4" r="2.2" fill="#000"/>
<circle cx="612.8" cy="561.3" r="2.2" fill="#2a4fae"/>
<circle cx="614.4" cy="563.6" r="2.2" fill="#2a4fae"/>
<circle cx="602.6" cy="564.3" r="2.2" fill="#000"/>
<circle cx="607.8" cy="565.6" r="2.2" fill="#2a4fae"/>
<circle cx="611.8" cy="566.9" r="2.2" fill="#2a4fae"/>
<circle cx="617.0" cy="566.2" r="2.2" fill="#2a4fae"/>
<circle cx="623.6" cy="564.9" r="2.2" fill="#000"/>
<circle cx="620.9" cy="566.9" r="2.2" fill="#2a4fae"/>
<circle cx="605.8" cy="567.6" r="2.2" fill="#000"/>
<circle cx="623.6" cy="566.9" r="2.2" fill="#000"/>
<text x="597.0" y="405.2" font-size="13" text-anchor="middle" font-weight="bold" fill="#000">Fr. IV</text>
<text x="569.9" y="426.0" font-size="12.7"><tspan font-size="12" dy="-2.4" letter-spacing="0.3">***</tspan><tspan font-style="italic" dy="2.4">p</tspan> &lt; 0.0001</text>
<path d="M573.3 436.3V432.5H614.3V436.3" stroke="#111" stroke-width="1.0" fill="none" />
<line x1="414.4" y1="630.6" x2="414.4" y2="776.1" stroke="#000" stroke-width="1.5" />
<line x1="408.8" y1="775.4" x2="509.5" y2="775.4" stroke="#000" stroke-width="1.5" />
<line x1="409.4" y1="775.4" x2="414.4" y2="775.4" stroke="#000" stroke-width="1.305" />
<text x="407.0" y="780.2" font-size="13.2" text-anchor="end">0</text>
<line x1="409.4" y1="746.6" x2="414.4" y2="746.6" stroke="#000" stroke-width="1.305" />
<text x="407.0" y="751.3" font-size="13.2" text-anchor="end">10</text>
<line x1="409.4" y1="717.8" x2="414.4" y2="717.8" stroke="#000" stroke-width="1.305" />
<text x="407.0" y="722.5" font-size="13.2" text-anchor="end">20</text>
<line x1="409.4" y1="688.9" x2="414.4" y2="688.9" stroke="#000" stroke-width="1.305" />
<text x="407.0" y="693.7" font-size="13.2" text-anchor="end">30</text>
<line x1="409.4" y1="660.1" x2="414.4" y2="660.1" stroke="#000" stroke-width="1.305" />
<text x="407.0" y="664.9" font-size="13.2" text-anchor="end">40</text>
<line x1="409.4" y1="631.3" x2="414.4" y2="631.3" stroke="#000" stroke-width="1.305" />
<text x="407.0" y="636.1" font-size="13.2" text-anchor="end">50</text>
<line x1="441.3" y1="775.4" x2="441.3" y2="779.9" stroke="#000" stroke-width="1.305" />
<line x1="482.4" y1="775.4" x2="482.4" y2="779.9" stroke="#000" stroke-width="1.305" />
<text x="442.5" y="795.2" font-size="13.2" text-anchor="middle">0 wk</text>
<text x="488.9" y="795.2" font-size="13.2" text-anchor="middle">9-16 wk</text>
<rect x="428.5" y="732.8" width="25.9" height="32.6" fill="none" stroke="#000" stroke-width="1.3"/>
<line x1="428.5" y1="753.1" x2="454.4" y2="753.1" stroke="#000" stroke-width="1.3" />
<line x1="441.4" y1="657.9" x2="441.4" y2="732.8" stroke="#000" stroke-width="1.3" />
<line x1="441.4" y1="765.4" x2="441.4" y2="773.5" stroke="#000" stroke-width="1.3" />
<line x1="434.2" y1="657.9" x2="448.6" y2="657.9" stroke="#000" stroke-width="1.4040000000000001" />
<line x1="434.2" y1="773.5" x2="448.6" y2="773.5" stroke="#000" stroke-width="1.4040000000000001" />
<rect x="469.3" y="768.0" width="26.5" height="7.4" fill="none" stroke="#000" stroke-width="1.3"/>
<line x1="469.3" y1="772.0" x2="495.8" y2="772.0" stroke="#000" stroke-width="1.3" />
<line x1="482.6" y1="748.8" x2="482.6" y2="768.0" stroke="#000" stroke-width="1.3" />
<line x1="482.6" y1="775.4" x2="482.6" y2="775.4" stroke="#000" stroke-width="1.3" />
<line x1="475.2" y1="748.8" x2="489.9" y2="748.8" stroke="#000" stroke-width="1.4040000000000001" />
<line x1="475.2" y1="775.4" x2="489.9" y2="775.4" stroke="#000" stroke-width="1.4040000000000001" />
<circle cx="441.3" cy="657.9" r="2.2" fill="#000"/>
<circle cx="441.3" cy="689.0" r="2.2" fill="#2a4fae"/>
<circle cx="443.6" cy="701.5" r="2.2" fill="#000"/>
<circle cx="439.1" cy="704.9" r="2.2" fill="#2a4fae"/>
<circle cx="443.6" cy="706.8" r="2.2" fill="#000"/>
<circle cx="439.1" cy="730.8" r="2.2" fill="#000"/>
<circle cx="443.6" cy="733.4" r="2.2" fill="#000"/>
<circle cx="439.1" cy="739.3" r="2.2" fill="#000"/>
<circle cx="448.2" cy="738.3" r="2.2" fill="#2a4fae"/>
<circle cx="443.6" cy="742.0" r="2.2" fill="#2a4fae"/>
<circle cx="448.2" cy="748.5" r="2.2" fill="#000"/>
<circle cx="434.2" cy="752.7" r="2.2" fill="#2a4fae"/>
<circle cx="439.1" cy="751.8" r="2.2" fill="#000"/>
<circle cx="443.6" cy="755.1" r="2.2" fill="#2a4fae"/>
<circle cx="448.2" cy="754.5" r="2.2" fill="#2a4fae"/>
<circle cx="448.2" cy="759.1" r="2.2" fill="#2a4fae"/>
<circle cx="434.2" cy="762.3" r="2.2" fill="#2a4fae"/>
<circle cx="439.1" cy="761.9" r="2.2" fill="#000"/>
<circle cx="443.6" cy="762.7" r="2.2" fill="#000"/>
<circle cx="434.2" cy="769.6" r="2.2" fill="#2a4fae"/>
<circle cx="443.6" cy="769.8" r="2.2" fill="#2a4fae"/>
<circle cx="429.9" cy="773.2" r="2.2" fill="#2a4fae"/>
<circle cx="439.1" cy="773.2" r="2.2" fill="#000"/>
<circle cx="448.2" cy="773.2" r="2.2" fill="#2a4fae"/>
<circle cx="452.8" cy="772.5" r="2.2" fill="#000"/>
<circle cx="482.4" cy="748.8" r="2.2" fill="#000"/>
<circle cx="482.4" cy="753.5" r="2.2" fill="#000"/>
<circle cx="482.4" cy="756.7" r="2.2" fill="#000"/>
<circle cx="482.4" cy="760.4" r="2.2" fill="#2a4fae"/>
<circle cx="482.4" cy="764.3" r="2.2" fill="#000"/>
<circle cx="481.5" cy="766.3" r="2.2" fill="#000"/>
<circle cx="484.4" cy="768.9" r="2.2" fill="#2a4fae"/>
<circle cx="479.1" cy="768.9" r="2.2" fill="#2a4fae"/>
<circle cx="471.9" cy="771.5" r="2.2" fill="#2a4fae"/>
<circle cx="473.9" cy="773.5" r="2.2" fill="#2a4fae"/>
<circle cx="477.8" cy="772.8" r="2.2" fill="#000"/>
<circle cx="477.8" cy="775.5" r="2.2" fill="#000"/>
<circle cx="483.1" cy="773.5" r="2.2" fill="#2a4fae"/>
<circle cx="485.7" cy="772.8" r="2.2" fill="#2a4fae"/>
<circle cx="487.0" cy="773.5" r="2.2" fill="#000"/>
<circle cx="490.9" cy="774.2" r="2.2" fill="#2a4fae"/>
<circle cx="492.9" cy="772.8" r="2.2" fill="#2a4fae"/>
<circle cx="471.2" cy="774.2" r="2.2" fill="#2a4fae"/>
<circle cx="483.1" cy="775.5" r="2.2" fill="#2a4fae"/>
<text x="463.5" y="612.6" font-size="13" text-anchor="middle" font-weight="bold" fill="#000">Fr. V</text>
<text x="438.5" y="633.3" font-size="12.7"><tspan font-size="12" dy="-2.4" letter-spacing="0.3">***</tspan><tspan font-style="italic" dy="2.4">p</tspan> &lt; 0.0001</text>
<path d="M442.0 643.7V639.5H483.2V643.7" stroke="#111" stroke-width="1.0" fill="none" />
<text x="376.5" y="700.4" font-size="12.9" text-anchor="middle" transform="rotate(-90 376.5 700.4)">Cells / µL</text>
<line x1="61.7" y1="871.3" x2="61.7" y2="986.9" stroke="#000" stroke-width="1.3" />
<line x1="56.5" y1="986.2" x2="137.2" y2="986.2" stroke="#000" stroke-width="1.3" />
<line x1="56.7" y1="986.2" x2="61.7" y2="986.2" stroke="#000" stroke-width="1.131" />
<text x="56.1" y="990.6" font-size="12.2" text-anchor="end">0</text>
<line x1="56.7" y1="957.7" x2="61.7" y2="957.7" stroke="#000" stroke-width="1.131" />
<text x="56.1" y="962.0" font-size="12.2" text-anchor="end">5</text>
<line x1="56.7" y1="929.1" x2="61.7" y2="929.1" stroke="#000" stroke-width="1.131" />
<text x="56.1" y="933.5" font-size="12.2" text-anchor="end">10</text>
<line x1="56.7" y1="900.5" x2="61.7" y2="900.5" stroke="#000" stroke-width="1.131" />
<text x="56.1" y="904.9" font-size="12.2" text-anchor="end">15</text>
<line x1="56.7" y1="872.0" x2="61.7" y2="872.0" stroke="#000" stroke-width="1.131" />
<text x="56.1" y="876.4" font-size="12.2" text-anchor="end">20</text>
<line x1="82.6" y1="986.2" x2="82.6" y2="990.7" stroke="#000" stroke-width="1.131" />
<line x1="115.2" y1="986.2" x2="115.2" y2="990.7" stroke="#000" stroke-width="1.131" />
<text x="81.3" y="1003.3" font-size="13.2" text-anchor="middle">0 wk</text>
<text x="128.0" y="1003.3" font-size="13.2" text-anchor="middle">9-16 wk</text>
<rect x="72.4" y="973.4" width="21.3" height="9.1" fill="none" stroke="#222" stroke-width="1.1"/>
<line x1="72.4" y1="981.0" x2="93.7" y2="981.0" stroke="#222" stroke-width="1.1" />
<line x1="83.1" y1="902.0" x2="83.1" y2="973.4" stroke="#222" stroke-width="1.1" />
<line x1="83.1" y1="982.5" x2="83.1" y2="986.2" stroke="#222" stroke-width="1.1" />
<line x1="77.0" y1="902.0" x2="88.5" y2="902.0" stroke="#222" stroke-width="1.1880000000000002" />
<line x1="77.0" y1="986.2" x2="88.5" y2="986.2" stroke="#222" stroke-width="1.1880000000000002" />
<rect x="112.8" y="982.7" width="7.9" height="3.5" fill="none" stroke="#222" stroke-width="1.1"/>
<line x1="112.8" y1="985.0" x2="120.7" y2="985.0" stroke="#222" stroke-width="1.1" />
<line x1="116.8" y1="982.7" x2="116.8" y2="982.7" stroke="#222" stroke-width="1.1" />
<line x1="116.8" y1="986.2" x2="116.8" y2="986.2" stroke="#222" stroke-width="1.1" />
<line x1="112.8" y1="982.7" x2="120.7" y2="982.7" stroke="#222" stroke-width="1.1880000000000002" />
<line x1="112.8" y1="986.2" x2="120.7" y2="986.2" stroke="#222" stroke-width="1.1880000000000002" />
<circle cx="82.8" cy="902.0" r="2.2" fill="#2a4fae"/>
<circle cx="82.8" cy="921.5" r="2.2" fill="#2a4fae"/>
<circle cx="82.8" cy="966.1" r="2.2" fill="#2a4fae"/>
<circle cx="82.8" cy="974.9" r="2.2" fill="#000"/>
<circle cx="89.3" cy="979.2" r="2.2" fill="#2a4fae"/>
<circle cx="75.9" cy="981.4" r="2.2" fill="#000"/>
<circle cx="80.3" cy="982.5" r="2.2" fill="#2a4fae"/>
<circle cx="84.7" cy="983.1" r="2.2" fill="#2a4fae"/>
<circle cx="78.1" cy="983.6" r="2.2" fill="#2a4fae"/>
<circle cx="88.5" cy="984.4" r="2.2" fill="#000"/>
<circle cx="74.3" cy="985.5" r="2.2" fill="#2a4fae"/>
<circle cx="82.8" cy="986.4" r="2.2" fill="#000"/>
<circle cx="91.8" cy="986.1" r="2.2" fill="#2a4fae"/>
<circle cx="87.4" cy="986.1" r="2.2" fill="#000"/>
<circle cx="108.2" cy="982.5" r="2.2" fill="#2a4fae"/>
<circle cx="111.0" cy="984.4" r="2.2" fill="#2a4fae"/>
<circle cx="106.6" cy="986.1" r="2.2" fill="#000"/>
<circle cx="113.2" cy="986.1" r="2.2" fill="#2a4fae"/>
<circle cx="117.6" cy="986.1" r="2.2" fill="#2a4fae"/>
<circle cx="120.8" cy="986.1" r="2.2" fill="#2a4fae"/>
<circle cx="124.1" cy="985.8" r="2.2" fill="#2a4fae"/>
<text x="99.3" y="831.5" font-size="13" text-anchor="middle" font-weight="bold" fill="#000">Central memory</text>
<text x="76.2" y="864.3" font-size="12.7"><tspan font-size="12" dy="-2.4" letter-spacing="0.3">**</tspan><tspan font-style="italic" dy="2.4">p</tspan> = 0.0005</text>
<path d="M83.6 876.4V872.5H120.3V876.4" stroke="#111" stroke-width="1.0" fill="none" />
<text x="28.7" y="929.3" font-size="12.9" text-anchor="middle" transform="rotate(-90 28.7 929.3)">Cells / µL</text>
<text x="98.9" y="848.6" font-size="13" text-anchor="middle" font-weight="bold" fill="#000">(CD8<tspan font-size="7.5" dy="-3.9">+</tspan><tspan dy="3.9">CCR7</tspan><tspan font-size="7.5" dy="-3.9">+</tspan><tspan dy="3.9">CD45RA</tspan><tspan font-size="7.5" dy="-3.9">-</tspan><tspan dy="3.9">)</tspan></text>
<line x1="208.4" y1="870.2" x2="208.4" y2="986.2" stroke="#000" stroke-width="1.3" />
<line x1="203.1" y1="985.5" x2="284.5" y2="985.5" stroke="#000" stroke-width="1.3" />
<line x1="203.4" y1="985.5" x2="208.4" y2="985.5" stroke="#000" stroke-width="1.131" />
<text x="202.8" y="989.9" font-size="12.2" text-anchor="end">0</text>
<line x1="203.4" y1="956.9" x2="208.4" y2="956.9" stroke="#000" stroke-width="1.131" />
<text x="202.8" y="961.2" font-size="12.2" text-anchor="end">5</text>
<line x1="203.4" y1="928.2" x2="208.4" y2="928.2" stroke="#000" stroke-width="1.131" />
<text x="202.8" y="932.6" font-size="12.2" text-anchor="end">10</text>
<line x1="203.4" y1="899.5" x2="208.4" y2="899.5" stroke="#000" stroke-width="1.131" />
<text x="202.8" y="903.9" font-size="12.2" text-anchor="end">15</text>
<line x1="203.4" y1="870.9" x2="208.4" y2="870.9" stroke="#000" stroke-width="1.131" />
<text x="202.8" y="875.3" font-size="12.2" text-anchor="end">20</text>
<line x1="230.4" y1="985.5" x2="230.4" y2="990.0" stroke="#000" stroke-width="1.131" />
<line x1="263.1" y1="985.5" x2="263.1" y2="990.0" stroke="#000" stroke-width="1.131" />
<text x="225.0" y="1003.3" font-size="13.2" text-anchor="middle">0 wk</text>
<text x="270.8" y="1003.3" font-size="13.2" text-anchor="middle">9-16 wk</text>
<rect x="220.5" y="973.2" width="20.2" height="10.4" fill="none" stroke="#222" stroke-width="1.1"/>
<line x1="220.5" y1="979.2" x2="240.7" y2="979.2" stroke="#222" stroke-width="1.1" />
<line x1="230.6" y1="899.0" x2="230.6" y2="973.2" stroke="#222" stroke-width="1.1" />
<line x1="230.6" y1="983.6" x2="230.6" y2="985.5" stroke="#222" stroke-width="1.1" />
<line x1="224.9" y1="899.0" x2="236.3" y2="899.0" stroke="#222" stroke-width="1.1880000000000002" />
<line x1="224.9" y1="985.5" x2="236.3" y2="985.5" stroke="#222" stroke-width="1.1880000000000002" />
<rect x="256.0" y="980.9" width="14.0" height="4.6" fill="none" stroke="#222" stroke-width="1.1"/>
<line x1="256.0" y1="984.0" x2="270.0" y2="984.0" stroke="#222" stroke-width="1.1" />
<line x1="263.0" y1="980.9" x2="263.0" y2="980.9" stroke="#222" stroke-width="1.1" />
<line x1="263.0" y1="985.5" x2="263.0" y2="985.5" stroke="#222" stroke-width="1.1" />
<line x1="256.0" y1="980.9" x2="270.0" y2="980.9" stroke="#222" stroke-width="1.1880000000000002" />
<line x1="256.0" y1="985.5" x2="270.0" y2="985.5" stroke="#222" stroke-width="1.1880000000000002" />
<circle cx="230.4" cy="899.0" r="2.2" fill="#2a4fae"/>
<circle cx="230.4" cy="955.7" r="2.2" fill="#2a4fae"/>
<circle cx="230.4" cy="968.3" r="2.2" fill="#2a4fae"/>
<circle cx="225.1" cy="973.8" r="2.2" fill="#2a4fae"/>
<circle cx="232.3" cy="976.0" r="2.2" fill="#2a4fae"/>
<circle cx="221.9" cy="977.6" r="2.2" fill="#000"/>
<circle cx="238.3" cy="977.0" r="2.2" fill="#000"/>
<circle cx="228.4" cy="979.8" r="2.2" fill="#2a4fae"/>
<circle cx="232.3" cy="980.9" r="2.2" fill="#2a4fae"/>
<circle cx="222.9" cy="980.9" r="2.2" fill="#000"/>
<circle cx="221.9" cy="984.2" r="2.2" fill="#2a4fae"/>
<circle cx="228.4" cy="983.9" r="2.2" fill="#000"/>
<circle cx="235.5" cy="984.4" r="2.2" fill="#2a4fae"/>
<circle cx="239.4" cy="982.0" r="2.2" fill="#000"/>
<circle cx="226.2" cy="983.1" r="2.2" fill="#000"/>
<circle cx="254.7" cy="984.4" r="2.2" fill="#000"/>
<circle cx="258.0" cy="983.9" r="2.2" fill="#2a4fae"/>
<circle cx="263.5" cy="980.3" r="2.2" fill="#2a4fae"/>
<circle cx="261.3" cy="985.3" r="2.2" fill="#2a4fae"/>
<circle cx="266.7" cy="984.4" r="2.2" fill="#2a4fae"/>
<circle cx="271.7" cy="984.7" r="2.2" fill="#2a4fae"/>
<circle cx="271.1" cy="985.3" r="2.2" fill="#000"/>
<text x="251.7" y="831.0" font-size="13" text-anchor="middle" font-weight="bold" fill="#000">Naive</text>
<text x="217.5" y="864.3" font-size="12.7"><tspan font-size="12" dy="-2.4" letter-spacing="0.3">***</tspan><tspan font-style="italic" dy="2.4">p</tspan> &lt; 0.0001</text>
<path d="M230.7 876.4V872.5H267.5V876.4" stroke="#111" stroke-width="1.0" fill="none" />
<text x="251.3" y="848.0" font-size="13" text-anchor="middle" font-weight="bold" fill="#000">(CD8<tspan font-size="7.5" dy="-3.9">+</tspan><tspan dy="3.9">CCR7</tspan><tspan font-size="7.5" dy="-3.9">+</tspan><tspan dy="3.9">CD45RA</tspan><tspan font-size="7.5" dy="-3.9">+</tspan><tspan dy="3.9">)</tspan></text>
<line x1="356.3" y1="870.8" x2="356.3" y2="986.7" stroke="#000" stroke-width="1.3" />
<line x1="351.0" y1="986.0" x2="432.0" y2="986.0" stroke="#000" stroke-width="1.3" />
<line x1="351.3" y1="986.0" x2="356.3" y2="986.0" stroke="#000" stroke-width="1.131" />
<text x="350.7" y="990.4" font-size="12.2" text-anchor="end">0</text>
<line x1="351.3" y1="963.1" x2="356.3" y2="963.1" stroke="#000" stroke-width="1.131" />
<text x="355.7" y="967.5" font-size="12.2" text-anchor="end">10</text>
<line x1="351.3" y1="940.2" x2="356.3" y2="940.2" stroke="#000" stroke-width="1.131" />
<text x="350.7" y="944.6" font-size="12.2" text-anchor="end">20</text>
<line x1="351.3" y1="917.3" x2="356.3" y2="917.3" stroke="#000" stroke-width="1.131" />
<text x="350.7" y="921.7" font-size="12.2" text-anchor="end">30</text>
<line x1="351.3" y1="894.4" x2="356.3" y2="894.4" stroke="#000" stroke-width="1.131" />
<text x="350.7" y="898.8" font-size="12.2" text-anchor="end">40</text>
<line x1="351.3" y1="871.5" x2="356.3" y2="871.5" stroke="#000" stroke-width="1.131" />
<text x="350.7" y="875.9" font-size="12.2" text-anchor="end">50</text>
<line x1="377.7" y1="986.0" x2="377.7" y2="990.5" stroke="#000" stroke-width="1.131" />
<line x1="411.0" y1="986.0" x2="411.0" y2="990.5" stroke="#000" stroke-width="1.131" />
<text x="381.0" y="1003.3" font-size="13.2" text-anchor="middle">0 wk</text>
<text x="427.3" y="1003.3" font-size="13.2" text-anchor="middle">9-16 wk</text>
<rect x="367.4" y="954.2" width="21.3" height="22.3" fill="none" stroke="#222" stroke-width="1.1"/>
<line x1="367.4" y1="974.0" x2="388.7" y2="974.0" stroke="#222" stroke-width="1.1" />
<line x1="378.0" y1="888.8" x2="378.0" y2="954.2" stroke="#222" stroke-width="1.1" />
<line x1="378.0" y1="976.5" x2="378.0" y2="981.8" stroke="#222" stroke-width="1.1" />
<line x1="372.0" y1="888.8" x2="383.5" y2="888.8" stroke="#222" stroke-width="1.1880000000000002" />
<line x1="372.0" y1="981.8" x2="383.5" y2="981.8" stroke="#222" stroke-width="1.1880000000000002" />
<rect x="400.3" y="977.1" width="20.7" height="8.9" fill="none" stroke="#222" stroke-width="1.1"/>
<line x1="400.3" y1="986.0" x2="421.0" y2="986.0" stroke="#222" stroke-width="1.1" />
<line x1="410.6" y1="952.5" x2="410.6" y2="977.1" stroke="#222" stroke-width="1.1" />
<line x1="410.6" y1="986.0" x2="410.6" y2="986.0" stroke="#222" stroke-width="1.1" />
<line x1="405.1" y1="952.5" x2="416.7" y2="952.5" stroke="#222" stroke-width="1.1880000000000002" />
<line x1="405.1" y1="986.0" x2="416.7" y2="986.0" stroke="#222" stroke-width="1.1880000000000002" />
<circle cx="377.8" cy="888.8" r="2.2" fill="#2a4fae"/>
<circle cx="377.8" cy="944.4" r="2.2" fill="#000"/>
<circle cx="382.2" cy="952.0" r="2.2" fill="#2a4fae"/>
<circle cx="377.8" cy="954.7" r="2.2" fill="#2a4fae"/>
<circle cx="373.5" cy="956.9" r="2.2" fill="#2a4fae"/>
<circle cx="377.8" cy="962.3" r="2.2" fill="#000"/>
<circle cx="377.8" cy="971.4" r="2.2" fill="#2a4fae"/>
<circle cx="369.3" cy="976.4" r="2.2" fill="#000"/>
<circle cx="373.5" cy="977.2" r="2.2" fill="#2a4fae"/>
<circle cx="382.2" cy="977.2" r="2.2" fill="#2a4fae"/>
<circle cx="386.3" cy="976.9" r="2.2" fill="#2a4fae"/>
<circle cx="377.8" cy="979.9" r="2.2" fill="#000"/>
<circle cx="369.3" cy="981.8" r="2.2" fill="#000"/>
<circle cx="386.3" cy="981.8" r="2.2" fill="#2a4fae"/>
<circle cx="410.6" cy="952.5" r="2.2" fill="#2a4fae"/>
<circle cx="410.6" cy="971.1" r="2.2" fill="#000"/>
<circle cx="409.3" cy="976.4" r="2.2" fill="#000"/>
<circle cx="411.5" cy="976.6" r="2.2" fill="#2a4fae"/>
<circle cx="402.2" cy="984.6" r="2.2" fill="#2a4fae"/>
<circle cx="406.0" cy="984.6" r="2.2" fill="#000"/>
<circle cx="409.3" cy="984.0" r="2.2" fill="#2a4fae"/>
<circle cx="411.5" cy="984.0" r="2.2" fill="#2a4fae"/>
<circle cx="414.2" cy="984.9" r="2.2" fill="#000"/>
<circle cx="416.9" cy="984.9" r="2.2" fill="#2a4fae"/>
<circle cx="419.1" cy="984.0" r="2.2" fill="#2a4fae"/>
<text x="400.9" y="831.5" font-size="13" text-anchor="middle" font-weight="bold" fill="#000">Effector memory</text>
<text x="369.4" y="864.3" font-size="12.7"><tspan font-size="12" dy="-2.4" letter-spacing="0.3">**</tspan><tspan font-style="italic" dy="2.4">p</tspan> = 0.0021</text>
<path d="M378.6 876.4V872.5H414.6V876.4" stroke="#111" stroke-width="1.0" fill="none" />
<text x="400.9" y="847.2" font-size="13" text-anchor="middle" font-weight="bold" fill="#000">(CD8<tspan font-size="7.5" dy="-3.9">+</tspan><tspan dy="3.9">CCR7</tspan><tspan font-size="7.5" dy="-3.9">-</tspan><tspan dy="3.9">CD45RA</tspan><tspan font-size="7.5" dy="-3.9">-</tspan><tspan dy="3.9">)</tspan></text>
<line x1="505.6" y1="871.3" x2="505.6" y2="986.5" stroke="#000" stroke-width="1.3" />
<line x1="500.5" y1="985.8" x2="581.2" y2="985.8" stroke="#000" stroke-width="1.3" />
<line x1="500.6" y1="985.8" x2="505.6" y2="985.8" stroke="#000" stroke-width="1.131" />
<text x="500.0" y="990.2" font-size="12.2" text-anchor="end">0</text>
<line x1="500.6" y1="947.9" x2="505.6" y2="947.9" stroke="#000" stroke-width="1.131" />
<text x="500.0" y="952.3" font-size="12.2" text-anchor="end">10</text>
<line x1="500.6" y1="909.9" x2="505.6" y2="909.9" stroke="#000" stroke-width="1.131" />
<text x="500.0" y="914.3" font-size="12.2" text-anchor="end">20</text>
<line x1="500.6" y1="872.0" x2="505.6" y2="872.0" stroke="#000" stroke-width="1.131" />
<text x="500.0" y="876.4" font-size="12.2" text-anchor="end">30</text>
<line x1="526.5" y1="985.8" x2="526.5" y2="990.3" stroke="#000" stroke-width="1.131" />
<line x1="559.4" y1="985.8" x2="559.4" y2="990.3" stroke="#000" stroke-width="1.131" />
<text x="526.0" y="1003.3" font-size="13.2" text-anchor="middle">0 wk</text>
<text x="572.7" y="1003.3" font-size="13.2" text-anchor="middle">9-16 wk</text>
<rect x="516.4" y="919.3" width="20.6" height="37.8" fill="none" stroke="#222" stroke-width="1.1"/>
<line x1="516.4" y1="948.9" x2="537.0" y2="948.9" stroke="#222" stroke-width="1.1" />
<line x1="526.7" y1="881.0" x2="526.7" y2="919.3" stroke="#222" stroke-width="1.1" />
<line x1="526.7" y1="957.1" x2="526.7" y2="976.2" stroke="#222" stroke-width="1.1" />
<line x1="521.1" y1="881.0" x2="532.5" y2="881.0" stroke="#222" stroke-width="1.1880000000000002" />
<line x1="521.1" y1="976.2" x2="532.5" y2="976.2" stroke="#222" stroke-width="1.1880000000000002" />
<rect x="549.5" y="965.7" width="20.3" height="20.1" fill="none" stroke="#222" stroke-width="1.1"/>
<line x1="549.5" y1="975.2" x2="569.8" y2="975.2" stroke="#222" stroke-width="1.1" />
<line x1="559.6" y1="937.6" x2="559.6" y2="965.7" stroke="#222" stroke-width="1.1" />
<line x1="559.6" y1="985.8" x2="559.6" y2="985.8" stroke="#222" stroke-width="1.1" />
<line x1="553.4" y1="937.6" x2="565.4" y2="937.6" stroke="#222" stroke-width="1.1880000000000002" />
<line x1="553.4" y1="985.8" x2="565.4" y2="985.8" stroke="#222" stroke-width="1.1880000000000002" />
<circle cx="526.5" cy="881.0" r="2.2" fill="#2a4fae"/>
<circle cx="522.3" cy="908.5" r="2.2" fill="#2a4fae"/>
<circle cx="531.1" cy="908.5" r="2.2" fill="#000"/>
<circle cx="526.5" cy="922.6" r="2.2" fill="#000"/>
<circle cx="522.3" cy="941.7" r="2.2" fill="#2a4fae"/>
<circle cx="531.1" cy="940.6" r="2.2" fill="#2a4fae"/>
<circle cx="518.2" cy="948.0" r="2.2" fill="#000"/>
<circle cx="535.5" cy="949.5" r="2.2" fill="#2a4fae"/>
<circle cx="526.5" cy="953.9" r="2.2" fill="#2a4fae"/>
<circle cx="518.2" cy="955.9" r="2.2" fill="#2a4fae"/>
<circle cx="535.5" cy="957.1" r="2.2" fill="#000"/>
<circle cx="526.5" cy="959.1" r="2.2" fill="#2a4fae"/>
<circle cx="531.1" cy="972.6" r="2.2" fill="#000"/>
<circle cx="522.3" cy="976.7" r="2.2" fill="#2a4fae"/>
<circle cx="559.4" cy="937.6" r="2.2" fill="#000"/>
<circle cx="559.4" cy="947.1" r="2.2" fill="#2a4fae"/>
<circle cx="554.0" cy="965.4" r="2.2" fill="#2a4fae"/>
<circle cx="557.6" cy="966.6" r="2.2" fill="#2a4fae"/>
<circle cx="561.2" cy="966.6" r="2.2" fill="#000"/>
<circle cx="564.6" cy="965.1" r="2.2" fill="#000"/>
<circle cx="561.2" cy="973.4" r="2.2" fill="#2a4fae"/>
<circle cx="557.6" cy="976.4" r="2.2" fill="#000"/>
<circle cx="554.0" cy="981.0" r="2.2" fill="#2a4fae"/>
<circle cx="561.2" cy="981.8" r="2.2" fill="#2a4fae"/>
<circle cx="567.8" cy="982.6" r="2.2" fill="#2a4fae"/>
<circle cx="551.0" cy="984.6" r="2.2" fill="#2a4fae"/>
<circle cx="557.6" cy="984.6" r="2.2" fill="#2a4fae"/>
<circle cx="564.6" cy="984.6" r="2.2" fill="#000"/>
<text x="550.2" y="831.5" font-size="13" text-anchor="middle" font-weight="bold" fill="#000">TEMRA</text>
<text x="519.5" y="864.3" font-size="12.7"><tspan font-size="12" dy="-2.4" letter-spacing="0.3">**</tspan><tspan font-style="italic" dy="2.4">p</tspan> = 0.0006</text>
<path d="M526.5 876.8V872.5H563.6V876.8" stroke="#111" stroke-width="1.0" fill="none" />
<text x="550.0" y="847.2" font-size="13" text-anchor="middle" font-weight="bold" fill="#000">(CD8<tspan font-size="7.5" dy="-3.9">+</tspan><tspan dy="3.9">CCR7</tspan><tspan font-size="7.5" dy="-3.9">-</tspan><tspan dy="3.9">CD45RA</tspan><tspan font-size="7.5" dy="-3.9">+</tspan><tspan dy="3.9">)</tspan></text>
<line x1="53.3" y1="429.5" x2="53.3" y2="558.3" stroke="#000" stroke-width="1.5" />
<line x1="53.3" y1="557.6" x2="308.5" y2="557.6" stroke="#000" stroke-width="1.5" />
<line x1="48.3" y1="557.4" x2="53.3" y2="557.4" stroke="#000" stroke-width="1.3" />
<text x="45.6" y="562.1" font-size="13.2" text-anchor="end">0</text>
<line x1="48.3" y1="525.5" x2="53.3" y2="525.5" stroke="#000" stroke-width="1.3" />
<text x="45.6" y="530.2" font-size="13.2" text-anchor="end">2</text>
<line x1="48.3" y1="493.7" x2="53.3" y2="493.7" stroke="#000" stroke-width="1.3" />
<text x="45.6" y="498.4" font-size="13.2" text-anchor="end">4</text>
<line x1="48.3" y1="461.8" x2="53.3" y2="461.8" stroke="#000" stroke-width="1.3" />
<text x="45.6" y="466.5" font-size="13.2" text-anchor="end">6</text>
<line x1="48.3" y1="430.0" x2="53.3" y2="430.0" stroke="#000" stroke-width="1.3" />
<text x="45.6" y="434.7" font-size="13.2" text-anchor="end">8</text>
<line x1="62.5" y1="557.6" x2="62.5" y2="562.0" stroke="#000" stroke-width="1.2" />
<text x="62.5" y="574.6" font-size="13.2" text-anchor="middle">0</text>
<line x1="80.7" y1="557.6" x2="80.7" y2="562.0" stroke="#000" stroke-width="1.2" />
<text x="80.7" y="574.6" font-size="13.2" text-anchor="middle">9</text>
<line x1="99.0" y1="557.6" x2="99.0" y2="562.0" stroke="#000" stroke-width="1.2" />
<text x="99.0" y="574.6" font-size="13.2" text-anchor="middle">16</text>
<line x1="117.2" y1="557.6" x2="117.2" y2="562.0" stroke="#000" stroke-width="1.2" />
<text x="117.2" y="574.6" font-size="13.2" text-anchor="middle">20</text>
<line x1="135.4" y1="557.6" x2="135.4" y2="562.0" stroke="#000" stroke-width="1.2" />
<text x="135.4" y="574.6" font-size="13.2" text-anchor="middle">24</text>
<line x1="153.7" y1="557.6" x2="153.7" y2="562.0" stroke="#000" stroke-width="1.2" />
<text x="153.7" y="574.6" font-size="13.2" text-anchor="middle">28</text>
<line x1="171.9" y1="557.6" x2="171.9" y2="562.0" stroke="#000" stroke-width="1.2" />
<text x="171.9" y="574.6" font-size="13.2" text-anchor="middle">32</text>
<line x1="190.1" y1="557.6" x2="190.1" y2="562.0" stroke="#000" stroke-width="1.2" />
<text x="190.1" y="574.6" font-size="13.2" text-anchor="middle">36</text>
<line x1="208.3" y1="557.6" x2="208.3" y2="562.0" stroke="#000" stroke-width="1.2" />
<text x="208.3" y="574.6" font-size="13.2" text-anchor="middle">40</text>
<line x1="226.6" y1="557.6" x2="226.6" y2="562.0" stroke="#000" stroke-width="1.2" />
<text x="226.6" y="574.6" font-size="13.2" text-anchor="middle">44</text>
<line x1="244.8" y1="557.6" x2="244.8" y2="562.0" stroke="#000" stroke-width="1.2" />
<text x="244.8" y="574.6" font-size="13.2" text-anchor="middle">52</text>
<line x1="263.0" y1="557.6" x2="263.0" y2="562.0" stroke="#000" stroke-width="1.2" />
<text x="263.0" y="574.6" font-size="13.2" text-anchor="middle">56</text>
<line x1="281.3" y1="557.6" x2="281.3" y2="562.0" stroke="#000" stroke-width="1.2" />
<text x="281.3" y="574.6" font-size="13.2" text-anchor="middle">60</text>
<line x1="299.5" y1="557.6" x2="299.5" y2="562.0" stroke="#000" stroke-width="1.2" />
<text x="299.5" y="574.6" font-size="13.2" text-anchor="middle">64</text>
<text x="314.0" y="573.3" font-size="13.2">(wk)</text>
<text x="183.6" y="432.6" font-size="13" text-anchor="middle" font-weight="bold" fill="#000">Fr. II</text>
<text x="30.8" y="495.4" font-size="12.9" text-anchor="middle" transform="rotate(-90 30.8 495.4)">Cells / µL</text>
<rect x="194.7" y="451" width="116.8" height="45" fill="#fff" stroke="#222" stroke-width="1"/>
<line x1="198.8" y1="464.4" x2="213.4" y2="464.4" stroke="#e8383d" stroke-width="1.6" />
<line x1="198.8" y1="484.9" x2="213.4" y2="484.9" stroke="#2a4fae" stroke-width="1.6" />
<text x="217.2" y="468.6" font-size="13.1">Long survivors</text>
<text x="216.6" y="489.1" font-size="13.1">Short survivors</text>
<path d="M62.5 541.5L80.7 557.4L99.0 557.4L117.2 551.8L135.4 557.4" stroke="#2a4fae" stroke-width="1.2" fill="none" />
<path d="M62.5 535.1L80.7 557.4L99.0 557.4" stroke="#2a4fae" stroke-width="1.2" fill="none" />
<path d="M62.5 523.9L80.7 557.4L99.0 557.4L190.1 557.4" stroke="#2a4fae" stroke-width="1.2" fill="none" />
<path d="M62.5 495.3L80.7 557.4L99.0 557.4L117.2 558.2L135.4 557.4L153.7 557.4" stroke="#2a4fae" stroke-width="1.2" fill="none" stroke-dasharray="1.2 1.2"/>
<path d="M62.5 487.3L80.7 557.4" stroke="#2a4fae" stroke-width="1.2" fill="none" stroke-dasharray="1.2 1.2"/>
<path d="M190.1 557.4L208.3 557.4L226.6 557.4L244.8 556.6L263.0 557.4L281.3 557.4L299.5 557.4" stroke="#2a4fae" stroke-width="1.2" fill="none" />
<path d="M62.5 520.8L80.7 557.4L99.0 557.4" stroke="#e8383d" stroke-width="1.2" fill="none" stroke-dasharray="1.2 1.2"/>
<path d="M62.5 529.5L80.7 557.4L99.0 557.4L117.2 537.5" stroke="#e8383d" stroke-width="1.2" fill="none" stroke-dasharray="1.2 1.2"/>
<path d="M62.5 545.5L80.7 557.4L99.0 557.4L117.2 557.4L135.4 557.4L153.7 557.4L171.9 557.4L190.1 557.4L208.3 557.4L226.6 557.4L244.8 557.4L263.0 557.4L281.3 557.4L299.5 557.4" stroke="#e8383d" stroke-width="1.2" fill="none" />
<path d="M62.5 457.0L80.7 556.6L99.0 557.4L117.2 556.6L135.4 557.4L153.7 557.4" stroke="#e8383d" stroke-width="1.2" fill="none" />
<rect x="59.7" y="492.5" width="5.6" height="5.6" fill="#fff" stroke="#2a4fae" stroke-width="1.1"/>
<rect x="77.9" y="554.6" width="5.6" height="5.6" fill="#fff" stroke="#2a4fae" stroke-width="1.1"/>
<rect x="96.2" y="554.6" width="5.6" height="5.6" fill="#fff" stroke="#2a4fae" stroke-width="1.1"/>
<rect x="114.4" y="555.4" width="5.6" height="5.6" fill="#fff" stroke="#2a4fae" stroke-width="1.1"/>
<rect x="132.6" y="554.6" width="5.6" height="5.6" fill="#fff" stroke="#2a4fae" stroke-width="1.1"/>
<rect x="150.8" y="554.6" width="5.6" height="5.6" fill="#fff" stroke="#2a4fae" stroke-width="1.1"/>
<circle cx="62.5" cy="520.8" r="2.8" fill="#fff" stroke="#e8383d" stroke-width="1.1"/>
<circle cx="80.7" cy="557.4" r="2.8" fill="#fff" stroke="#e8383d" stroke-width="1.1"/>
<circle cx="99.0" cy="557.4" r="2.8" fill="#fff" stroke="#e8383d" stroke-width="1.1"/>
<path d="M59.4 527.1H65.6L62.5 532.5Z" fill="#fff" stroke="#e8383d" stroke-width="1.1"/>
<path d="M78.1 555.3H83.4L80.7 559.9Z" fill="#fff" stroke="#e8383d" stroke-width="1.1"/>
<path d="M96.3 555.3H101.6L99.0 559.9Z" fill="#fff" stroke="#e8383d" stroke-width="1.1"/>
<path d="M114.1 535.1H120.3L117.2 540.5Z" fill="#fff" stroke="#e8383d" stroke-width="1.1"/>
<path d="M59.4 547.9H65.6L62.5 542.5Z" fill="#e8383d" stroke="#e8383d" stroke-width="1.1"/>
<path d="M78.1 559.5H83.4L80.7 554.9Z" fill="#e8383d" stroke="#e8383d" stroke-width="1.1"/>
<path d="M96.3 559.5H101.6L99.0 554.9Z" fill="#e8383d" stroke="#e8383d" stroke-width="1.1"/>
<path d="M114.5 559.5H119.8L117.2 554.9Z" fill="#e8383d" stroke="#e8383d" stroke-width="1.1"/>
<path d="M132.8 559.5H138.1L135.4 554.9Z" fill="#e8383d" stroke="#e8383d" stroke-width="1.1"/>
<path d="M151.0 559.5H156.3L153.7 554.9Z" fill="#e8383d" stroke="#e8383d" stroke-width="1.1"/>
<path d="M169.2 559.5H174.5L171.9 554.9Z" fill="#e8383d" stroke="#e8383d" stroke-width="1.1"/>
<path d="M187.5 559.5H192.8L190.1 554.9Z" fill="#e8383d" stroke="#e8383d" stroke-width="1.1"/>
<path d="M205.7 559.5H211.0L208.3 554.9Z" fill="#e8383d" stroke="#e8383d" stroke-width="1.1"/>
<path d="M223.9 559.5H229.2L226.6 554.9Z" fill="#e8383d" stroke="#e8383d" stroke-width="1.1"/>
<path d="M242.2 559.5H247.4L244.8 554.9Z" fill="#e8383d" stroke="#e8383d" stroke-width="1.1"/>
<path d="M260.4 559.5H265.7L263.0 554.9Z" fill="#e8383d" stroke="#e8383d" stroke-width="1.1"/>
<path d="M278.6 559.5H283.9L281.3 554.9Z" fill="#e8383d" stroke="#e8383d" stroke-width="1.1"/>
<path d="M296.8 559.5H302.1L299.5 554.9Z" fill="#e8383d" stroke="#e8383d" stroke-width="1.1"/>
<rect x="59.7" y="454.2" width="5.6" height="5.6" fill="#e8383d" stroke="#e8383d" stroke-width="1.1"/>
<rect x="77.9" y="553.8" width="5.6" height="5.6" fill="#e8383d" stroke="#e8383d" stroke-width="1.1"/>
<rect x="96.2" y="554.6" width="5.6" height="5.6" fill="#e8383d" stroke="#e8383d" stroke-width="1.1"/>
<rect x="114.4" y="553.8" width="5.6" height="5.6" fill="#e8383d" stroke="#e8383d" stroke-width="1.1"/>
<rect x="132.6" y="554.6" width="5.6" height="5.6" fill="#e8383d" stroke="#e8383d" stroke-width="1.1"/>
<rect x="150.8" y="554.6" width="5.6" height="5.6" fill="#e8383d" stroke="#e8383d" stroke-width="1.1"/>
<path d="M59.4 543.9H65.6L62.5 538.5Z" fill="#fff" stroke="#2a4fae" stroke-width="1.1"/>
<path d="M78.1 559.5H83.4L80.7 554.9Z" fill="#fff" stroke="#2a4fae" stroke-width="1.1"/>
<path d="M96.3 559.5H101.6L99.0 554.9Z" fill="#fff" stroke="#2a4fae" stroke-width="1.1"/>
<path d="M114.1 554.3H120.3L117.2 548.9Z" fill="#fff" stroke="#2a4fae" stroke-width="1.1"/>
<path d="M132.8 559.5H138.1L135.4 554.9Z" fill="#fff" stroke="#2a4fae" stroke-width="1.1"/>
<path d="M62.5 531.9L65.5 535.1L62.5 538.3L59.5 535.1Z" fill="#2a4fae" stroke="#2a4fae" stroke-width="1.1"/>
<path d="M80.7 554.2L83.7 557.4L80.7 560.6L77.8 557.4Z" fill="#2a4fae" stroke="#2a4fae" stroke-width="1.1"/>
<path d="M99.0 554.2L101.9 557.4L99.0 560.6L96.0 557.4Z" fill="#2a4fae" stroke="#2a4fae" stroke-width="1.1"/>
<circle cx="62.5" cy="523.9" r="2.8" fill="#2a4fae" stroke="#2a4fae" stroke-width="1.1"/>
<circle cx="80.7" cy="557.4" r="2.8" fill="#2a4fae" stroke="#2a4fae" stroke-width="1.1"/>
<circle cx="99.0" cy="557.4" r="2.8" fill="#2a4fae" stroke="#2a4fae" stroke-width="1.1"/>
<circle cx="190.1" cy="557.4" r="2.8" fill="#2a4fae" stroke="#2a4fae" stroke-width="1.1"/>
<path d="M59.4 484.9H65.6L62.5 490.3Z" fill="#2a4fae" stroke="#2a4fae" stroke-width="1.1"/>
<path d="M78.1 555.3H83.4L80.7 559.9Z" fill="#2a4fae" stroke="#2a4fae" stroke-width="1.1"/>
<rect x="114.4" y="553.8" width="5.6" height="5.6" fill="#e8383d" stroke="#e8383d" stroke-width="1.1"/>
<path d="M69.6 736.6V631.3H174.8" stroke="#777" stroke-width="0.9" fill="none" />
<line x1="174.8" y1="631.3" x2="174.8" y2="736.6" stroke="#aaa" stroke-width="0.9" />
<line x1="69.6" y1="631.3" x2="69.6" y2="736.6" stroke="#444" stroke-width="1.0" />
<line x1="66.6" y1="641.0" x2="69.6" y2="641.0" stroke="#333" stroke-width="0.9" />
<line x1="66.6" y1="665.9" x2="69.6" y2="665.9" stroke="#333" stroke-width="0.9" />
<line x1="66.6" y1="691.4" x2="69.6" y2="691.4" stroke="#333" stroke-width="0.9" />
<line x1="66.6" y1="715.6" x2="69.6" y2="715.6" stroke="#333" stroke-width="0.9" />
<line x1="66.6" y1="731.6" x2="69.6" y2="731.6" stroke="#333" stroke-width="0.9" />
<line x1="68.1" y1="658.4" x2="69.6" y2="658.4" stroke="#444" stroke-width="0.6" />
<line x1="68.1" y1="654.0" x2="69.6" y2="654.0" stroke="#444" stroke-width="0.6" />
<line x1="68.1" y1="650.9" x2="69.6" y2="650.9" stroke="#444" stroke-width="0.6" />
<line x1="68.1" y1="648.5" x2="69.6" y2="648.5" stroke="#444" stroke-width="0.6" />
<line x1="68.1" y1="646.5" x2="69.6" y2="646.5" stroke="#444" stroke-width="0.6" />
<line x1="68.1" y1="644.9" x2="69.6" y2="644.9" stroke="#444" stroke-width="0.6" />
<line x1="68.1" y1="643.4" x2="69.6" y2="643.4" stroke="#444" stroke-width="0.6" />
<line x1="68.1" y1="642.1" x2="69.6" y2="642.1" stroke="#444" stroke-width="0.6" />
<line x1="68.1" y1="683.7" x2="69.6" y2="683.7" stroke="#444" stroke-width="0.6" />
<line x1="68.1" y1="679.2" x2="69.6" y2="679.2" stroke="#444" stroke-width="0.6" />
<line x1="68.1" y1="676.0" x2="69.6" y2="676.0" stroke="#444" stroke-width="0.6" />
<line x1="68.1" y1="673.6" x2="69.6" y2="673.6" stroke="#444" stroke-width="0.6" />
<line x1="68.1" y1="671.6" x2="69.6" y2="671.6" stroke="#444" stroke-width="0.6" />
<line x1="68.1" y1="669.8" x2="69.6" y2="669.8" stroke="#444" stroke-width="0.6" />
<line x1="68.1" y1="668.4" x2="69.6" y2="668.4" stroke="#444" stroke-width="0.6" />
<line x1="68.1" y1="667.1" x2="69.6" y2="667.1" stroke="#444" stroke-width="0.6" />
<line x1="68.1" y1="708.3" x2="69.6" y2="708.3" stroke="#444" stroke-width="0.6" />
<line x1="68.1" y1="704.1" x2="69.6" y2="704.1" stroke="#444" stroke-width="0.6" />
<line x1="68.1" y1="701.0" x2="69.6" y2="701.0" stroke="#444" stroke-width="0.6" />
<line x1="68.1" y1="698.7" x2="69.6" y2="698.7" stroke="#444" stroke-width="0.6" />
<line x1="68.1" y1="696.8" x2="69.6" y2="696.8" stroke="#444" stroke-width="0.6" />
<line x1="68.1" y1="695.1" x2="69.6" y2="695.1" stroke="#444" stroke-width="0.6" />
<line x1="68.1" y1="693.7" x2="69.6" y2="693.7" stroke="#444" stroke-width="0.6" />
<line x1="68.1" y1="692.5" x2="69.6" y2="692.5" stroke="#444" stroke-width="0.6" />
<rect x="67.3" y="730" width="2" height="4" fill="#111"/>
<text x="65.2" y="644.4" font-size="10.2" text-anchor="end">10<tspan font-size="7.1" dy="-3.7">5</tspan></text>
<text x="65.2" y="669.3" font-size="10.2" text-anchor="end">10<tspan font-size="7.1" dy="-3.7">4</tspan></text>
<text x="65.2" y="694.8" font-size="10.2" text-anchor="end">10<tspan font-size="7.1" dy="-3.7">3</tspan></text>
<text x="65.2" y="719.0" font-size="10.2" text-anchor="end">10<tspan font-size="7.1" dy="-3.7">2</tspan></text>
<text x="65.2" y="735.0" font-size="10.2" text-anchor="end">0</text>
<text x="73.0" y="755.3" font-size="10.2" text-anchor="middle">0</text>
<text x="94.0" y="755.3" font-size="10.2" text-anchor="middle">10<tspan font-size="7.1" dy="-3.7">3</tspan></text>
<text x="128.2" y="755.3" font-size="10.2" text-anchor="middle">10<tspan font-size="7.1" dy="-3.7">4</tspan></text>
<text x="161.0" y="755.3" font-size="10.2" text-anchor="middle">10<tspan font-size="7.1" dy="-3.7">5</tspan></text>
<path d="M195.5 736.6V631.3H300.7" stroke="#777" stroke-width="0.9" fill="none" />
<line x1="300.7" y1="631.3" x2="300.7" y2="736.6" stroke="#aaa" stroke-width="0.9" />
<line x1="195.5" y1="631.3" x2="195.5" y2="736.6" stroke="#444" stroke-width="1.0" />
<line x1="192.5" y1="641.0" x2="195.5" y2="641.0" stroke="#333" stroke-width="0.9" />
<line x1="192.5" y1="665.9" x2="195.5" y2="665.9" stroke="#333" stroke-width="0.9" />
<line x1="192.5" y1="691.4" x2="195.5" y2="691.4" stroke="#333" stroke-width="0.9" />
<line x1="192.5" y1="715.6" x2="195.5" y2="715.6" stroke="#333" stroke-width="0.9" />
<line x1="192.5" y1="731.6" x2="195.5" y2="731.6" stroke="#333" stroke-width="0.9" />
<line x1="194.0" y1="658.4" x2="195.5" y2="658.4" stroke="#444" stroke-width="0.6" />
<line x1="194.0" y1="654.0" x2="195.5" y2="654.0" stroke="#444" stroke-width="0.6" />
<line x1="194.0" y1="650.9" x2="195.5" y2="650.9" stroke="#444" stroke-width="0.6" />
<line x1="194.0" y1="648.5" x2="195.5" y2="648.5" stroke="#444" stroke-width="0.6" />
<line x1="194.0" y1="646.5" x2="195.5" y2="646.5" stroke="#444" stroke-width="0.6" />
<line x1="194.0" y1="644.9" x2="195.5" y2="644.9" stroke="#444" stroke-width="0.6" />
<line x1="194.0" y1="643.4" x2="195.5" y2="643.4" stroke="#444" stroke-width="0.6" />
<line x1="194.0" y1="642.1" x2="195.5" y2="642.1" stroke="#444" stroke-width="0.6" />
<line x1="194.0" y1="683.7" x2="195.5" y2="683.7" stroke="#444" stroke-width="0.6" />
<line x1="194.0" y1="679.2" x2="195.5" y2="679.2" stroke="#444" stroke-width="0.6" />
<line x1="194.0" y1="676.0" x2="195.5" y2="676.0" stroke="#444" stroke-width="0.6" />
<line x1="194.0" y1="673.6" x2="195.5" y2="673.6" stroke="#444" stroke-width="0.6" />
<line x1="194.0" y1="671.6" x2="195.5" y2="671.6" stroke="#444" stroke-width="0.6" />
<line x1="194.0" y1="669.8" x2="195.5" y2="669.8" stroke="#444" stroke-width="0.6" />
<line x1="194.0" y1="668.4" x2="195.5" y2="668.4" stroke="#444" stroke-width="0.6" />
<line x1="194.0" y1="667.1" x2="195.5" y2="667.1" stroke="#444" stroke-width="0.6" />
<line x1="194.0" y1="708.3" x2="195.5" y2="708.3" stroke="#444" stroke-width="0.6" />
<line x1="194.0" y1="704.1" x2="195.5" y2="704.1" stroke="#444" stroke-width="0.6" />
<line x1="194.0" y1="701.0" x2="195.5" y2="701.0" stroke="#444" stroke-width="0.6" />
<line x1="194.0" y1="698.7" x2="195.5" y2="698.7" stroke="#444" stroke-width="0.6" />
<line x1="194.0" y1="696.8" x2="195.5" y2="696.8" stroke="#444" stroke-width="0.6" />
<line x1="194.0" y1="695.1" x2="195.5" y2="695.1" stroke="#444" stroke-width="0.6" />
<line x1="194.0" y1="693.7" x2="195.5" y2="693.7" stroke="#444" stroke-width="0.6" />
<line x1="194.0" y1="692.5" x2="195.5" y2="692.5" stroke="#444" stroke-width="0.6" />
<rect x="193.2" y="730" width="2" height="4" fill="#111"/>
<path d="M81.5 700.5h0M89.6 701.7h0M95.6 702.2h0M105.0 707.5h0M114.0 707.9h0M138.1 698.9h0M101.9 706.7h0M131.6 709.7h0M93.9 702.2h0M109.9 709.0h0M80.8 703.4h0M135.9 696.4h0M101.1 700.6h0M120.6 710.3h0M117.9 711.9h0M109.9 710.1h0M91.9 700.4h0M135.8 702.7h0M111.7 710.2h0M83.0 702.0h0M80.0 703.1h0M112.6 708.7h0M119.5 711.7h0M96.7 702.4h0M93.9 701.4h0M138.1 701.5h0M128.8 709.1h0M83.0 699.5h0M138.5 702.8h0M81.5 707.1h0M136.3 704.7h0M134.9 700.2h0M83.6 701.0h0M140.4 687.4h0M138.2 694.4h0M88.9 698.3h0M125.9 712.9h0M111.6 706.6h0M80.1 703.4h0M90.6 699.5h0M91.9 699.8h0M126.8 707.9h0M119.4 710.4h0M140.6 691.8h0M98.1 700.8h0M112.6 710.3h0M101.3 705.2h0M103.6 705.8h0M120.0 712.5h0M133.1 707.1h0M126.4 708.3h0M86.4 707.4h0M95.5 701.9h0M121.4 713.3h0M132.9 703.6h0M138.5 700.2h0M103.0 709.2h0M111.6 709.1h0M80.4 709.1h0M116.6 711.3h0M99.3 703.7h0M116.4 712.1h0M120.9 709.6h0M89.9 701.7h0M80.5 706.4h0M129.4 705.2h0M130.0 705.2h0M142.7 688.7h0M115.2 709.3h0M81.6 706.1h0M80.7 703.5h0M143.2 690.3h0M130.1 707.1h0M85.9 699.7h0M107.1 709.6h0M88.4 697.8h0M132.4 707.2h0M129.5 709.0h0M139.2 694.4h0M125.4 707.5h0M104.5 710.7h0M138.9 695.3h0M103.0 706.1h0M131.7 707.5h0M94.6 700.8h0M95.1 701.1h0M119.3 709.1h0M97.9 699.7h0M140.0 699.9h0M113.8 707.8h0M139.7 693.1h0M123.2 710.5h0M118.6 711.1h0M113.0 708.5h0M85.8 697.4h0M99.9 704.7h0M140.4 699.5h0M130.0 710.1h0M136.2 704.3h0M105.2 711.3h0M87.6 699.7h0M134.0 705.4h0M105.2 708.7h0M132.8 701.9h0M81.4 706.9h0M99.2 703.6h0M123.7 712.1h0M140.5 693.2h0M90.1 699.6h0M142.9 688.2h0M124.6 708.4h0M89.6 700.5h0M81.3 707.9h0M139.3 693.7h0M125.3 710.0h0M129.7 705.7h0M107.8 704.9h0M83.3 704.3h0M109.6 707.4h0M123.3 709.3h0M96.0 699.1h0M143.1 692.2h0M135.6 702.6h0M75.6 709.5h0M96.5 703.4h0M137.9 695.1h0M132.0 703.4h0M137.9 700.6h0M88.7 701.9h0M136.9 696.8h0M128.4 709.7h0M107.0 707.6h0M127.9 710.5h0M92.5 701.0h0M140.4 695.9h0M82.2 703.7h0M94.8 704.0h0M131.7 708.5h0M105.5 706.4h0M139.0 699.1h0M136.3 703.1h0M126.8 711.4h0M100.1 705.7h0M106.2 709.1h0M100.6 702.7h0M96.9 702.8h0M76.9 709.5h0M92.6 703.1h0M130.9 708.0h0M115.9 710.8h0M98.7 703.8h0M100.6 704.5h0M87.5 699.3h0M83.8 704.9h0M86.1 699.7h0M121.9 711.8h0M139.0 693.9h0M127.9 706.8h0M96.7 706.5h0M117.1 713.4h0M84.4 701.2h0M82.4 705.0h0M80.9 705.5h0M119.5 712.9h0M119.1 714.5h0M84.9 701.9h0M137.3 688.7h0M88.4 704.5h0M115.7 706.8h0M125.3 711.3h0M80.1 710.0h0M93.5 701.8h0M113.7 709.6h0M127.7 708.2h0M127.0 708.6h0M125.9 711.7h0M81.6 706.9h0M78.3 706.8h0M139.0 697.0h0M84.6 700.2h0M104.3 704.8h0M135.8 701.1h0M82.2 709.3h0M139.2 699.0h0M125.1 709.6h0M103.0 705.4h0M93.1 701.1h0M114.9 711.0h0M136.0 698.7h0M88.1 698.5h0M89.8 701.6h0M110.9 707.2h0M133.5 703.5h0M105.7 709.1h0M105.6 706.5h0M142.1 691.6h0M116.0 708.5h0M133.2 701.5h0M126.3 709.8h0M119.4 712.9h0M108.8 709.4h0M125.7 715.0h0M139.1 705.0h0M85.7 702.7h0M96.7 702.3h0M90.6 698.9h0M136.9 702.2h0M100.4 703.6h0M105.7 709.0h0M116.1 707.6h0M139.2 690.4h0M78.7 708.8h0M91.0 701.7h0M136.8 694.7h0M110.1 711.7h0M103.8 707.6h0M138.5 692.2h0M79.9 707.1h0M80.4 707.2h0M135.8 695.6h0M136.1 700.8h0M117.1 713.7h0M95.2 698.8h0M133.2 701.8h0M84.7 701.9h0M106.7 705.8h0M87.0 699.3h0M106.3 706.7h0M79.8 711.1h0M110.9 708.1h0M109.1 707.3h0M142.3 686.2h0M107.8 704.9h0M115.7 709.3h0M84.7 702.3h0M95.0 701.7h0M89.3 699.4h0M139.6 692.8h0M81.6 700.9h0M124.7 713.2h0M133.6 697.9h0M140.2 692.5h0M126.8 705.3h0M86.0 701.5h0M139.3 694.9h0M114.1 709.7h0M116.2 709.8h0M138.9 694.3h0M78.4 711.5h0M129.8 706.5h0M133.6 706.0h0M126.5 708.4h0M90.2 704.4h0M137.7 691.6h0M91.1 699.6h0M96.9 702.0h0M138.1 701.8h0M141.9 694.9h0M93.6 703.6h0M110.2 708.2h0M135.2 701.3h0M117.7 709.5h0M90.9 701.0h0M102.9 707.2h0M123.7 711.8h0M127.9 706.9h0M94.8 706.4h0M90.7 701.3h0M135.5 707.2h0M99.0 700.5h0M92.6 697.4h0M94.9 700.5h0M91.7 701.7h0M82.7 701.9h0M104.1 706.0h0M87.9 695.9h0M124.0 711.9h0M82.6 701.3h0M101.0 705.7h0M138.7 692.6h0M108.1 707.7h0M138.3 699.6h0M90.9 700.0h0M135.1 702.7h0M81.8 701.2h0M141.0 691.2h0M138.8 692.8h0M127.7 708.5h0M87.1 697.6h0M131.3 702.7h0M135.7 703.7h0M124.2 707.5h0M132.7 702.3h0M93.8 701.8h0M132.9 703.9h0M93.0 703.8h0M112.5 710.7h0M104.0 704.9h0M92.4 701.3h0M94.1 702.2h0M138.0 694.6h0M83.8 708.6h0M112.7 710.8h0M113.6 708.6h0M83.7 702.9h0M82.5 704.8h0M111.9 707.2h0M102.5 706.0h0M93.4 703.2h0M93.5 700.9h0M91.5 699.7h0M126.1 711.9h0M143.4 687.2h0M98.1 702.0h0M104.9 709.0h0M129.0 708.3h0M99.6 705.0h0M86.9 699.5h0M125.4 709.8h0M99.8 705.3h0M77.1 707.8h0M97.8 703.7h0M141.3 695.6h0M78.5 704.3h0M137.8 695.5h0M122.5 709.3h0M135.2 696.6h0M118.2 708.1h0M124.9 710.1h0M139.1 696.9h0M87.6 698.8h0M84.4 701.7h0M122.0 711.4h0M108.0 710.3h0M117.9 709.4h0M103.5 705.0h0M140.8 684.9h0M123.5 711.0h0M122.6 710.0h0M78.2 711.6h0M94.7 701.5h0M93.7 702.7h0M143.9 687.6h0M84.3 700.1h0M115.7 708.4h0M130.5 709.8h0M122.4 708.9h0M130.9 704.4h0M104.9 705.8h0M86.0 702.4h0M93.6 699.6h0M119.4 712.0h0M115.3 705.8h0M105.6 709.4h0M138.8 697.7h0M105.0 705.2h0M91.2 701.1h0M122.6 711.3h0M121.8 710.3h0M134.0 701.4h0M116.4 711.1h0M78.1 710.6h0M111.3 709.4h0M89.2 701.3h0M93.8 701.5h0M132.1 701.8h0M140.5 689.1h0M134.8 700.3h0M88.9 701.7h0M107.9 707.1h0M142.0 698.4h0M135.7 702.9h0M79.3 704.9h0M93.8 701.2h0M120.5 712.1h0M86.2 700.8h0M83.4 709.1h0M90.7 702.0h0M118.4 709.2h0M128.2 706.3h0M133.1 708.1h0M114.6 707.2h0M118.8 709.1h0M115.3 710.2h0M137.7 704.3h0M125.2 712.5h0M125.9 706.8h0M138.9 696.6h0M80.4 704.7h0M81.6 708.1h0M115.8 709.7h0M108.7 709.4h0M137.6 696.4h0M99.3 705.0h0M123.6 706.2h0M129.6 707.7h0M91.1 699.9h0M76.9 710.8h0M105.0 706.2h0M90.1 698.3h0M90.3 696.2h0M114.0 706.0h0M88.5 701.8h0M117.8 712.1h0M122.2 708.7h0M111.1 710.6h0M117.2 707.9h0M87.9 700.8h0M119.6 713.1h0M138.3 699.8h0M133.7 703.2h0M82.7 705.0h0M98.4 703.7h0M130.2 710.6h0M123.0 712.6h0M107.2 705.7h0M137.4 699.7h0M140.8 695.7h0M119.7 713.8h0M89.7 705.2h0M141.6 690.0h0M108.0 708.4h0M96.7 705.0h0M83.5 705.9h0M139.5 693.7h0M130.1 712.5h0M80.7 707.6h0M85.1 698.2h0M139.0 693.3h0M79.1 705.2h0M128.2 708.7h0M118.3 709.5h0M115.4 712.5h0M128.5 708.7h0M102.9 705.3h0M122.0 709.1h0M137.0 700.9h0M117.8 716.1h0M115.0 709.6h0M124.4 711.5h0M88.7 698.2h0M97.6 703.1h0M130.4 706.8h0M115.1 711.8h0M82.9 702.7h0M136.7 693.9h0M108.5 706.4h0M94.0 703.9h0M87.4 702.0h0M139.5 693.8h0M132.4 708.1h0M97.2 704.3h0M89.2 701.4h0M137.7 701.5h0M85.6 703.4h0M114.8 708.9h0M124.7 709.5h0M140.8 694.5h0M127.6 708.2h0M81.6 705.9h0M114.8 709.0h0M140.4 692.1h0M95.1 701.9h0M81.4 703.0h0M82.5 710.3h0M134.3 700.6h0M140.9 696.5h0M109.1 706.8h0M97.7 706.9h0M104.8 707.3h0M90.6 696.6h0M104.0 709.4h0M112.0 706.3h0M116.6 710.3h0M82.7 702.4h0M140.9 688.2h0M123.3 711.0h0M121.8 712.2h0M133.5 701.6h0M83.0 708.6h0M121.9 711.4h0M103.7 704.1h0M125.7 708.4h0M142.2 689.6h0M77.4 707.4h0M86.8 700.8h0M101.9 705.0h0M114.2 710.6h0M136.9 701.7h0M134.5 705.6h0M117.1 711.5h0M87.8 698.1h0M112.3 711.3h0M107.6 709.0h0M81.6 704.2h0M138.0 692.6h0M137.2 700.0h0M124.8 709.1h0M93.9 704.3h0M121.6 710.5h0M97.8 703.1h0M125.4 710.9h0M80.7 710.1h0M119.5 709.9h0M115.7 708.5h0M139.4 693.8h0M123.2 712.0h0M133.8 706.2h0M89.7 701.5h0M118.9 712.0h0M99.7 703.4h0M140.1 688.7h0M139.8 692.1h0M92.7 702.4h0M120.2 713.2h0M79.6 703.6h0M114.5 709.4h0M144.2 690.3h0M82.7 702.3h0M130.6 704.4h0M87.0 698.7h0M98.5 699.6h0M89.0 697.8h0M81.6 697.2h0M90.7 701.2h0M83.1 704.3h0M104.7 705.2h0M98.8 700.8h0M104.9 704.3h0M84.2 699.9h0M99.1 704.1h0M114.3 710.7h0M88.3 696.0h0M82.4 702.4h0M108.1 703.2h0M90.5 702.4h0M106.4 706.9h0M99.6 700.8h0M109.8 701.6h0M103.2 698.5h0M99.2 701.7h0M84.4 704.4h0M116.5 712.1h0M92.1 700.1h0M111.7 704.0h0M104.2 702.4h0M97.7 698.6h0M97.5 701.8h0M84.0 696.6h0M110.5 708.4h0M88.0 694.2h0M112.6 709.8h0M106.0 708.5h0M82.1 698.5h0M95.9 698.9h0M106.9 703.7h0M107.3 712.6h0M87.4 701.7h0M108.4 706.1h0M116.0 706.6h0M105.8 702.1h0M108.1 710.9h0M114.9 705.3h0M85.4 696.4h0M112.1 702.7h0M114.6 707.6h0M104.2 701.5h0M86.1 701.5h0M118.2 710.1h0M107.7 703.2h0M89.9 696.9h0M89.8 697.3h0M110.4 712.5h0M89.2 691.9h0M106.1 701.9h0M97.0 703.4h0M101.9 706.4h0M108.6 709.5h0M88.9 702.2h0M91.6 698.4h0M84.0 697.4h0M95.7 699.5h0M84.7 699.9h0M112.3 703.9h0M106.6 709.1h0M100.3 706.7h0M83.7 694.7h0M88.1 700.7h0M99.4 704.6h0M115.4 710.2h0M113.2 707.1h0M108.4 707.3h0M92.6 703.2h0M101.1 701.9h0M95.8 704.1h0M92.4 698.8h0M110.5 706.1h0M86.7 698.5h0M92.3 700.1h0M94.4 697.4h0M91.0 698.1h0M113.3 707.7h0M92.0 703.7h0M81.5 704.3h0M100.8 702.7h0M114.7 705.8h0M100.6 705.9h0M95.9 702.9h0M111.9 711.3h0M103.9 708.8h0M98.5 707.6h0M95.0 703.9h0M106.2 708.2h0M103.2 698.3h0M96.8 701.2h0M92.3 692.3h0M104.4 703.4h0M112.1 707.7h0M82.0 696.9h0M83.6 702.3h0M87.4 699.7h0M113.3 703.9h0M103.0 703.4h0M95.9 696.8h0M114.7 705.2h0M113.5 709.3h0M104.6 700.0h0M95.7 699.7h0M102.7 703.1h0M104.5 703.8h0M117.4 710.4h0M106.4 707.6h0M90.6 691.9h0M108.1 705.0h0M81.9 702.3h0M82.2 700.6h0M97.7 700.9h0M83.1 702.0h0M91.3 702.6h0M84.3 709.3h0M107.8 710.2h0M102.5 703.6h0M86.3 700.0h0M98.8 703.4h0M98.8 699.4h0M110.5 708.7h0M90.5 697.0h0M89.7 699.7h0M110.2 708.1h0M105.1 706.7h0M108.9 703.2h0M84.8 700.4h0M83.6 708.1h0M114.0 704.3h0M116.0 708.4h0M90.9 694.3h0M95.2 700.7h0M92.3 703.9h0M84.3 696.1h0M79.7 699.9h0M91.6 700.1h0M117.4 709.4h0M90.1 701.0h0M82.1 696.9h0M82.9 700.3h0M104.7 701.2h0M115.4 708.1h0M92.7 700.6h0M109.7 705.2h0M88.5 700.3h0M140.1 697.1h0M137.0 698.8h0M134.7 701.8h0M141.6 697.6h0M141.4 691.3h0M129.9 693.8h0M137.0 710.8h0M137.0 702.7h0M141.9 708.7h0M138.6 700.7h0M137.2 692.3h0M133.5 692.7h0M144.5 698.6h0M137.3 697.1h0M135.5 696.9h0M137.9 700.6h0M142.1 688.0h0M139.1 704.6h0M133.4 695.7h0M138.8 703.1h0M140.7 695.8h0M140.3 702.8h0M139.8 707.3h0M140.0 691.3h0M134.5 696.3h0M137.1 700.5h0M139.6 706.5h0M141.7 705.2h0M134.6 694.7h0M141.1 697.6h0M140.9 698.4h0M135.3 706.5h0M143.2 688.5h0M135.3 697.2h0M141.1 696.7h0M131.9 701.7h0M137.1 703.7h0M139.4 702.6h0M141.8 702.0h0M135.8 702.8h0M139.0 690.2h0M136.3 695.2h0M140.2 700.9h0M133.1 701.1h0M137.8 691.3h0M141.8 692.9h0M132.7 701.3h0M142.1 693.5h0M142.9 702.6h0M135.8 708.1h0M137.8 698.4h0M127.4 700.6h0M135.3 699.6h0M130.4 703.5h0M144.7 707.5h0M124.9 700.4h0M139.7 680.6h0M134.8 696.7h0M144.5 692.6h0M139.1 696.9h0M139.8 695.0h0M142.2 702.5h0M132.0 703.4h0M134.8 695.7h0M143.2 697.8h0M140.8 701.6h0M140.9 694.3h0M133.9 701.0h0M141.6 699.2h0M137.4 702.0h0M138.1 689.7h0M139.5 700.0h0M141.7 692.4h0M134.9 699.1h0M136.2 696.9h0M142.4 699.5h0M146.4 698.9h0M145.9 703.2h0M149.7 697.4h0M137.9 704.5h0M136.0 694.8h0M139.4 699.5h0M132.0 698.8h0M136.9 697.3h0M139.1 696.4h0M143.2 700.1h0M137.5 697.9h0M143.0 701.8h0M144.1 696.7h0M139.0 708.5h0M138.3 706.7h0M142.2 695.2h0M132.2 701.0h0M135.3 693.7h0M130.7 704.0h0M138.9 697.7h0M140.2 698.9h0M138.9 700.4h0M137.2 683.5h0M141.8 699.9h0M138.6 706.2h0M132.2 681.8h0M145.1 699.8h0M131.1 695.3h0M141.2 690.9h0M141.0 709.1h0M144.7 697.4h0M139.9 692.4h0M139.1 695.8h0M134.0 690.2h0M147.1 698.0h0M133.9 695.3h0M145.1 706.4h0M135.7 698.6h0M142.4 695.7h0M133.2 692.2h0M138.5 693.4h0M132.7 696.3h0M142.6 701.3h0M137.4 708.0h0M135.0 697.2h0M132.4 701.8h0M137.9 688.4h0M134.8 707.4h0M141.7 698.2h0M142.3 688.8h0M134.8 690.3h0M134.7 695.5h0M140.8 703.0h0M142.8 712.2h0M136.2 697.4h0M140.7 693.0h0M137.1 699.8h0M134.5 700.1h0M143.9 691.4h0M128.2 698.0h0M133.8 698.5h0M136.4 699.2h0M143.5 702.0h0M136.8 691.1h0M127.3 685.6h0M134.8 698.0h0M135.4 694.2h0M131.2 688.4h0M130.6 700.8h0M129.5 701.0h0M134.2 700.2h0M139.3 701.4h0M143.5 693.0h0M133.8 694.8h0M134.7 700.8h0M137.6 697.2h0M140.0 694.5h0M143.0 687.0h0M139.1 699.8h0M134.6 693.3h0M142.1 695.3h0M129.4 689.7h0M142.5 692.2h0M143.9 704.5h0M137.1 700.0h0M134.3 694.8h0M134.9 700.2h0M132.3 696.3h0M138.2 699.8h0M128.5 687.2h0M134.0 695.8h0M138.6 698.0h0M147.0 700.5h0M140.6 694.3h0M141.5 700.7h0M141.0 696.3h0M140.7 705.3h0M134.4 685.1h0M141.6 700.9h0M136.9 694.5h0M150.3 694.4h0M132.5 694.3h0M140.2 693.6h0M136.2 698.6h0M136.0 697.6h0M137.7 691.1h0M138.2 690.6h0M142.1 691.8h0M136.9 687.0h0M135.9 690.1h0M144.6 696.2h0M140.2 687.3h0M132.4 696.0h0M131.9 703.1h0M136.1 697.7h0M139.3 696.1h0M141.4 693.2h0M139.5 703.4h0M138.8 697.6h0M136.4 697.2h0M140.9 695.5h0M130.4 697.8h0M137.2 699.4h0M138.1 705.4h0M132.5 691.6h0M140.8 691.3h0M139.3 696.8h0M129.2 700.5h0M144.0 698.0h0M131.7 701.1h0M133.3 696.2h0M139.7 692.6h0M130.4 696.1h0M137.7 692.2h0M134.4 700.8h0M137.5 694.3h0M135.2 697.7h0M138.3 695.9h0M131.7 694.8h0M135.1 697.2h0M142.9 701.9h0M140.7 697.4h0M136.4 698.6h0M135.8 695.0h0M134.2 696.5h0M137.5 706.7h0M140.3 694.8h0M141.2 694.3h0M142.3 701.0h0M150.5 691.0h0M137.5 696.2h0M139.1 700.6h0M133.6 692.9h0M139.2 702.0h0M132.9 688.5h0M142.8 701.3h0M142.6 691.6h0M137.0 698.0h0M139.8 696.2h0M137.6 702.2h0M136.0 693.9h0M136.0 694.1h0M138.4 695.7h0M135.9 704.4h0M139.2 695.0h0M143.3 693.9h0M137.8 696.3h0M135.4 694.8h0M138.2 689.2h0M136.2 698.1h0M139.0 698.4h0M148.0 700.3h0M137.2 696.2h0M137.8 699.1h0M136.6 704.7h0M133.1 700.1h0M140.0 690.8h0M140.5 699.7h0M135.1 709.0h0M140.9 695.1h0M135.8 692.9h0M138.9 697.1h0M131.8 691.4h0M134.8 694.7h0M136.3 693.3h0M140.6 701.8h0M138.2 685.3h0M137.2 699.7h0M137.5 698.2h0M138.3 689.0h0M127.0 700.0h0M135.6 699.0h0M136.5 695.9h0M143.7 690.5h0M137.8 691.1h0M138.1 699.3h0M140.6 697.6h0M131.9 698.1h0M141.6 702.0h0M147.0 699.7h0M133.5 694.1h0M138.2 702.3h0M132.9 701.6h0M140.6 692.2h0M140.4 692.8h0M137.8 695.2h0M138.8 690.6h0M140.1 685.5h0M136.1 693.8h0M144.6 699.6h0M135.7 692.1h0M138.0 693.5h0M147.4 682.3h0M138.1 684.0h0M142.3 692.6h0M144.7 693.9h0M142.5 697.9h0M142.9 696.9h0M125.1 693.0h0M131.2 701.7h0M140.1 696.8h0M139.8 697.8h0M135.4 707.0h0M138.9 695.8h0M137.4 689.1h0M140.9 690.4h0M139.8 690.7h0M138.2 690.9h0M137.2 688.4h0M139.2 693.4h0M142.1 691.1h0M138.2 689.7h0M142.8 694.5h0M137.4 689.7h0M141.2 691.9h0M140.9 692.8h0M137.5 695.3h0M138.2 691.1h0M142.2 694.2h0M143.1 693.4h0M144.0 690.5h0M142.7 695.3h0M139.1 686.9h0M138.5 694.9h0M143.9 689.9h0M141.5 692.3h0M143.4 685.5h0M139.6 690.2h0M141.7 691.1h0M140.2 691.8h0M134.8 699.7h0M142.9 693.5h0M139.4 692.1h0M145.8 696.1h0M141.1 687.4h0M141.3 690.1h0M143.0 687.3h0M140.5 691.7h0M139.8 694.0h0M138.2 687.4h0M140.1 693.3h0M140.2 689.3h0M142.9 691.6h0M139.7 691.3h0M140.4 692.7h0M141.3 688.7h0M139.8 689.8h0M141.8 692.0h0M139.0 690.4h0M141.7 694.1h0M141.6 696.5h0M141.0 693.1h0M140.2 688.1h0M141.2 692.3h0M141.7 691.4h0M140.2 688.6h0M140.2 692.3h0M143.2 681.5h0M142.4 694.1h0M144.0 692.0h0M142.6 689.7h0M140.7 692.5h0M138.3 688.7h0M141.4 687.1h0M141.1 686.7h0M141.4 691.0h0M139.6 688.2h0M139.7 684.5h0M140.0 691.3h0M143.8 689.5h0M140.5 694.9h0M145.1 689.5h0M143.5 694.3h0M142.2 688.1h0M138.7 692.6h0M146.5 690.4h0M144.7 696.4h0M138.0 689.2h0M144.6 693.8h0M142.3 690.9h0M142.5 689.1h0M147.0 687.6h0M136.6 691.4h0M144.4 689.5h0M140.8 688.0h0M140.8 688.0h0M138.5 686.7h0M139.6 696.3h0M140.8 691.5h0M146.3 689.1h0M138.6 692.4h0M138.0 691.9h0M143.7 687.8h0M139.7 695.8h0M138.4 689.0h0M141.5 690.0h0M138.9 695.6h0M139.6 691.9h0M140.0 690.3h0M137.7 693.6h0M139.9 694.6h0M138.2 689.5h0M142.1 691.3h0M139.4 690.5h0M137.8 691.1h0M134.6 691.4h0M144.2 693.5h0M143.0 689.7h0M142.1 689.8h0M140.7 690.7h0M132.9 693.6h0M142.0 693.4h0M138.7 692.9h0M142.1 684.5h0M136.7 691.1h0M139.4 690.9h0M139.4 695.3h0M136.4 687.0h0M138.6 687.0h0M139.6 690.9h0M137.7 692.0h0M144.1 694.1h0M145.8 694.2h0M140.9 696.1h0M142.7 696.4h0M140.5 684.9h0M138.2 691.5h0M142.3 690.4h0M143.4 687.6h0M139.3 693.8h0M141.1 691.2h0M144.4 694.1h0M139.1 691.6h0M136.9 690.9h0M141.9 686.0h0M144.7 696.8h0M142.2 693.7h0M144.6 690.5h0M143.5 692.1h0M137.3 688.4h0M139.6 694.1h0M141.2 693.8h0M139.9 687.3h0M146.0 698.9h0M114.7 698.5h0M128.6 691.5h0M104.4 689.0h0M116.4 701.9h0M101.1 695.0h0M81.7 693.6h0M129.4 697.3h0M129.9 693.3h0M106.6 696.5h0M103.5 705.9h0M72.4 705.7h0M120.1 700.0h0M109.4 698.3h0M120.0 700.5h0M93.4 701.2h0M124.6 702.9h0M108.6 701.6h0M99.5 696.5h0M75.4 698.6h0M125.1 697.0h0M92.4 706.9h0M110.9 701.1h0M116.2 705.4h0M107.3 693.6h0M138.1 700.5h0M94.7 701.4h0M128.6 689.2h0M130.6 699.0h0M142.5 705.1h0M106.2 709.6h0M130.0 697.3h0M112.1 696.1h0M123.9 689.3h0M105.0 683.7h0M118.2 683.0h0M89.9 702.1h0M102.0 696.6h0M91.5 696.5h0M77.9 702.5h0M121.9 705.9h0M107.4 709.4h0M116.0 707.3h0M114.8 700.3h0M95.0 680.0h0M119.1 699.2h0M142.2 684.9h0M122.5 692.8h0M108.0 693.3h0M114.1 699.8h0M123.1 701.2h0M116.3 709.8h0M117.0 699.0h0M129.3 699.2h0M115.1 697.6h0M96.7 677.2h0M120.0 691.3h0M120.7 713.8h0M85.5 706.7h0M106.5 703.5h0M87.6 700.3h0M110.8 710.9h0M144.9 702.5h0M101.9 717.0h0M106.3 699.6h0M109.9 703.6h0M120.3 695.7h0M106.3 714.4h0M135.6 703.5h0M112.9 698.3h0M125.8 696.2h0M110.4 696.6h0M97.6 700.4h0M108.3 695.7h0M107.2 700.6h0M100.2 695.1h0M105.9 705.5h0M127.2 701.5h0M103.7 699.9h0M141.0 707.1h0M92.0 699.7h0M99.2 697.4h0M79.5 700.3h0M85.1 695.7h0M134.3 707.7h0M93.4 692.3h0M92.7 685.8h0M91.5 698.1h0M90.4 705.9h0M107.4 696.1h0M138.3 705.5h0M146.2 723.6h0M149.2 718.7h0M146.8 719.2h0M142.6 723.7h0M149.6 717.6h0M147.2 716.9h0M148.6 719.9h0M145.4 722.4h0M146.1 719.5h0M148.2 719.5h0M148.1 720.0h0M148.0 721.2h0M147.9 718.1h0M150.5 719.7h0M150.3 718.9h0M145.4 719.5h0M148.8 719.2h0M147.0 717.0h0M144.9 720.5h0M145.8 716.4h0M147.2 718.2h0M150.7 719.7h0M151.5 721.3h0M147.2 719.1h0M145.8 720.9h0M141.4 722.0h0M143.2 719.5h0M139.5 720.9h0M147.8 720.6h0M146.8 719.3h0M146.4 722.4h0M145.0 721.0h0M147.8 719.6h0M146.6 720.5h0M144.9 724.7h0M145.0 723.3h0M148.6 716.1h0M146.7 722.0h0M148.0 718.3h0M146.7 717.7h0M143.5 719.6h0M146.5 723.1h0M146.9 722.1h0M143.1 717.8h0M144.9 723.4h0M142.8 717.0h0M145.9 722.3h0M142.1 719.5h0M142.8 722.8h0M147.7 720.6h0M79.9 718.7h0M80.3 716.3h0M78.3 713.6h0M80.1 715.4h0M81.7 707.8h0M81.1 723.2h0M82.4 718.6h0M77.1 714.7h0M82.2 718.3h0M79.2 716.7h0M79.9 718.7h0M77.0 716.6h0M82.0 728.5h0M79.8 717.1h0M82.7 719.0h0M77.7 719.3h0M81.4 729.2h0M79.1 723.2h0M79.4 726.7h0M80.5 721.6h0M78.1 718.2h0M79.4 699.0h0M81.7 720.0h0M79.6 717.9h0M80.1 721.5h0M77.5 720.8h0M80.2 720.2h0M77.1 719.2h0M77.5 722.1h0M82.6 725.1h0M79.4 716.9h0M78.9 722.1h0M78.7 716.9h0M75.1 715.1h0M78.5 716.9h0M82.4 712.1h0M77.4 723.5h0M78.1 719.1h0M80.4 720.1h0M78.5 725.4h0M82.9 714.2h0M79.5 725.5h0M79.6 714.2h0M79.2 724.9h0M78.1 721.5h0M80.8 716.2h0M81.1 723.9h0M82.0 725.5h0M77.1 725.3h0M81.1 725.7h0M78.4 725.3h0M80.7 713.3h0M82.5 715.5h0M78.0 722.4h0M78.8 722.1h0M79.5 721.7h0M81.6 719.9h0M81.7 725.0h0M78.4 725.0h0M81.2 720.8h0M82.2 729.7h0M81.5 711.5h0M80.9 719.3h0M79.5 722.1h0M79.4 729.6h0M80.6 720.2h0M81.5 724.7h0M82.3 723.8h0M80.0 720.9h0M75.8 711.5h0M82.0 718.2h0M83.5 730.6h0M77.6 721.9h0M85.6 715.5h0M80.8 718.8h0M79.6 718.5h0M80.0 724.5h0M78.5 723.0h0M78.7 723.1h0M80.6 715.6h0M122.1 710.3h0M108.8 714.9h0M95.5 713.4h0M129.8 710.6h0M135.0 714.2h0M102.7 713.3h0M126.6 710.3h0M128.1 713.9h0M110.5 707.2h0M125.7 710.2h0M96.9 711.1h0M87.9 711.2h0M140.6 705.1h0M126.5 709.8h0M114.6 709.8h0M128.9 712.0h0M109.6 708.9h0M114.4 714.8h0M103.7 713.1h0M124.8 707.2h0M135.3 711.9h0M150.6 716.3h0M116.8 711.7h0M106.5 708.7h0M131.1 711.4h0M114.8 711.6h0M129.5 714.3h0M120.3 711.6h0M121.7 717.1h0M91.9 709.2h0M126.7 712.4h0M137.1 715.3h0M147.3 710.1h0M128.7 711.5h0M133.6 712.5h0M132.4 710.2h0M122.6 710.8h0M116.7 710.9h0M106.2 714.8h0M124.4 714.7h0M106.7 707.3h0M111.5 711.7h0M131.2 714.6h0M137.1 715.8h0M130.3 712.3h0M109.9 713.7h0M113.5 710.1h0M128.4 712.6h0M132.1 710.3h0M136.4 712.9h0M118.0 710.2h0M105.6 708.7h0M139.6 708.6h0M129.0 711.5h0M112.4 710.9h0M119.0 714.3h0M128.1 712.1h0M101.5 707.7h0M146.0 709.6h0M98.8 714.8h0M99.7 713.9h0M133.2 712.7h0M133.6 708.6h0M103.5 711.6h0M120.3 711.9h0M126.7 710.2h0M91.0 713.1h0M117.2 714.1h0M148.9 712.3h0M128.3 709.9h0M132.8 712.9h0M123.7 714.3h0M104.8 713.4h0M126.6 716.0h0M95.5 711.8h0M150.4 711.1h0M114.3 716.4h0M154.7 712.3h0M110.5 710.6h0M114.9 710.0h0M109.2 712.5h0M120.8 713.2h0M120.7 709.1h0M130.4 712.7h0M112.3 711.4h0M124.7 712.2h0M118.5 713.9h0M134.9 711.3h0M120.0 709.3h0M117.9 713.2h0M132.2 712.5h0M119.1 710.3h0M123.2 709.4h0M122.0 712.1h0M107.8 712.9h0M117.3 713.5h0M113.6 713.2h0M141.7 712.5h0M131.1 710.5h0M115.4 707.4h0M118.2 709.3h0M121.8 707.0h0M108.4 712.2h0M125.6 708.0h0M131.0 712.4h0M82.4 709.8h0M127.4 712.6h0M126.5 714.4h0M121.6 714.1h0M116.1 710.5h0M140.8 713.5h0M133.5 710.5h0M124.1 713.8h0M104.6 711.5h0M116.8 711.3h0M110.6 708.9h0M126.1 712.6h0M136.0 711.9h0M111.0 708.5h0M121.3 711.3h0M147.7 717.6h0M141.8 709.8h0M101.0 711.5h0M107.9 715.5h0M121.7 711.0h0M119.9 715.1h0M107.2 713.2h0M102.0 711.5h0M111.1 712.8h0M122.3 715.0h0M129.5 710.5h0M102.0 710.0h0M114.3 711.5h0M109.7 714.7h0M132.9 711.4h0M113.3 711.4h0M119.5 712.0h0M97.9 711.0h0M94.4 712.1h0M129.3 709.4h0M122.4 710.5h0M110.6 716.8h0M132.3 713.2h0M114.1 713.0h0M117.5 713.1h0M107.8 711.8h0M114.7 708.6h0M143.2 714.0h0M109.2 708.4h0M110.1 710.0h0M111.7 708.3h0M108.7 712.2h0M125.7 707.2h0M120.0 709.6h0M105.8 711.2h0M110.6 713.7h0M129.7 711.3h0M111.2 716.4h0M145.7 713.0h0M117.9 714.5h0M140.0 710.7h0M144.9 711.6h0M135.1 710.7h0M121.0 710.9h0M120.4 714.5h0M107.7 711.3h0M127.5 710.9h0M148.1 708.4h0M155.0 710.4h0M133.5 716.0h0M127.4 708.5h0M115.4 712.2h0M127.9 714.4h0M135.6 715.6h0M106.9 714.5h0M95.9 712.4h0M105.2 707.6h0M132.8 711.9h0M133.7 708.1h0M103.1 711.8h0M110.8 712.2h0M111.4 711.2h0M104.2 715.2h0M115.6 709.1h0M129.5 713.2h0M123.0 712.6h0M114.5 711.7h0M89.3 708.1h0M102.9 712.7h0M137.0 711.6h0M116.3 714.8h0M115.0 713.6h0M126.0 708.7h0M124.4 712.5h0M104.1 709.4h0M102.3 715.4h0M149.4 713.8h0M141.8 708.7h0" stroke="#1a1a1a" stroke-width="0.84" stroke-linecap="round" opacity="0.8"/>
<path d="M107.6 729.7h0M109.5 703.6h0M104.7 711.0h0M104.6 706.3h0M95.1 706.9h0M99.3 711.1h0M105.0 719.4h0M98.7 711.7h0M92.3 712.1h0M101.7 713.2h0M97.6 711.7h0M94.3 706.1h0M78.2 717.2h0M100.0 703.3h0M112.2 701.6h0M104.0 714.3h0M97.9 722.2h0M103.3 712.2h0M85.5 701.1h0M96.7 726.2h0M102.9 711.7h0M98.0 718.2h0M110.5 705.2h0M101.5 714.5h0M88.2 702.9h0M106.4 715.0h0M93.2 712.9h0M103.9 712.9h0M109.5 709.7h0M88.0 711.0h0M86.6 708.9h0M106.0 727.4h0M100.7 713.8h0M86.9 703.0h0M98.4 713.5h0M89.8 708.0h0M109.0 720.9h0M95.5 714.1h0M106.5 715.3h0M97.2 697.9h0M79.9 694.9h0M74.8 711.9h0M98.0 704.2h0M99.0 716.0h0M94.3 698.8h0M108.0 724.4h0M89.9 729.5h0M95.5 705.0h0M91.4 695.4h0M91.9 697.7h0M105.2 714.9h0M82.6 717.2h0M79.6 713.5h0M99.3 712.7h0M84.9 711.0h0M93.4 712.6h0M108.4 727.3h0M109.3 706.3h0M88.3 712.2h0M98.9 693.5h0M89.5 728.1h0M83.9 705.4h0M88.7 716.4h0M94.4 709.1h0M81.4 717.5h0M95.0 706.0h0M95.2 719.1h0M81.7 698.1h0M85.8 704.1h0M105.0 709.0h0M104.2 686.1h0M94.0 724.5h0M109.2 707.5h0M87.6 715.5h0M84.0 708.7h0M79.9 712.7h0M95.0 726.7h0M98.2 706.1h0M94.2 700.4h0M95.3 710.1h0M98.8 720.4h0M77.0 715.0h0M101.7 701.2h0M112.1 705.5h0M117.2 719.1h0M103.7 714.4h0M104.1 702.7h0M87.7 694.3h0M99.9 705.6h0M101.8 717.4h0M82.9 718.3h0M97.3 713.8h0M99.2 711.8h0M95.1 721.5h0M86.0 701.2h0M88.1 721.3h0M92.1 729.3h0M91.0 714.4h0M107.1 710.3h0M85.8 719.6h0M109.0 688.9h0M100.2 714.7h0M87.5 707.7h0M97.6 712.3h0M92.8 701.5h0M97.6 706.0h0M95.8 706.7h0M96.8 718.7h0M97.1 717.9h0M82.5 716.2h0M97.6 706.3h0M93.5 686.7h0M95.7 708.3h0M74.5 716.5h0M89.2 714.5h0M92.8 716.3h0M95.7 709.4h0M99.4 719.5h0M74.5 712.2h0M89.6 702.0h0M106.7 720.6h0M85.6 701.9h0M102.3 706.3h0M92.0 694.2h0M93.7 722.2h0M90.8 710.9h0M110.7 719.9h0M107.8 717.6h0M149.8 716.0h0M141.7 716.0h0M153.9 721.5h0M144.5 718.7h0M140.9 712.6h0M153.9 720.7h0M145.2 716.8h0M144.7 722.1h0M144.6 722.8h0M141.6 721.9h0M148.5 722.7h0M146.5 720.7h0M141.0 722.6h0M143.4 718.1h0M148.0 716.1h0M142.7 723.3h0M148.8 719.9h0M145.2 722.6h0M144.7 718.7h0M146.7 721.5h0M145.4 724.3h0M146.2 719.6h0M145.6 726.8h0M142.1 720.2h0M141.8 722.0h0M139.9 722.3h0M148.0 718.7h0M141.6 716.5h0M145.1 717.6h0M142.5 719.7h0M142.2 723.5h0M151.4 714.6h0M141.7 721.7h0M140.8 719.4h0M145.8 725.2h0M149.7 720.1h0M145.5 719.9h0M144.3 717.5h0M137.9 719.9h0M148.9 723.3h0M137.5 720.4h0M142.5 721.8h0M140.6 723.7h0M144.2 722.7h0M148.5 715.2h0M144.1 725.5h0M145.1 724.1h0M146.7 719.5h0M146.1 724.1h0M150.1 725.3h0M134.4 699.9h0M133.1 694.2h0M138.9 698.7h0M141.6 702.5h0M136.9 700.0h0M141.9 695.0h0M134.0 698.4h0M141.6 699.7h0M139.8 693.4h0M141.9 697.7h0M143.4 706.3h0M136.9 707.0h0M125.2 700.7h0M135.9 707.0h0M135.6 701.3h0M135.0 688.2h0M144.0 700.2h0M136.5 709.4h0M138.4 704.3h0M134.9 689.2h0M140.4 688.9h0M142.3 682.1h0M140.9 691.6h0M135.2 696.2h0M138.9 692.3h0M144.0 696.8h0M141.9 702.9h0M139.6 700.0h0M137.9 698.6h0M142.6 691.7h0M132.4 687.3h0M135.3 698.3h0M139.3 693.2h0M142.4 699.3h0M146.9 691.4h0M142.7 699.2h0M135.3 695.7h0M135.4 693.6h0M142.1 684.8h0M135.6 690.2h0" stroke="#e0474c" stroke-width="0.84" stroke-linecap="round" opacity="0.8"/>
<ellipse cx="112.0" cy="722.3" rx="36.0" ry="6.4" fill="none" stroke="#808080" stroke-width="0.55"/>
<ellipse cx="109.8" cy="722.3" rx="31.7" ry="6.0" fill="none" stroke="#808080" stroke-width="0.55"/>
<ellipse cx="107.7" cy="722.3" rx="27.4" ry="5.6" fill="none" stroke="#808080" stroke-width="0.55"/>
<ellipse cx="105.5" cy="722.3" rx="23.0" ry="5.2" fill="none" stroke="#808080" stroke-width="0.55"/>
<ellipse cx="103.4" cy="722.3" rx="18.7" ry="4.9" fill="none" stroke="#808080" stroke-width="0.55"/>
<ellipse cx="101.2" cy="722.3" rx="14.4" ry="4.5" fill="none" stroke="#808080" stroke-width="0.55"/>
<path d="M79 716Q84 704 92 705Q100 707 108 712Q116 715 124 716" fill="none" stroke="#e27c80" stroke-width="0.6"/>
<path d="M83 716Q88 709 94 710Q101 712 108 715" fill="none" stroke="#e7a0a3" stroke-width="0.55"/>
<line x1="111.0" y1="736.5" x2="135.0" y2="736.5" stroke="#666" stroke-width="0.9" />
<ellipse cx="145.5" cy="721.5" rx="3.0" ry="2.2" fill="none" stroke="#444" stroke-width="0.6" transform="rotate(0 145.5 721.5)"/>
<ellipse cx="145.5" cy="721.5" rx="1.8" ry="1.3" fill="none" stroke="#444" stroke-width="0.6" transform="rotate(0 145.5 721.5)"/>
<line x1="69.6" y1="715.2" x2="174.8" y2="715.2" stroke="#000" stroke-width="1.1" />
<line x1="120.8" y1="631.3" x2="120.8" y2="736.6" stroke="#000" stroke-width="1.1" />
<text x="73.7" y="644.4" font-size="13">20.2%</text>
<text x="172.4" y="644.4" font-size="13" text-anchor="end">8.1%</text>
<text x="73.7" y="741.2" font-size="13">54.8%</text>
<text x="173.2" y="741.2" font-size="13" text-anchor="end">16.9%</text>
<text x="120.4" y="621.8" font-size="13.2" text-anchor="middle" font-weight="bold" fill="#000">0 wk</text>
<path d="M226.1 703.6h0M229.4 702.9h0M218.8 711.6h0M228.8 708.9h0M224.5 714.0h0M241.4 705.8h0M216.3 701.8h0M245.7 702.6h0M209.2 709.6h0M237.5 700.6h0M223.5 699.4h0M216.7 717.7h0M227.0 706.4h0M225.8 709.7h0M223.7 700.9h0M210.9 720.0h0M215.9 715.1h0M216.4 715.7h0M233.3 706.7h0M249.0 702.4h0M222.2 702.9h0M215.7 705.8h0M213.6 706.0h0M243.8 697.6h0M210.0 702.3h0M219.4 714.0h0M233.6 710.8h0M211.5 701.1h0M224.7 709.2h0M222.2 703.0h0M209.4 706.3h0M216.5 705.1h0M212.1 716.0h0M218.8 708.3h0M222.0 708.1h0M221.9 707.0h0M201.5 706.4h0M233.2 696.4h0M220.8 711.4h0M240.1 707.5h0M240.4 705.3h0M217.8 714.1h0M227.6 704.8h0M222.2 709.9h0M222.6 706.5h0M222.2 699.1h0M245.7 715.3h0M243.0 707.2h0M226.5 711.4h0M234.8 697.1h0M229.2 702.0h0M224.1 704.0h0M245.3 711.2h0M224.7 716.3h0M224.1 703.7h0M222.8 705.8h0M225.6 713.0h0M223.6 707.6h0M237.1 709.7h0M236.3 708.8h0M209.5 701.3h0M205.2 714.8h0M229.9 705.2h0M213.2 710.1h0M223.4 709.9h0M215.0 701.4h0M243.7 702.3h0M224.7 716.0h0M203.2 712.2h0M225.8 707.1h0M228.2 700.9h0M198.6 719.2h0M221.6 713.3h0M238.2 709.7h0M230.4 712.2h0M243.7 710.9h0M240.0 706.3h0M220.0 708.5h0M229.8 711.2h0M248.1 713.0h0M228.9 710.1h0M230.9 706.0h0M212.1 708.8h0M221.3 702.9h0M226.4 706.8h0M218.0 697.5h0M235.6 714.4h0M224.8 714.3h0M217.0 705.3h0M231.2 699.6h0M225.7 709.8h0M245.1 703.9h0M230.0 704.1h0M218.6 692.0h0M213.9 714.8h0M231.2 709.0h0M254.3 711.2h0M210.4 706.8h0M214.4 710.5h0M236.6 703.2h0M226.1 696.1h0M226.2 695.0h0M229.9 708.3h0M231.6 714.2h0M219.9 705.5h0M212.7 707.0h0M216.8 713.9h0M232.7 707.3h0M218.6 690.9h0M218.0 709.8h0M232.9 689.7h0M196.6 709.0h0M256.9 697.9h0M259.7 705.9h0M252.8 694.4h0M266.7 702.1h0M257.9 704.5h0M263.4 691.3h0M265.4 706.7h0M261.4 709.4h0M256.2 707.6h0M261.1 690.8h0M259.1 711.6h0M259.3 696.6h0M258.8 692.2h0M266.8 721.9h0M268.6 705.1h0M265.8 696.6h0M259.6 688.5h0M269.1 696.7h0M258.5 693.8h0M263.0 694.6h0M262.1 701.7h0M268.6 687.8h0M263.5 693.2h0M259.9 716.1h0M265.1 696.2h0M264.5 699.9h0M267.5 695.3h0M264.5 698.0h0M262.1 698.6h0M259.0 701.1h0M266.9 694.1h0M260.1 703.7h0M258.3 708.7h0M265.5 677.4h0M258.8 689.4h0M266.1 709.4h0M256.1 693.3h0M261.6 696.4h0M265.6 709.8h0M265.0 710.9h0M266.7 699.4h0M259.9 692.8h0M266.1 708.9h0M267.1 696.9h0M260.1 702.7h0M268.2 703.6h0M263.2 692.0h0M264.2 705.4h0M257.4 717.4h0M257.5 709.3h0M261.1 701.7h0M258.2 694.6h0M265.5 698.2h0M260.4 708.9h0M265.6 701.8h0M263.2 717.1h0M261.2 704.0h0M264.2 686.4h0M252.6 701.4h0M266.3 702.1h0M259.4 693.7h0M266.1 697.2h0M254.1 706.8h0M263.2 703.9h0M267.2 713.2h0M264.8 698.4h0M251.7 703.1h0M261.3 713.1h0M268.4 704.8h0M268.8 699.4h0M261.9 691.8h0M260.5 702.2h0M267.3 692.9h0M266.0 723.2h0M255.4 697.6h0M262.2 710.0h0M271.9 712.3h0M261.9 691.8h0M261.8 699.8h0M263.3 691.3h0M270.5 690.2h0M268.1 693.9h0M262.8 693.3h0M266.1 692.3h0M268.4 691.2h0M273.6 697.5h0M263.3 683.2h0M269.7 694.0h0M266.3 689.2h0M261.8 685.7h0M273.6 699.4h0M264.4 700.4h0M260.5 695.8h0M268.1 689.6h0M264.7 688.9h0M266.1 698.2h0M269.0 694.7h0M269.3 686.0h0M272.0 692.8h0M262.1 691.5h0M264.1 693.4h0M266.9 683.8h0M269.8 699.9h0M262.9 698.9h0M269.8 697.0h0M270.9 687.5h0M268.2 689.0h0M273.1 689.2h0M262.4 697.5h0M267.9 693.1h0M266.4 695.5h0M271.2 690.2h0M264.3 690.7h0M265.8 693.1h0M262.2 694.2h0M262.2 691.8h0M265.3 692.0h0M270.4 699.5h0M269.2 699.3h0M265.2 698.6h0M239.0 712.7h0M245.5 708.0h0M227.9 711.5h0M247.3 711.6h0M223.0 708.5h0M240.2 708.5h0M216.5 711.7h0M243.6 709.5h0M204.4 712.9h0M256.4 710.8h0M232.5 705.0h0M258.0 708.7h0M254.4 710.2h0M237.2 711.4h0M204.1 720.2h0M208.7 712.3h0M223.8 711.3h0M267.5 706.4h0M237.2 713.5h0M242.4 713.2h0M225.0 707.1h0M213.8 710.8h0M254.8 712.2h0M272.1 712.3h0M243.9 712.6h0M205.4 713.7h0M217.8 710.9h0M286.9 708.3h0M242.4 712.9h0M242.6 712.0h0M199.9 708.9h0M269.7 713.6h0M224.7 709.3h0M249.9 708.9h0M244.8 710.1h0M270.0 712.9h0M265.2 712.5h0M280.8 713.2h0M245.6 708.9h0M231.6 713.2h0M239.8 709.7h0M259.8 710.4h0M248.1 711.7h0M225.6 716.2h0M241.8 715.3h0M233.2 707.7h0M215.1 710.4h0M236.3 712.2h0M250.3 708.3h0M244.6 708.3h0M265.5 710.9h0M275.8 716.3h0M257.8 716.4h0M235.0 711.6h0M222.8 713.8h0M214.9 710.5h0M249.2 710.5h0M220.3 716.2h0M226.3 709.2h0M244.5 715.1h0M225.7 709.8h0M231.2 709.8h0M243.8 709.9h0M234.9 713.1h0M231.7 715.5h0M226.5 709.7h0M280.8 716.5h0M241.4 714.5h0M246.8 710.5h0M253.5 712.9h0M265.6 706.5h0M256.1 712.5h0M226.3 710.7h0M231.9 708.0h0M228.5 714.3h0M209.7 710.9h0M247.8 711.8h0M240.9 708.6h0M251.4 709.3h0M258.2 712.6h0M232.1 715.1h0M242.1 712.0h0M260.0 713.3h0M239.9 711.6h0M244.2 712.3h0M233.5 708.9h0M235.2 715.6h0M249.0 715.4h0M274.7 711.7h0M223.2 714.5h0M228.1 711.2h0M268.8 713.7h0M262.0 708.0h0M240.7 715.4h0M214.4 712.6h0M248.1 705.1h0M272.0 709.9h0M204.3 713.4h0M231.1 712.1h0M223.7 716.1h0M217.6 713.1h0M250.9 711.7h0M234.6 711.2h0M260.5 713.4h0M238.4 708.7h0M243.2 713.6h0M201.9 719.5h0M236.4 708.6h0M205.2 714.6h0M251.5 711.4h0M233.9 706.7h0M224.5 716.6h0M250.8 703.8h0M223.2 694.7h0M267.4 710.0h0M225.2 692.5h0M231.3 731.2h0M255.2 714.0h0M232.2 690.3h0M262.1 703.3h0M246.5 712.2h0M237.1 707.3h0M224.4 712.2h0M260.5 699.5h0M249.9 700.7h0M204.4 701.8h0M250.5 710.6h0M262.3 698.3h0M227.7 705.8h0M250.8 703.9h0M211.5 689.6h0M264.8 715.8h0M233.7 709.7h0M266.9 700.3h0M215.9 687.7h0M243.0 709.7h0M257.0 711.2h0M209.6 709.1h0M248.2 703.9h0M278.7 709.6h0M269.2 714.2h0M263.2 705.3h0M232.4 694.8h0M231.6 702.8h0M240.7 700.9h0M249.7 704.3h0M212.9 692.4h0M229.1 714.3h0M207.4 685.1h0M231.4 735.2h0M220.6 707.9h0M225.1 713.8h0M271.6 703.6h0M265.2 694.3h0M240.7 692.4h0M240.2 699.0h0M241.5 693.9h0M241.3 706.3h0M221.2 697.1h0M205.8 701.2h0M245.6 703.9h0" stroke="#555" stroke-width="0.80" stroke-linecap="round" opacity="0.7"/>
<ellipse cx="236" cy="722.4" rx="33" ry="6.9" fill="#ececec"/>
<ellipse cx="238.5" cy="722.4" rx="33.0" ry="6.7" fill="none" stroke="#8a8a8a" stroke-width="0.55"/>
<ellipse cx="236.3" cy="722.4" rx="29.7" ry="6.3" fill="none" stroke="#8a8a8a" stroke-width="0.55"/>
<ellipse cx="234.1" cy="722.4" rx="26.4" ry="6.0" fill="none" stroke="#8a8a8a" stroke-width="0.55"/>
<ellipse cx="231.9" cy="722.4" rx="23.1" ry="5.6" fill="none" stroke="#8a8a8a" stroke-width="0.55"/>
<ellipse cx="229.7" cy="722.4" rx="19.8" ry="5.2" fill="none" stroke="#8a8a8a" stroke-width="0.55"/>
<ellipse cx="227.5" cy="722.4" rx="16.5" ry="4.9" fill="none" stroke="#8a8a8a" stroke-width="0.55"/>
<ellipse cx="225.3" cy="722.4" rx="13.2" ry="4.5" fill="none" stroke="#8a8a8a" stroke-width="0.55"/>
<ellipse cx="223.1" cy="722.4" rx="9.9" ry="4.1" fill="none" stroke="#8a8a8a" stroke-width="0.55"/>
<ellipse cx="222" cy="722" rx="5" ry="2.2" fill="#f8f8f8" stroke="#999" stroke-width="0.5"/>
<line x1="238.2" y1="736.5" x2="262.7" y2="736.5" stroke="#666" stroke-width="0.9" />
<line x1="195.5" y1="715.2" x2="300.7" y2="715.2" stroke="#000" stroke-width="1.1" />
<line x1="246.6" y1="631.3" x2="246.6" y2="736.6" stroke="#000" stroke-width="1.1" />
<text x="198.4" y="644.4" font-size="13">5.2%</text>
<text x="299.3" y="644.4" font-size="13" text-anchor="end">4.1%</text>
<text x="201.0" y="741.2" font-size="13">71.9%</text>
<text x="300.4" y="741.2" font-size="13" text-anchor="end">18.8%</text>
<text x="246.5" y="621.8" font-size="13.2" text-anchor="middle" font-weight="bold" fill="#000">9 wk</text>
<text x="191.0" y="762.5" font-size="13.2">(Gated on CD8<tspan font-size="7.5" dy="-4.1">+</tspan><tspan dy="4.1" font-size="13.2"> T cells)</tspan></text>
<text x="26.8" y="728.2" font-size="12.9" transform="rotate(-90 26.8 728.2)">CCR7-</text>
<text x="42.1" y="728.2" font-size="12.9" transform="rotate(-90 42.1 728.2)">PE-CF594</text>
<path d="M31.5 742V767H58.5" stroke="#000" stroke-width="1" fill="none" />
<path d="M31.5 734.2L27.9 742.2H35.1Z" fill="#000"/>
<path d="M64.4 767L56.4 763.4V770.6Z" fill="#000"/>
<text x="71.5" y="771.7" font-size="12.9">CD45RA-BV711</text>
</svg></body></html>
